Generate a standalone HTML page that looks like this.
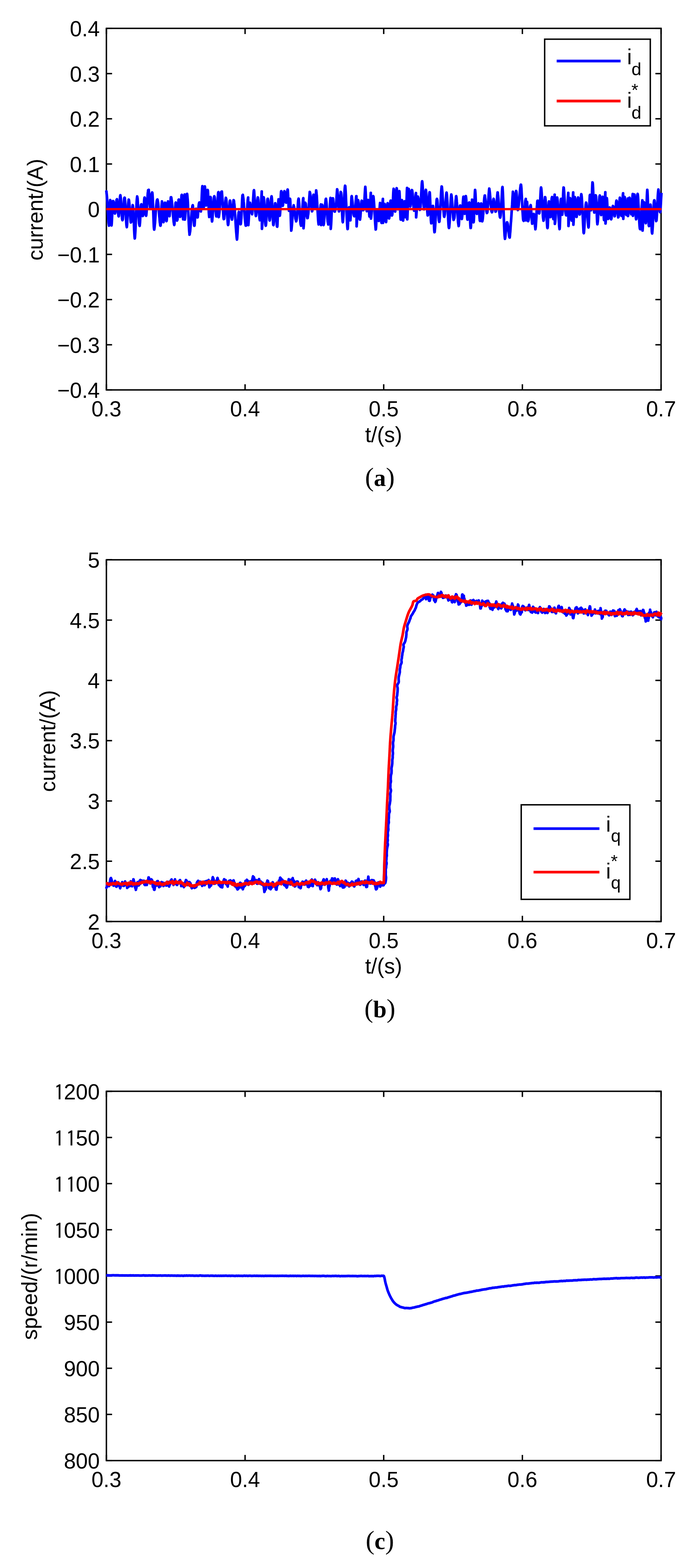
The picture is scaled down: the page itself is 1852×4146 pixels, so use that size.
<!DOCTYPE html>
<html><head><meta charset="utf-8"><title>Figure</title><style>
html,body{margin:0;padding:0;background:#fff;}
svg{display:block;}
.t{font-family:"Liberation Sans",Arial,sans-serif;font-size:57px;fill:#000;}
.s{font-family:"Liberation Sans",Arial,sans-serif;font-size:47px;fill:#000;}
.c{font-family:"Liberation Serif","Times New Roman",serif;font-size:70px;fill:#000;}
</style></head><body>
<svg width="1852" height="4146" viewBox="0 0 1852 4146">
<rect width="1852" height="4146" fill="#fff"/>
<rect x="281.5" y="75.0" width="1467.5" height="956.0" fill="none" stroke="#000" stroke-width="3.75"/>
<path d="M281.5 1031.0V1016.0M281.5 75.0V90.0M648.4 1031.0V1016.0M648.4 75.0V90.0M1015.2 1031.0V1016.0M1015.2 75.0V90.0M1382.1 1031.0V1016.0M1382.1 75.0V90.0M1749.0 1031.0V1016.0M1749.0 75.0V90.0M281.5 1031.0H296.5M1749.0 1031.0H1734.0M281.5 911.5H296.5M1749.0 911.5H1734.0M281.5 792.0H296.5M1749.0 792.0H1734.0M281.5 672.5H296.5M1749.0 672.5H1734.0M281.5 553.0H296.5M1749.0 553.0H1734.0M281.5 433.5H296.5M1749.0 433.5H1734.0M281.5 314.0H296.5M1749.0 314.0H1734.0M281.5 194.5H296.5M1749.0 194.5H1734.0M281.5 75.0H296.5M1749.0 75.0H1734.0" stroke="#000" stroke-width="3.75" fill="none"/>
<text class="t" x="281.5" y="1101.0" text-anchor="middle">0.3</text>
<text class="t" x="648.4" y="1101.0" text-anchor="middle">0.4</text>
<text class="t" x="1015.2" y="1101.0" text-anchor="middle">0.5</text>
<text class="t" x="1382.1" y="1101.0" text-anchor="middle">0.6</text>
<text class="t" x="1749.0" y="1101.0" text-anchor="middle">0.7</text>
<text class="t" x="264" y="1052.0" text-anchor="end">&#8722;0.4</text>
<text class="t" x="264" y="932.5" text-anchor="end">&#8722;0.3</text>
<text class="t" x="264" y="813.0" text-anchor="end">&#8722;0.2</text>
<text class="t" x="264" y="693.5" text-anchor="end">&#8722;0.1</text>
<text class="t" x="264" y="574.0" text-anchor="end">0</text>
<text class="t" x="264" y="454.5" text-anchor="end">0.1</text>
<text class="t" x="264" y="335.0" text-anchor="end">0.2</text>
<text class="t" x="264" y="215.5" text-anchor="end">0.3</text>
<text class="t" x="264" y="96.0" text-anchor="end">0.4</text>
<text class="t" transform="translate(113,554.5) rotate(-90)" text-anchor="middle">current/(A)</text>
<text class="t" x="1015" y="1168.5" text-anchor="middle">t/(s)</text>
<text class="c" x="1005" y="1285" text-anchor="middle">(<tspan font-weight="bold" font-size="64">a</tspan>)</text>
<polyline points="281.0,507.7 281.5,505.8 282.0,511.3 282.5,515.2 283.0,521.1 283.5,528.3 284.0,534.8 284.5,544.7 285.0,552.9 285.5,565.0 286.0,570.8 286.5,578.0 287.0,584.8 287.5,589.9 288.0,593.6 288.5,596.6 289.0,593.3 289.5,581.0 290.0,565.6 290.5,547.7 291.0,534.4 291.5,529.0 292.0,529.7 292.5,538.1 293.0,553.1 293.5,570.4 294.0,586.3 294.5,594.2 295.0,596.2 295.5,592.3 296.0,583.0 296.5,573.9 297.0,564.5 297.5,554.3 298.0,545.1 298.5,538.9 299.0,531.8 299.5,533.1 300.0,532.0 300.5,533.7 301.0,538.7 301.5,543.3 302.0,547.6 302.5,552.3 303.0,557.8 303.5,561.3 304.0,564.5 304.5,564.1 305.0,562.0 305.5,559.3 306.0,553.5 306.5,547.2 307.0,542.4 307.5,536.9 308.0,531.7 308.5,528.2 309.0,527.9 309.5,526.8 310.0,532.2 310.5,536.7 311.0,541.2 311.5,549.6 312.0,556.1 312.5,564.1 313.0,566.9 313.5,570.7 314.0,572.2 314.5,569.9 315.0,562.0 315.5,555.8 316.0,547.5 316.5,537.4 317.0,530.4 317.5,521.2 318.0,518.1 318.5,516.1 319.0,520.3 319.5,523.6 320.0,529.7 320.5,536.5 321.0,548.0 321.5,556.2 322.0,564.8 322.5,572.6 323.0,577.8 323.5,580.8 324.0,582.2 324.5,581.1 325.0,579.5 325.5,571.7 326.0,565.2 326.5,557.1 327.0,548.9 327.5,541.0 328.0,532.2 328.5,525.9 329.0,523.3 329.5,522.6 330.0,523.2 330.5,526.2 331.0,531.6 331.5,539.9 332.0,548.8 332.5,559.7 333.0,568.7 333.5,579.1 334.0,587.2 334.5,594.2 335.0,598.0 335.5,600.6 336.0,596.0 336.5,589.6 337.0,578.3 337.5,570.0 338.0,559.7 338.5,550.9 339.0,540.1 339.5,536.2 340.0,531.6 340.5,527.8 341.0,528.5 341.5,531.4 342.0,536.6 342.5,542.9 343.0,550.5 343.5,555.2 344.0,562.7 344.5,570.4 345.0,579.0 345.5,584.0 346.0,588.2 346.5,587.7 347.0,587.5 347.5,583.7 348.0,580.3 348.5,573.0 349.0,564.8 349.5,557.4 350.0,551.7 350.5,545.7 351.0,542.4 351.5,543.3 352.0,547.7 352.5,551.5 353.0,559.9 353.5,570.3 354.0,582.3 354.5,596.4 355.0,608.6 355.5,618.2 356.0,626.2 356.5,630.6 357.0,628.2 357.5,620.8 358.0,613.4 358.5,603.6 359.0,591.4 359.5,579.4 360.0,566.8 360.5,555.2 361.0,545.2 361.5,534.8 362.0,527.4 362.5,522.7 363.0,519.4 363.5,522.8 364.0,524.6 364.5,533.4 365.0,540.1 365.5,549.3 366.0,559.0 366.5,568.2 367.0,576.5 367.5,583.2 368.0,590.4 368.5,593.2 369.0,596.0 369.5,597.3 370.0,592.2 370.5,587.2 371.0,577.0 371.5,567.9 372.0,556.4 372.5,548.1 373.0,543.0 373.5,540.9 374.0,540.3 374.5,544.2 375.0,549.1 375.5,556.5 376.0,560.9 376.5,567.6 377.0,569.9 377.5,571.1 378.0,570.8 378.5,569.0 379.0,566.2 379.5,560.9 380.0,552.5 380.5,544.4 381.0,536.9 381.5,528.8 382.0,524.2 382.5,522.2 383.0,523.1 383.5,530.1 384.0,535.9 384.5,547.2 385.0,556.1 385.5,565.2 386.0,569.7 386.5,570.5 387.0,568.6 387.5,563.2 388.0,557.4 388.5,550.3 389.0,542.3 389.5,534.0 390.0,525.6 390.5,518.7 391.0,510.8 391.5,507.2 392.0,502.7 392.5,502.4 393.0,502.2 393.5,501.9 394.0,508.1 394.5,514.2 395.0,521.0 395.5,530.3 396.0,537.2 396.5,542.8 397.0,549.0 397.5,552.0 398.0,552.6 398.5,549.5 399.0,546.7 399.5,540.7 400.0,531.9 400.5,524.6 401.0,517.7 401.5,511.8 402.0,510.8 402.5,508.8 403.0,509.6 403.5,514.6 404.0,523.0 404.5,535.3 405.0,546.0 405.5,560.1 406.0,574.3 406.5,586.9 407.0,599.5 407.5,605.0 408.0,607.2 408.5,604.0 409.0,600.4 409.5,594.0 410.0,590.4 410.5,582.4 411.0,575.6 411.5,567.6 412.0,560.7 412.5,554.9 413.0,548.9 413.5,543.0 414.0,538.4 414.5,534.0 415.0,530.4 415.5,529.1 416.0,527.9 416.5,527.5 417.0,529.3 417.5,531.9 418.0,534.1 418.5,537.5 419.0,543.0 419.5,549.3 420.0,553.4 420.5,559.6 421.0,565.7 421.5,572.9 422.0,576.3 422.5,583.4 423.0,588.7 423.5,591.0 424.0,595.8 424.5,596.9 425.0,595.6 425.5,590.5 426.0,579.5 426.5,568.1 427.0,557.4 427.5,544.0 428.0,538.1 428.5,532.6 429.0,534.3 429.5,538.7 430.0,545.5 430.5,557.3 431.0,568.7 431.5,577.0 432.0,583.3 432.5,587.4 433.0,585.2 433.5,579.5 434.0,572.6 434.5,564.3 435.0,553.3 435.5,545.7 436.0,539.9 436.5,536.0 437.0,536.2 437.5,540.8 438.0,549.5 438.5,559.5 439.0,568.6 439.5,577.1 440.0,581.9 440.5,584.7 441.0,582.6 441.5,577.6 442.0,568.6 442.5,558.2 443.0,549.0 443.5,539.8 444.0,533.9 444.5,532.6 445.0,533.0 445.5,539.8 446.0,545.0 446.5,551.7 447.0,560.8 447.5,566.8 448.0,569.7 448.5,571.6 449.0,567.2 449.5,559.3 450.0,554.1 450.5,543.6 451.0,536.3 451.5,527.1 452.0,521.7 452.5,522.4 453.0,521.8 453.5,525.0 454.0,529.0 454.5,531.7 455.0,535.9 455.5,541.0 456.0,547.0 456.5,551.5 457.0,558.6 457.5,564.6 458.0,572.0 458.5,575.6 459.0,580.4 459.5,586.4 460.0,589.4 460.5,593.1 461.0,594.8 461.5,592.2 462.0,583.4 462.5,573.7 463.0,560.4 463.5,550.9 464.0,544.1 464.5,536.9 465.0,535.5 465.5,537.8 466.0,545.4 466.5,553.7 467.0,562.1 467.5,572.5 468.0,579.1 468.5,583.2 469.0,582.0 469.5,580.2 470.0,572.1 470.5,562.2 471.0,551.4 471.5,541.5 472.0,534.1 472.5,528.1 473.0,527.8 473.5,530.0 474.0,536.7 474.5,544.8 475.0,553.6 475.5,561.1 476.0,569.6 476.5,573.4 477.0,572.2 477.5,567.7 478.0,558.6 478.5,548.8 479.0,537.5 479.5,529.2 480.0,520.4 480.5,515.7 481.0,515.3 481.5,521.1 482.0,531.3 482.5,542.0 483.0,553.6 483.5,566.9 484.0,575.7 484.5,579.9 485.0,579.2 485.5,574.0 486.0,563.8 486.5,551.5 487.0,536.9 487.5,526.6 488.0,516.8 488.5,514.2 489.0,580.6 489.5,578.5 490.0,572.8 490.5,564.4 491.0,556.9 491.5,548.6 492.0,540.1 492.5,531.4 493.0,524.9 493.5,520.4 494.0,516.6 494.5,513.3 495.0,512.6 495.5,516.4 496.0,522.3 496.5,527.5 497.0,535.7 497.5,546.5 498.0,556.2 498.5,567.8 499.0,579.7 499.5,590.9 500.0,599.8 500.5,610.0 501.0,615.0 501.5,620.6 502.0,617.1 502.5,614.4 503.0,612.0 503.5,606.2 504.0,600.2 504.5,594.2 505.0,588.2 505.5,581.0 506.0,574.2 506.5,568.5 507.0,560.9 507.5,555.6 508.0,550.8 508.5,548.4 509.0,545.4 509.5,543.9 510.0,542.5 510.5,546.0 511.0,553.9 511.5,562.2 512.0,573.5 512.5,583.1 513.0,589.8 513.5,595.4 514.0,597.0 514.5,596.8 515.0,592.8 515.5,583.8 516.0,575.9 516.5,566.1 517.0,561.1 517.5,555.9 518.0,552.3 518.5,553.4 519.0,552.1 519.5,555.9 520.0,560.3 520.5,564.1 521.0,570.5 521.5,574.5 522.0,574.7 522.5,574.9 523.0,574.7 523.5,570.3 524.0,563.9 524.5,558.3 525.0,551.8 525.5,545.7 526.0,541.4 526.5,537.6 527.0,536.9 527.5,535.3 528.0,535.7 528.5,538.9 529.0,543.5 529.5,548.3 530.0,551.9 530.5,557.5 531.0,558.7 531.5,559.0 532.0,553.6 532.5,546.7 533.0,536.8 533.5,526.7 534.0,514.1 534.5,503.5 535.0,496.4 535.5,492.2 536.0,497.3 536.5,507.9 537.0,522.1 537.5,537.4 538.0,546.1 538.5,551.2 539.0,548.7 539.5,540.7 540.0,526.3 540.5,512.5 541.0,501.0 541.5,494.2 542.0,492.9 542.5,496.8 543.0,504.3 543.5,515.3 544.0,526.4 544.5,534.5 545.0,540.6 545.5,543.3 546.0,540.7 546.5,536.2 547.0,528.6 547.5,520.1 548.0,511.1 548.5,504.0 549.0,502.3 549.5,502.4 550.0,504.3 550.5,512.3 551.0,523.0 551.5,536.3 552.0,547.7 552.5,561.9 553.0,568.6 553.5,573.7 554.0,571.4 554.5,564.9 555.0,553.9 555.5,542.6 556.0,530.5 556.5,523.6 557.0,520.9 557.5,522.2 558.0,531.6 558.5,541.4 559.0,553.1 559.5,566.1 560.0,574.5 560.5,581.8 561.0,585.5 561.5,583.0 562.0,576.5 562.5,570.0 563.0,564.7 563.5,558.4 564.0,548.7 564.5,540.6 565.0,533.7 565.5,526.1 566.0,522.3 566.5,519.9 567.0,518.9 567.5,520.3 568.0,522.8 568.5,528.6 569.0,533.9 569.5,542.1 570.0,551.0 570.5,555.8 571.0,561.1 571.5,567.4 572.0,571.0 572.5,572.3 573.0,570.7 573.5,565.3 574.0,559.4 574.5,553.5 575.0,542.9 575.5,535.6 576.0,525.8 576.5,518.8 577.0,512.5 577.5,508.4 578.0,508.0 578.5,574.1 579.0,573.1 579.5,569.9 580.0,566.1 580.5,562.0 581.0,555.2 581.5,548.9 582.0,542.6 582.5,536.5 583.0,531.2 583.5,524.1 584.0,520.4 584.5,515.1 585.0,510.9 585.5,507.3 586.0,506.9 586.5,506.6 587.0,506.6 587.5,513.3 588.0,520.1 588.5,527.1 589.0,536.5 589.5,547.8 590.0,556.4 590.5,563.4 591.0,571.3 591.5,576.4 592.0,579.4 592.5,578.1 593.0,578.6 593.5,573.2 594.0,567.8 594.5,560.1 595.0,552.8 595.5,543.6 596.0,535.6 596.5,530.4 597.0,526.6 597.5,523.0 598.0,524.5 598.5,526.2 599.0,530.4 599.5,538.9 600.0,545.4 600.5,556.1 601.0,564.4 601.5,574.2 602.0,580.9 602.5,587.7 603.0,593.6 603.5,594.9 604.0,592.8 604.5,587.4 605.0,580.7 605.5,570.2 606.0,560.5 606.5,551.6 607.0,542.4 607.5,535.8 608.0,531.9 608.5,530.3 609.0,531.4 609.5,536.6 610.0,541.8 610.5,549.1 611.0,555.8 611.5,562.9 612.0,568.6 612.5,575.2 613.0,577.7 613.5,580.4 614.0,580.4 614.5,577.5 615.0,571.2 615.5,562.3 616.0,555.1 616.5,545.6 617.0,539.3 617.5,532.4 618.0,529.3 618.5,529.7 619.0,531.5 619.5,536.7 620.0,539.9 620.5,545.4 621.0,553.3 621.5,560.9 622.0,566.8 622.5,575.4 623.0,582.4 623.5,591.6 624.0,600.4 624.5,607.1 625.0,613.7 625.5,619.2 626.0,626.0 626.5,630.7 627.0,633.4 627.5,628.9 628.0,620.7 628.5,614.1 629.0,602.3 629.5,591.6 630.0,582.2 630.5,571.2 631.0,566.1 631.5,561.6 632.0,560.2 632.5,561.4 633.0,563.2 633.5,565.0 634.0,570.6 634.5,576.3 635.0,581.9 635.5,585.8 636.0,589.3 636.5,593.0 637.0,592.3 637.5,588.8 638.0,581.6 638.5,576.3 639.0,562.5 639.5,553.5 640.0,544.2 640.5,532.0 641.0,523.6 641.5,516.2 642.0,515.9 642.5,515.1 643.0,518.8 643.5,522.3 644.0,525.9 644.5,532.8 645.0,537.1 645.5,544.4 646.0,551.9 646.5,558.8 647.0,566.6 647.5,573.8 648.0,579.1 648.5,584.5 649.0,589.2 649.5,593.0 650.0,596.5 650.5,596.7 651.0,595.6 651.5,591.4 652.0,585.2 652.5,579.3 653.0,569.4 653.5,561.3 654.0,553.4 654.5,542.8 655.0,536.0 655.5,528.7 656.0,525.2 656.5,522.2 657.0,595.2 657.5,589.5 658.0,582.0 658.5,573.6 659.0,562.8 659.5,554.1 660.0,546.1 660.5,540.6 661.0,537.3 661.5,536.1 662.0,539.1 662.5,543.4 663.0,546.2 663.5,547.6 664.0,551.9 664.5,553.7 665.0,557.3 665.5,560.3 666.0,563.2 666.5,565.2 667.0,566.5 667.5,562.1 668.0,556.6 668.5,550.2 669.0,542.2 669.5,531.7 670.0,523.8 670.5,515.7 671.0,508.4 671.5,504.0 672.0,503.0 672.5,506.8 673.0,515.5 673.5,523.3 674.0,530.4 674.5,541.3 675.0,550.3 675.5,558.8 676.0,565.0 676.5,568.7 677.0,571.1 677.5,570.5 678.0,567.4 678.5,561.2 679.0,554.0 679.5,548.7 680.0,540.9 680.5,535.4 681.0,529.7 681.5,524.9 682.0,522.0 682.5,522.4 683.0,525.7 683.5,528.9 684.0,536.7 684.5,544.5 685.0,552.8 685.5,562.5 686.0,568.7 686.5,576.7 687.0,579.9 687.5,582.3 688.0,581.9 688.5,580.5 689.0,575.1 689.5,569.3 690.0,559.1 690.5,549.7 691.0,538.1 691.5,524.8 692.0,515.2 692.5,506.3 693.0,605.1 693.5,600.5 694.0,592.1 694.5,584.2 695.0,570.5 695.5,556.7 696.0,544.5 696.5,533.1 697.0,526.5 697.5,521.6 698.0,523.3 698.5,526.0 699.0,530.9 699.5,540.4 700.0,552.2 700.5,562.8 701.0,575.6 701.5,585.4 702.0,591.1 702.5,595.0 703.0,596.8 703.5,595.6 704.0,590.8 704.5,582.4 705.0,574.1 705.5,562.8 706.0,553.6 706.5,543.1 707.0,536.4 707.5,528.9 708.0,525.7 708.5,525.6 709.0,527.7 709.5,529.9 710.0,536.2 710.5,544.6 711.0,553.3 711.5,561.3 712.0,570.1 712.5,576.4 713.0,582.1 713.5,583.1 714.0,580.4 714.5,575.7 715.0,570.9 715.5,563.2 716.0,552.6 716.5,543.2 717.0,532.8 717.5,524.6 718.0,521.3 718.5,519.0 719.0,522.3 719.5,527.0 720.0,537.2 720.5,547.4 721.0,560.3 721.5,570.5 722.0,580.5 722.5,588.3 723.0,594.6 723.5,595.2 724.0,592.9 724.5,588.1 725.0,581.0 725.5,574.4 726.0,562.5 726.5,554.4 727.0,548.0 727.5,542.2 728.0,537.5 728.5,537.5 729.0,539.8 729.5,545.1 730.0,551.9 730.5,562.3 731.0,571.0 731.5,581.8 732.0,588.3 732.5,596.7 733.0,599.1 733.5,599.4 734.0,594.7 734.5,582.4 735.0,569.1 735.5,553.0 736.0,542.1 736.5,531.7 737.0,527.0 737.5,529.8 738.0,536.8 738.5,545.0 739.0,556.3 739.5,566.2 740.0,570.4 740.5,570.0 741.0,564.6 741.5,556.0 742.0,541.8 742.5,527.1 743.0,516.9 743.5,507.6 744.0,505.5 744.5,505.7 745.0,509.3 745.5,515.8 746.0,524.8 746.5,531.3 747.0,537.8 747.5,542.4 748.0,544.2 748.5,543.1 749.0,539.6 749.5,535.2 750.0,529.0 750.5,519.6 751.0,516.9 751.5,510.2 752.0,508.1 752.5,505.5 753.0,506.9 753.5,509.1 754.0,512.9 754.5,518.4 755.0,523.6 755.5,527.4 756.0,532.2 756.5,535.4 757.0,535.8 757.5,533.3 758.0,529.6 758.5,524.4 759.0,517.5 759.5,511.2 760.0,508.0 760.5,502.5 761.0,501.1 761.5,502.9 762.0,511.6 762.5,522.5 763.0,533.0 763.5,544.9 764.0,551.8 764.5,557.3 765.0,555.2 765.5,547.6 766.0,540.3 766.5,530.9 767.0,525.6 767.5,525.9 768.0,532.1 768.5,545.6 769.0,564.0 769.5,581.9 770.0,597.2 770.5,609.8 771.0,607.8 771.5,603.3 772.0,597.5 772.5,591.7 773.0,584.5 773.5,576.1 774.0,569.1 774.5,560.2 775.0,555.2 775.5,550.3 776.0,547.2 776.5,545.5 777.0,542.8 777.5,547.8 778.0,546.6 778.5,550.6 779.0,554.8 779.5,559.2 780.0,563.5 780.5,565.7 781.0,571.7 781.5,577.3 782.0,579.3 782.5,581.6 783.0,582.0 783.5,585.3 784.0,584.3 784.5,581.5 785.0,579.1 785.5,574.8 786.0,568.6 786.5,562.9 787.0,556.4 787.5,549.4 788.0,543.0 788.5,535.7 789.0,530.1 789.5,527.0 790.0,525.2 790.5,527.3 791.0,533.5 791.5,538.1 792.0,545.6 792.5,554.0 793.0,560.9 793.5,570.6 794.0,578.2 794.5,584.7 795.0,590.7 795.5,593.8 796.0,594.9 796.5,596.8 797.0,594.8 797.5,592.8 798.0,587.1 798.5,579.7 799.0,572.1 799.5,564.3 800.0,555.0 800.5,545.5 801.0,537.6 801.5,530.4 802.0,525.7 802.5,523.8 803.0,603.5 803.5,598.9 804.0,590.6 804.5,581.3 805.0,571.6 805.5,562.9 806.0,555.2 806.5,547.5 807.0,540.0 807.5,536.0 808.0,536.7 808.5,537.6 809.0,539.3 809.5,545.4 810.0,550.0 810.5,556.9 811.0,562.1 811.5,568.0 812.0,572.1 812.5,574.3 813.0,576.7 813.5,576.6 814.0,576.6 814.5,572.7 815.0,568.9 815.5,566.4 816.0,560.9 816.5,554.2 817.0,546.2 817.5,535.9 818.0,528.4 818.5,520.8 819.0,514.5 819.5,507.4 820.0,508.9 820.5,511.3 821.0,513.6 821.5,518.9 822.0,525.0 822.5,529.9 823.0,536.7 823.5,542.5 824.0,547.4 824.5,552.0 825.0,555.0 825.5,558.7 826.0,558.3 826.5,555.1 827.0,549.4 827.5,539.3 828.0,530.7 828.5,523.0 829.0,516.7 829.5,514.9 830.0,517.4 830.5,522.2 831.0,527.1 831.5,534.5 832.0,542.8 832.5,546.6 833.0,547.9 833.5,548.5 834.0,545.9 834.5,537.7 835.0,529.2 835.5,518.6 836.0,510.1 836.5,503.6 837.0,507.0 837.5,512.9 838.0,517.0 838.5,526.3 839.0,534.6 839.5,543.4 840.0,552.2 840.5,560.4 841.0,569.3 841.5,578.3 842.0,584.9 842.5,590.1 843.0,593.4 843.5,592.9 844.0,589.7 844.5,585.5 845.0,581.8 845.5,576.4 846.0,569.7 846.5,561.9 847.0,556.4 847.5,549.9 848.0,546.4 848.5,541.9 849.0,540.5 849.5,595.0 850.0,590.5 850.5,581.7 851.0,566.8 851.5,553.0 852.0,545.6 852.5,541.4 853.0,543.4 853.5,550.4 854.0,562.6 854.5,575.6 855.0,585.9 855.5,593.3 856.0,595.1 856.5,592.5 857.0,591.1 857.5,583.4 858.0,578.0 858.5,571.9 859.0,562.5 859.5,553.8 860.0,545.6 860.5,538.8 861.0,534.5 861.5,528.9 862.0,526.2 862.5,525.7 863.0,529.8 863.5,533.9 864.0,539.3 864.5,546.9 865.0,555.4 865.5,564.3 866.0,571.1 866.5,578.7 867.0,585.8 867.5,588.1 868.0,590.6 868.5,593.5 869.0,593.3 869.5,591.2 870.0,588.0 870.5,582.3 871.0,576.1 871.5,567.3 872.0,559.4 872.5,548.8 873.0,540.5 873.5,533.5 874.0,526.8 874.5,523.4 875.0,605.2 875.5,600.3 876.0,593.6 876.5,583.7 877.0,572.3 877.5,561.5 878.0,551.1 878.5,541.6 879.0,534.1 879.5,528.8 880.0,524.8 880.5,524.3 881.0,524.6 881.5,526.3 882.0,532.8 882.5,538.2 883.0,542.7 883.5,548.7 884.0,553.8 884.5,556.5 885.0,559.2 885.5,559.6 886.0,559.4 886.5,557.4 887.0,556.1 887.5,553.5 888.0,552.0 888.5,546.4 889.0,543.0 889.5,537.4 890.0,529.6 890.5,521.4 891.0,514.1 891.5,505.9 892.0,500.4 892.5,502.5 893.0,506.7 893.5,513.7 894.0,519.9 894.5,530.0 895.0,536.6 895.5,545.3 896.0,552.6 896.5,558.2 897.0,558.9 897.5,557.1 898.0,556.0 898.5,550.2 899.0,542.1 899.5,534.0 900.0,526.1 900.5,519.3 901.0,513.3 901.5,507.4 902.0,509.1 902.5,509.2 903.0,514.1 903.5,523.2 904.0,533.5 904.5,547.4 905.0,559.0 905.5,569.5 906.0,579.2 906.5,585.7 907.0,587.6 907.5,584.2 908.0,576.7 908.5,570.1 909.0,558.8 909.5,547.9 910.0,537.6 910.5,524.2 911.0,514.9 911.5,507.1 912.0,499.4 912.5,494.0 913.0,491.1 913.5,491.9 914.0,498.9 914.5,506.3 915.0,515.9 915.5,529.5 916.0,539.6 916.5,551.8 917.0,565.3 917.5,576.2 918.0,585.1 918.5,593.7 919.0,601.1 919.5,605.7 920.0,605.4 920.5,597.1 921.0,585.7 921.5,573.6 922.0,562.1 922.5,554.6 923.0,550.2 923.5,548.1 924.0,554.6 924.5,560.1 925.0,567.7 925.5,576.5 926.0,580.1 926.5,582.6 927.0,582.6 927.5,576.1 928.0,566.8 928.5,555.9 929.0,543.5 929.5,530.9 930.0,520.5 930.5,518.5 931.0,520.5 931.5,525.2 932.0,528.8 932.5,534.2 933.0,540.6 933.5,545.7 934.0,552.6 934.5,558.3 935.0,561.9 935.5,566.3 936.0,569.1 936.5,568.6 937.0,571.3 937.5,571.8 938.0,570.9 938.5,566.5 939.0,562.6 939.5,557.7 940.0,550.2 940.5,541.5 941.0,534.9 941.5,529.0 942.0,522.2 942.5,518.8 943.0,518.8 943.5,598.6 944.0,591.7 944.5,580.9 945.0,569.3 945.5,558.7 946.0,546.2 946.5,536.3 947.0,530.6 947.5,529.0 948.0,531.0 948.5,534.4 949.0,542.6 949.5,550.2 950.0,559.0 950.5,567.1 951.0,574.0 951.5,578.0 952.0,580.5 952.5,580.7 953.0,576.3 953.5,572.2 954.0,565.6 954.5,558.2 955.0,549.5 955.5,542.3 956.0,536.8 956.5,532.2 957.0,530.7 957.5,531.5 958.0,533.5 958.5,536.0 959.0,541.0 959.5,544.3 960.0,550.9 960.5,553.2 961.0,555.8 961.5,555.2 962.0,554.8 962.5,552.6 963.0,548.7 963.5,540.6 964.0,534.4 964.5,524.6 965.0,514.7 965.5,506.8 966.0,498.8 966.5,494.1 967.0,499.1 967.5,509.0 968.0,520.3 968.5,532.1 969.0,542.3 969.5,551.0 970.0,556.5 970.5,558.3 971.0,555.2 971.5,551.9 972.0,545.4 972.5,539.6 973.0,536.6 973.5,530.2 974.0,528.8 974.5,530.3 975.0,533.7 975.5,541.3 976.0,552.6 976.5,560.1 977.0,567.8 977.5,572.4 978.0,571.5 978.5,566.3 979.0,557.2 979.5,542.5 980.0,532.1 980.5,518.2 981.0,510.0 981.5,577.9 982.0,574.8 982.5,569.4 983.0,564.7 983.5,556.8 984.0,549.8 984.5,541.8 985.0,535.4 985.5,530.3 986.0,525.1 986.5,521.6 987.0,520.0 987.5,518.6 988.0,519.7 988.5,524.0 989.0,530.9 989.5,536.2 990.0,544.1 990.5,552.3 991.0,561.6 991.5,570.9 992.0,579.6 992.5,587.9 993.0,594.9 993.5,601.1 994.0,606.9 994.5,605.8 995.0,599.2 995.5,589.1 996.0,577.8 996.5,568.9 997.0,561.0 997.5,554.4 998.0,554.8 998.5,556.5 999.0,561.6 999.5,565.1 1000.0,570.8 1000.5,577.2 1001.0,579.8 1001.5,583.7 1002.0,584.1 1002.5,581.8 1003.0,575.6 1003.5,568.8 1004.0,560.2 1004.5,550.2 1005.0,542.2 1005.5,536.7 1006.0,537.2 1006.5,540.1 1007.0,548.3 1007.5,557.3 1008.0,570.4 1008.5,579.2 1009.0,587.2 1009.5,589.5 1010.0,585.8 1010.5,579.4 1011.0,569.3 1011.5,555.9 1012.0,543.4 1012.5,532.0 1013.0,526.0 1013.5,589.3 1014.0,586.0 1014.5,579.0 1015.0,568.3 1015.5,557.6 1016.0,547.7 1016.5,542.6 1017.0,539.4 1017.5,539.3 1018.0,544.2 1018.5,552.7 1019.0,561.1 1019.5,572.1 1020.0,578.0 1020.5,582.3 1021.0,585.6 1021.5,587.2 1022.0,582.0 1022.5,577.4 1023.0,569.2 1023.5,561.0 1024.0,551.5 1024.5,543.5 1025.0,539.3 1025.5,537.2 1026.0,539.4 1026.5,543.7 1027.0,552.7 1027.5,559.2 1028.0,567.5 1028.5,572.8 1029.0,577.1 1029.5,577.6 1030.0,575.1 1030.5,570.2 1031.0,561.5 1031.5,552.8 1032.0,546.3 1032.5,538.4 1033.0,532.1 1033.5,530.6 1034.0,530.6 1034.5,531.6 1035.0,539.9 1035.5,549.0 1036.0,557.5 1036.5,563.6 1037.0,569.8 1037.5,568.7 1038.0,565.8 1038.5,558.5 1039.0,547.6 1039.5,535.4 1040.0,522.4 1040.5,509.9 1041.0,502.8 1041.5,499.1 1042.0,502.3 1042.5,511.1 1043.0,520.0 1043.5,532.6 1044.0,542.7 1044.5,552.1 1045.0,558.0 1045.5,559.5 1046.0,555.9 1046.5,549.0 1047.0,539.4 1047.5,528.2 1048.0,516.1 1048.5,507.1 1049.0,501.2 1049.5,497.6 1050.0,500.1 1050.5,510.4 1051.0,521.3 1051.5,532.5 1052.0,543.9 1052.5,550.6 1053.0,553.3 1053.5,552.4 1054.0,543.8 1054.5,535.1 1055.0,521.9 1055.5,511.6 1056.0,505.7 1056.5,505.4 1057.0,508.6 1057.5,519.6 1058.0,531.5 1058.5,547.0 1059.0,562.3 1059.5,574.9 1060.0,580.6 1060.5,580.8 1061.0,573.0 1061.5,560.2 1062.0,548.0 1062.5,537.9 1063.0,529.7 1063.5,529.3 1064.0,534.9 1064.5,544.0 1065.0,558.4 1065.5,571.0 1066.0,580.0 1066.5,583.1 1067.0,577.8 1067.5,569.6 1068.0,559.0 1068.5,548.1 1069.0,539.0 1069.5,534.3 1070.0,532.4 1070.5,532.3 1071.0,537.0 1071.5,541.1 1072.0,550.6 1072.5,559.8 1073.0,568.0 1073.5,574.4 1074.0,574.0 1074.5,567.0 1075.0,554.5 1075.5,537.7 1076.0,520.9 1076.5,505.5 1077.0,496.9 1077.5,580.1 1078.0,572.2 1078.5,559.5 1079.0,545.1 1079.5,530.0 1080.0,516.2 1080.5,505.7 1081.0,499.4 1081.5,499.8 1082.0,504.0 1082.5,510.4 1083.0,515.0 1083.5,524.6 1084.0,533.0 1084.5,539.2 1085.0,544.6 1085.5,546.1 1086.0,544.2 1086.5,540.4 1087.0,532.8 1087.5,525.7 1088.0,517.9 1088.5,512.3 1089.0,504.7 1089.5,502.5 1090.0,502.6 1090.5,503.6 1091.0,507.6 1091.5,511.2 1092.0,518.0 1092.5,525.3 1093.0,533.6 1093.5,539.5 1094.0,546.4 1094.5,550.5 1095.0,554.1 1095.5,557.0 1096.0,555.8 1096.5,554.2 1097.0,549.5 1097.5,544.9 1098.0,538.3 1098.5,528.5 1099.0,523.6 1099.5,516.6 1100.0,512.5 1100.5,510.3 1101.0,574.6 1101.5,568.9 1102.0,562.9 1102.5,555.4 1103.0,548.1 1103.5,540.6 1104.0,533.3 1104.5,527.2 1105.0,522.5 1105.5,519.7 1106.0,521.5 1106.5,523.3 1107.0,527.1 1107.5,532.7 1108.0,536.7 1108.5,542.2 1109.0,545.5 1109.5,550.7 1110.0,552.6 1110.5,553.6 1111.0,554.8 1111.5,552.5 1112.0,550.0 1112.5,547.2 1113.0,539.6 1113.5,531.6 1114.0,522.3 1114.5,512.4 1115.0,502.4 1115.5,495.2 1116.0,485.8 1116.5,480.9 1117.0,479.4 1117.5,483.6 1118.0,488.8 1118.5,498.1 1119.0,511.1 1119.5,521.8 1120.0,530.5 1120.5,539.7 1121.0,547.1 1121.5,550.1 1122.0,553.6 1122.5,549.4 1123.0,545.1 1123.5,536.9 1124.0,532.4 1124.5,522.9 1125.0,516.2 1125.5,507.5 1126.0,504.1 1126.5,501.9 1127.0,502.8 1127.5,508.0 1128.0,514.5 1128.5,522.1 1129.0,530.3 1129.5,541.5 1130.0,551.5 1130.5,559.2 1131.0,565.6 1131.5,569.5 1132.0,569.4 1132.5,568.2 1133.0,564.4 1133.5,554.9 1134.0,546.7 1134.5,537.3 1135.0,525.8 1135.5,518.3 1136.0,510.7 1136.5,508.2 1137.0,509.0 1137.5,516.6 1138.0,527.9 1138.5,541.4 1139.0,555.6 1139.5,567.2 1140.0,581.4 1140.5,587.5 1141.0,590.4 1141.5,590.2 1142.0,586.9 1142.5,579.2 1143.0,571.7 1143.5,562.7 1144.0,554.9 1144.5,547.2 1145.0,544.5 1145.5,544.5 1146.0,548.2 1146.5,557.2 1147.0,566.8 1147.5,578.1 1148.0,591.6 1148.5,602.3 1149.0,610.0 1149.5,614.1 1150.0,613.8 1150.5,607.8 1151.0,601.9 1151.5,593.7 1152.0,586.0 1152.5,575.2 1153.0,564.5 1153.5,554.3 1154.0,546.6 1154.5,538.8 1155.0,530.5 1155.5,526.8 1156.0,525.8 1156.5,527.5 1157.0,529.1 1157.5,534.9 1158.0,542.4 1158.5,548.6 1159.0,556.4 1159.5,564.0 1160.0,570.5 1160.5,577.6 1161.0,582.5 1161.5,584.2 1162.0,586.6 1162.5,586.2 1163.0,581.7 1163.5,576.6 1164.0,568.2 1164.5,561.2 1165.0,549.9 1165.5,542.0 1166.0,530.0 1166.5,520.0 1167.0,510.9 1167.5,503.6 1168.0,497.4 1168.5,493.0 1169.0,493.7 1169.5,498.4 1170.0,504.2 1170.5,510.3 1171.0,519.7 1171.5,526.7 1172.0,535.6 1172.5,544.2 1173.0,553.5 1173.5,558.7 1174.0,564.2 1174.5,570.2 1175.0,572.7 1175.5,573.3 1176.0,570.2 1176.5,568.8 1177.0,565.0 1177.5,558.5 1178.0,550.0 1178.5,543.2 1179.0,534.0 1179.5,526.6 1180.0,522.4 1180.5,515.8 1181.0,510.5 1181.5,509.2 1182.0,513.2 1182.5,517.2 1183.0,525.1 1183.5,532.8 1184.0,543.2 1184.5,554.2 1185.0,564.1 1185.5,573.8 1186.0,583.7 1186.5,592.0 1187.0,598.3 1187.5,602.1 1188.0,602.9 1188.5,600.4 1189.0,594.1 1189.5,588.8 1190.0,580.5 1190.5,569.4 1191.0,558.9 1191.5,549.4 1192.0,539.1 1192.5,530.2 1193.0,522.9 1193.5,517.4 1194.0,514.2 1194.5,516.3 1195.0,520.4 1195.5,524.2 1196.0,531.9 1196.5,540.0 1197.0,547.6 1197.5,555.3 1198.0,563.0 1198.5,568.1 1199.0,574.6 1199.5,577.8 1200.0,581.6 1200.5,580.8 1201.0,579.5 1201.5,578.2 1202.0,576.6 1202.5,572.1 1203.0,565.3 1203.5,558.4 1204.0,550.2 1204.5,543.6 1205.0,536.6 1205.5,529.6 1206.0,526.2 1206.5,519.4 1207.0,518.7 1207.5,521.6 1208.0,526.0 1208.5,533.0 1209.0,537.8 1209.5,546.6 1210.0,556.1 1210.5,565.0 1211.0,573.0 1211.5,580.3 1212.0,588.3 1212.5,591.5 1213.0,595.2 1213.5,597.8 1214.0,594.5 1214.5,587.0 1215.0,576.5 1215.5,566.5 1216.0,556.9 1216.5,548.8 1217.0,544.0 1217.5,543.3 1218.0,543.6 1218.5,546.8 1219.0,553.1 1219.5,560.2 1220.0,569.0 1220.5,572.1 1221.0,578.2 1221.5,579.0 1222.0,578.7 1222.5,574.8 1223.0,570.4 1223.5,560.9 1224.0,553.2 1224.5,540.0 1225.0,530.7 1225.5,524.7 1226.0,520.1 1226.5,520.0 1227.0,525.0 1227.5,537.9 1228.0,548.5 1228.5,558.2 1229.0,563.4 1229.5,565.2 1230.0,559.6 1230.5,551.2 1231.0,540.0 1231.5,530.6 1232.0,521.5 1232.5,518.5 1233.0,522.2 1233.5,527.0 1234.0,534.8 1234.5,544.2 1235.0,555.5 1235.5,564.0 1236.0,573.0 1236.5,579.7 1237.0,580.8 1237.5,578.8 1238.0,574.4 1238.5,569.0 1239.0,559.9 1239.5,550.5 1240.0,543.0 1240.5,536.9 1241.0,535.9 1241.5,535.4 1242.0,543.2 1242.5,550.2 1243.0,562.4 1243.5,575.4 1244.0,587.2 1244.5,597.7 1245.0,602.8 1245.5,602.8 1246.0,598.6 1246.5,586.7 1247.0,573.7 1247.5,559.9 1248.0,545.3 1248.5,534.4 1249.0,528.1 1249.5,528.3 1250.0,533.2 1250.5,541.2 1251.0,554.5 1251.5,565.8 1252.0,577.7 1252.5,584.6 1253.0,587.9 1253.5,584.0 1254.0,574.5 1254.5,561.6 1255.0,547.0 1255.5,532.3 1256.0,518.3 1256.5,507.4 1257.0,502.2 1257.5,507.6 1258.0,513.3 1258.5,525.6 1259.0,535.9 1259.5,548.4 1260.0,555.8 1260.5,562.2 1261.0,564.5 1261.5,565.4 1262.0,563.7 1262.5,560.6 1263.0,553.9 1263.5,550.5 1264.0,549.7 1264.5,543.4 1265.0,539.8 1265.5,539.1 1266.0,537.6 1266.5,544.5 1267.0,548.8 1267.5,554.7 1268.0,564.7 1268.5,571.0 1269.0,577.4 1269.5,583.2 1270.0,584.1 1270.5,578.9 1271.0,570.3 1271.5,558.1 1272.0,547.1 1272.5,541.0 1273.0,538.0 1273.5,539.6 1274.0,546.9 1274.5,557.1 1275.0,568.9 1275.5,577.9 1276.0,585.2 1276.5,582.6 1277.0,580.4 1277.5,575.7 1278.0,568.9 1278.5,565.0 1279.0,555.9 1279.5,548.1 1280.0,541.3 1280.5,533.6 1281.0,528.1 1281.5,522.2 1282.0,519.7 1282.5,517.0 1283.0,517.0 1283.5,521.9 1284.0,525.6 1284.5,529.9 1285.0,537.0 1285.5,543.2 1286.0,550.1 1286.5,553.1 1287.0,558.7 1287.5,561.0 1288.0,563.3 1288.5,563.0 1289.0,562.3 1289.5,560.1 1290.0,554.8 1290.5,548.7 1291.0,544.0 1291.5,536.3 1292.0,529.0 1292.5,521.6 1293.0,513.5 1293.5,508.1 1294.0,501.9 1294.5,498.6 1295.0,501.9 1295.5,505.7 1296.0,510.1 1296.5,515.9 1297.0,521.3 1297.5,527.7 1298.0,534.5 1298.5,541.0 1299.0,545.4 1299.5,551.1 1300.0,555.8 1300.5,559.0 1301.0,559.3 1301.5,561.4 1302.0,560.9 1302.5,558.6 1303.0,554.4 1303.5,548.5 1304.0,542.5 1304.5,535.8 1305.0,530.2 1305.5,527.0 1306.0,525.7 1306.5,528.0 1307.0,530.3 1307.5,534.6 1308.0,539.7 1308.5,542.5 1309.0,547.6 1309.5,552.3 1310.0,555.1 1310.5,556.6 1311.0,559.8 1311.5,559.4 1312.0,557.7 1312.5,557.5 1313.0,550.8 1313.5,546.3 1314.0,539.0 1314.5,532.3 1315.0,525.3 1315.5,517.4 1316.0,512.4 1316.5,508.7 1317.0,509.0 1317.5,514.2 1318.0,518.3 1318.5,524.1 1319.0,530.7 1319.5,538.4 1320.0,546.4 1320.5,553.2 1321.0,561.3 1321.5,564.1 1322.0,569.0 1322.5,573.7 1323.0,574.2 1323.5,575.3 1324.0,572.7 1324.5,569.9 1325.0,564.2 1325.5,557.7 1326.0,548.9 1326.5,539.7 1327.0,529.3 1327.5,520.1 1328.0,510.7 1328.5,502.3 1329.0,496.1 1329.5,494.3 1330.0,502.7 1330.5,509.8 1331.0,523.2 1331.5,535.3 1332.0,550.3 1332.5,564.1 1333.0,577.4 1333.5,591.3 1334.0,601.5 1334.5,613.9 1335.0,622.5 1335.5,627.0 1336.0,631.5 1336.5,628.8 1337.0,625.4 1337.5,619.2 1338.0,615.0 1338.5,608.9 1339.0,602.5 1339.5,596.4 1340.0,593.4 1340.5,590.6 1341.0,588.1 1341.5,588.2 1342.0,588.0 1342.5,589.6 1343.0,591.3 1343.5,593.7 1344.0,599.3 1344.5,601.6 1345.0,605.5 1345.5,611.5 1346.0,614.7 1346.5,620.2 1347.0,624.2 1347.5,626.0 1348.0,628.0 1348.5,628.2 1349.0,624.2 1349.5,617.5 1350.0,613.0 1350.5,605.3 1351.0,597.7 1351.5,589.7 1352.0,585.5 1352.5,578.1 1353.0,570.7 1353.5,563.1 1354.0,555.3 1354.5,546.8 1355.0,540.5 1355.5,531.2 1356.0,522.1 1356.5,515.4 1357.0,507.1 1357.5,510.0 1358.0,514.0 1358.5,521.1 1359.0,529.1 1359.5,534.8 1360.0,543.1 1360.5,549.0 1361.0,551.9 1361.5,551.0 1362.0,549.3 1362.5,543.8 1363.0,537.6 1363.5,528.6 1364.0,520.6 1364.5,513.2 1365.0,508.0 1365.5,505.0 1366.0,505.7 1366.5,509.8 1367.0,516.0 1367.5,524.9 1368.0,533.8 1368.5,542.2 1369.0,547.9 1369.5,553.8 1370.0,555.4 1370.5,552.6 1371.0,551.1 1371.5,548.6 1372.0,545.0 1372.5,541.3 1373.0,535.8 1373.5,531.3 1374.0,524.2 1374.5,519.0 1375.0,512.7 1375.5,506.5 1376.0,502.7 1376.5,497.1 1377.0,493.5 1377.5,489.6 1378.0,488.3 1378.5,488.5 1379.0,493.0 1379.5,498.5 1380.0,508.9 1380.5,518.3 1381.0,528.0 1381.5,538.4 1382.0,548.5 1382.5,558.0 1383.0,565.5 1383.5,573.3 1384.0,579.2 1384.5,582.4 1385.0,583.3 1385.5,584.0 1386.0,579.8 1386.5,574.5 1387.0,568.7 1387.5,560.4 1388.0,554.4 1388.5,548.2 1389.0,542.7 1389.5,534.0 1390.0,530.2 1390.5,528.8 1391.0,526.0 1391.5,582.8 1392.0,575.6 1392.5,562.8 1393.0,550.2 1393.5,540.5 1394.0,535.0 1394.5,533.8 1395.0,541.9 1395.5,549.5 1396.0,562.4 1396.5,576.3 1397.0,581.0 1397.5,584.8 1398.0,582.6 1398.5,581.0 1399.0,577.5 1399.5,573.7 1400.0,569.9 1400.5,565.8 1401.0,560.0 1401.5,555.8 1402.0,549.8 1402.5,547.9 1403.0,544.6 1403.5,543.8 1404.0,542.4 1404.5,546.1 1405.0,553.1 1405.5,559.8 1406.0,567.5 1406.5,574.8 1407.0,582.2 1407.5,588.0 1408.0,591.4 1408.5,591.3 1409.0,590.3 1409.5,588.1 1410.0,582.9 1410.5,579.9 1411.0,574.1 1411.5,570.0 1412.0,565.7 1412.5,565.9 1413.0,568.2 1413.5,572.4 1414.0,577.5 1414.5,585.2 1415.0,591.8 1415.5,597.5 1416.0,600.8 1416.5,606.2 1417.0,602.9 1417.5,598.6 1418.0,590.8 1418.5,583.3 1419.0,574.7 1419.5,564.9 1420.0,556.2 1420.5,546.8 1421.0,541.5 1421.5,533.1 1422.0,530.9 1422.5,531.1 1423.0,530.9 1423.5,535.1 1424.0,539.9 1424.5,548.6 1425.0,552.2 1425.5,559.3 1426.0,562.5 1426.5,564.4 1427.0,563.6 1427.5,558.0 1428.0,551.5 1428.5,543.6 1429.0,532.7 1429.5,524.6 1430.0,513.8 1430.5,505.7 1431.0,498.4 1431.5,495.7 1432.0,497.8 1432.5,503.2 1433.0,509.0 1433.5,518.6 1434.0,526.2 1434.5,534.2 1435.0,546.4 1435.5,554.9 1436.0,563.0 1436.5,573.1 1437.0,577.1 1437.5,580.5 1438.0,583.6 1438.5,581.7 1439.0,575.0 1439.5,567.0 1440.0,556.0 1440.5,543.3 1441.0,533.8 1441.5,526.5 1442.0,521.3 1442.5,521.4 1443.0,525.4 1443.5,529.8 1444.0,534.7 1444.5,543.1 1445.0,552.0 1445.5,561.6 1446.0,570.7 1446.5,581.6 1447.0,588.1 1447.5,595.2 1448.0,601.7 1448.5,603.2 1449.0,601.0 1449.5,593.1 1450.0,578.7 1450.5,564.8 1451.0,552.8 1451.5,541.5 1452.0,534.5 1452.5,532.6 1453.0,534.4 1453.5,541.3 1454.0,549.0 1454.5,559.6 1455.0,565.2 1455.5,570.6 1456.0,574.1 1456.5,573.8 1457.0,568.5 1457.5,561.6 1458.0,553.9 1458.5,541.1 1459.0,532.2 1459.5,526.2 1460.0,522.9 1460.5,521.1 1461.0,527.3 1461.5,533.6 1462.0,546.1 1462.5,556.9 1463.0,567.1 1463.5,575.9 1464.0,579.3 1464.5,576.7 1465.0,572.3 1465.5,559.4 1466.0,547.4 1466.5,532.7 1467.0,520.6 1467.5,514.7 1468.0,592.1 1468.5,589.8 1469.0,585.8 1469.5,577.9 1470.0,569.8 1470.5,560.6 1471.0,552.9 1471.5,544.9 1472.0,535.5 1472.5,532.2 1473.0,527.5 1473.5,525.7 1474.0,522.3 1474.5,524.6 1475.0,528.3 1475.5,532.6 1476.0,539.9 1476.5,547.8 1477.0,557.9 1477.5,567.0 1478.0,576.8 1478.5,584.0 1479.0,590.7 1479.5,598.4 1480.0,602.9 1480.5,605.9 1481.0,601.1 1481.5,588.6 1482.0,575.0 1482.5,557.5 1483.0,543.6 1483.5,532.8 1484.0,526.0 1484.5,525.8 1485.0,529.2 1485.5,538.1 1486.0,548.4 1486.5,556.0 1487.0,562.2 1487.5,567.8 1488.0,563.6 1488.5,555.0 1489.0,542.7 1489.5,530.0 1490.0,512.1 1490.5,502.1 1491.0,495.7 1491.5,496.0 1492.0,501.9 1492.5,507.1 1493.0,515.5 1493.5,523.8 1494.0,532.3 1494.5,540.7 1495.0,548.2 1495.5,555.8 1496.0,560.2 1496.5,564.2 1497.0,567.3 1497.5,568.9 1498.0,569.4 1498.5,569.4 1499.0,568.4 1499.5,566.6 1500.0,561.0 1500.5,554.8 1501.0,549.8 1501.5,540.1 1502.0,530.5 1502.5,522.2 1503.0,516.9 1503.5,510.1 1504.0,597.6 1504.5,592.1 1505.0,582.9 1505.5,568.3 1506.0,555.7 1506.5,540.6 1507.0,531.7 1507.5,526.2 1508.0,523.9 1508.5,524.0 1509.0,531.6 1509.5,539.4 1510.0,547.8 1510.5,555.7 1511.0,564.7 1511.5,572.7 1512.0,580.3 1512.5,583.2 1513.0,582.9 1513.5,577.4 1514.0,566.6 1514.5,555.3 1515.0,542.9 1515.5,526.7 1516.0,516.6 1516.5,508.8 1517.0,594.3 1517.5,587.7 1518.0,576.7 1518.5,562.7 1519.0,548.4 1519.5,536.4 1520.0,525.1 1520.5,522.1 1521.0,521.3 1521.5,524.4 1522.0,531.4 1522.5,539.5 1523.0,550.4 1523.5,557.4 1524.0,564.4 1524.5,571.2 1525.0,573.5 1525.5,573.5 1526.0,571.0 1526.5,563.2 1527.0,554.8 1527.5,547.0 1528.0,534.9 1528.5,528.5 1529.0,523.9 1529.5,522.1 1530.0,524.0 1530.5,526.2 1531.0,534.1 1531.5,542.0 1532.0,550.4 1532.5,557.9 1533.0,563.0 1533.5,567.2 1534.0,567.0 1534.5,561.7 1535.0,556.5 1535.5,546.8 1536.0,536.9 1536.5,526.4 1537.0,521.8 1537.5,516.3 1538.0,513.4 1538.5,516.2 1539.0,519.9 1539.5,527.5 1540.0,534.8 1540.5,544.5 1541.0,554.5 1541.5,564.3 1542.0,575.5 1542.5,588.2 1543.0,596.7 1543.5,607.2 1544.0,614.9 1544.5,616.6 1545.0,614.6 1545.5,608.4 1546.0,601.4 1546.5,591.8 1547.0,582.8 1547.5,573.6 1548.0,565.4 1548.5,556.1 1549.0,548.6 1549.5,541.4 1550.0,538.7 1550.5,535.7 1551.0,535.9 1551.5,537.9 1552.0,541.8 1552.5,546.4 1553.0,552.2 1553.5,559.1 1554.0,568.0 1554.5,574.0 1555.0,582.3 1555.5,590.1 1556.0,594.4 1556.5,599.3 1557.0,601.6 1557.5,599.1 1558.0,588.0 1558.5,570.9 1559.0,555.1 1559.5,538.7 1560.0,525.5 1560.5,516.6 1561.0,515.3 1561.5,518.0 1562.0,524.0 1562.5,534.6 1563.0,543.4 1563.5,553.7 1564.0,555.9 1564.5,553.9 1565.0,545.1 1565.5,533.6 1566.0,519.3 1566.5,503.4 1567.0,490.7 1567.5,482.2 1568.0,483.3 1568.5,487.2 1569.0,496.1 1569.5,509.0 1570.0,522.5 1570.5,536.0 1571.0,547.4 1571.5,555.3 1572.0,560.9 1572.5,562.1 1573.0,557.6 1573.5,554.0 1574.0,545.5 1574.5,533.2 1575.0,525.3 1575.5,519.6 1576.0,516.4 1576.5,517.3 1577.0,519.2 1577.5,528.5 1578.0,540.5 1578.5,554.6 1579.0,566.5 1579.5,579.4 1580.0,588.0 1580.5,592.9 1581.0,589.4 1581.5,586.3 1582.0,580.3 1582.5,572.6 1583.0,565.8 1583.5,555.8 1584.0,548.6 1584.5,538.7 1585.0,533.2 1585.5,527.0 1586.0,520.3 1586.5,518.2 1587.0,516.9 1587.5,519.1 1588.0,527.9 1588.5,537.8 1589.0,547.5 1589.5,558.2 1590.0,566.1 1590.5,568.6 1591.0,567.2 1591.5,564.3 1592.0,554.3 1592.5,546.0 1593.0,537.5 1593.5,529.6 1594.0,521.6 1594.5,520.5 1595.0,522.8 1595.5,529.4 1596.0,540.5 1596.5,552.9 1597.0,565.1 1597.5,575.3 1598.0,581.7 1598.5,582.0 1599.0,573.3 1599.5,565.1 1600.0,547.8 1600.5,532.8 1601.0,516.7 1601.5,508.2 1602.0,591.1 1602.5,586.6 1603.0,574.5 1603.5,559.1 1604.0,544.3 1604.5,533.0 1605.0,524.9 1605.5,523.9 1606.0,527.9 1606.5,537.5 1607.0,547.7 1607.5,557.7 1608.0,568.6 1608.5,575.3 1609.0,578.9 1609.5,576.8 1610.0,574.4 1610.5,571.2 1611.0,564.2 1611.5,558.5 1612.0,554.1 1612.5,549.7 1613.0,548.6 1613.5,549.3 1614.0,552.6 1614.5,559.3 1615.0,564.6 1615.5,570.4 1616.0,576.1 1616.5,579.3 1617.0,579.8 1617.5,578.4 1618.0,575.7 1618.5,568.7 1619.0,564.2 1619.5,557.5 1620.0,554.1 1620.5,550.1 1621.0,546.3 1621.5,544.7 1622.0,545.0 1622.5,546.5 1623.0,551.5 1623.5,556.4 1624.0,558.3 1624.5,564.9 1625.0,567.3 1625.5,569.0 1626.0,571.9 1626.5,571.7 1627.0,569.3 1627.5,565.1 1628.0,561.7 1628.5,554.3 1629.0,548.9 1629.5,543.0 1630.0,536.9 1630.5,532.4 1631.0,530.4 1631.5,531.3 1632.0,533.8 1632.5,536.0 1633.0,542.6 1633.5,551.2 1634.0,555.8 1634.5,564.7 1635.0,570.4 1635.5,574.8 1636.0,574.3 1636.5,572.9 1637.0,565.6 1637.5,559.8 1638.0,548.8 1638.5,540.7 1639.0,531.9 1639.5,526.9 1640.0,522.7 1640.5,524.5 1641.0,528.0 1641.5,533.2 1642.0,541.7 1642.5,548.6 1643.0,557.2 1643.5,564.4 1644.0,570.8 1644.5,570.9 1645.0,569.9 1645.5,564.9 1646.0,557.4 1646.5,546.6 1647.0,535.7 1647.5,524.5 1648.0,515.4 1648.5,510.9 1649.0,578.7 1649.5,570.7 1650.0,564.7 1650.5,552.4 1651.0,541.7 1651.5,532.7 1652.0,525.3 1652.5,520.7 1653.0,521.6 1653.5,526.2 1654.0,531.7 1654.5,539.3 1655.0,545.6 1655.5,553.3 1656.0,561.0 1656.5,566.6 1657.0,568.2 1657.5,567.5 1658.0,563.8 1658.5,561.2 1659.0,551.4 1659.5,544.7 1660.0,536.9 1660.5,532.0 1661.0,524.9 1661.5,571.3 1662.0,569.2 1662.5,563.9 1663.0,557.1 1663.5,548.0 1664.0,538.3 1664.5,529.8 1665.0,526.3 1665.5,522.8 1666.0,524.7 1666.5,525.4 1667.0,531.8 1667.5,537.5 1668.0,544.5 1668.5,554.0 1669.0,559.3 1669.5,563.6 1670.0,566.4 1670.5,564.0 1671.0,560.1 1671.5,552.8 1672.0,545.9 1672.5,534.7 1673.0,525.6 1673.5,518.6 1674.0,513.1 1674.5,570.6 1675.0,565.1 1675.5,559.4 1676.0,549.7 1676.5,538.8 1677.0,530.4 1677.5,520.2 1678.0,517.1 1678.5,514.2 1679.0,516.5 1679.5,522.7 1680.0,531.7 1680.5,538.8 1681.0,549.4 1681.5,559.9 1682.0,571.9 1682.5,577.2 1683.0,579.7 1683.5,579.2 1684.0,571.3 1684.5,559.3 1685.0,548.1 1685.5,534.5 1686.0,525.6 1686.5,514.5 1687.0,512.7 1687.5,515.0 1688.0,520.5 1688.5,528.5 1689.0,537.7 1689.5,547.6 1690.0,558.0 1690.5,569.3 1691.0,579.1 1691.5,588.1 1692.0,596.3 1692.5,601.3 1693.0,605.0 1693.5,605.4 1694.0,606.0 1694.5,600.6 1695.0,595.1 1695.5,589.8 1696.0,580.1 1696.5,571.7 1697.0,563.0 1697.5,553.0 1698.0,544.5 1698.5,538.7 1699.0,533.1 1699.5,529.6 1700.0,609.7 1700.5,603.9 1701.0,592.2 1701.5,579.6 1702.0,565.4 1702.5,553.7 1703.0,543.9 1703.5,536.4 1704.0,534.8 1704.5,536.7 1705.0,542.6 1705.5,552.0 1706.0,562.7 1706.5,571.5 1707.0,579.8 1707.5,585.7 1708.0,587.3 1708.5,590.0 1709.0,585.5 1709.5,576.0 1710.0,563.2 1710.5,548.4 1711.0,534.3 1711.5,518.3 1712.0,508.6 1712.5,501.9 1713.0,506.7 1713.5,516.4 1714.0,530.4 1714.5,546.0 1715.0,563.9 1715.5,577.8 1716.0,588.5 1716.5,595.9 1717.0,597.7 1717.5,597.6 1718.0,589.8 1718.5,581.3 1719.0,570.3 1719.5,559.1 1720.0,551.1 1720.5,543.3 1721.0,541.0 1721.5,544.3 1722.0,551.0 1722.5,560.1 1723.0,572.9 1723.5,586.5 1724.0,599.2 1724.5,611.7 1725.0,615.6 1725.5,617.4 1726.0,611.9 1726.5,605.6 1727.0,597.9 1727.5,587.2 1728.0,575.4 1728.5,563.0 1729.0,551.7 1729.5,542.2 1730.0,534.9 1730.5,531.3 1731.0,529.6 1731.5,529.7 1732.0,532.4 1732.5,537.9 1733.0,546.5 1733.5,554.5 1734.0,561.9 1734.5,572.6 1735.0,578.2 1735.5,582.6 1736.0,584.5 1736.5,584.0 1737.0,582.3 1737.5,575.0 1738.0,567.8 1738.5,558.5 1739.0,548.8 1739.5,536.8 1740.0,525.8 1740.5,516.2 1741.0,509.8 1741.5,504.8 1742.0,501.0 1742.5,504.0 1743.0,509.2 1743.5,516.5 1744.0,527.3 1744.5,539.4 1745.0,549.7 1745.5,556.6 1746.0,560.4 1746.5,561.1 1747.0,559.6 1747.5,553.8 1748.0,544.0 1748.5,536.3 1749.0,525.3 1749.5,517.4 1750.0,510.1" fill="none" stroke="#0000ff" stroke-width="7" stroke-linejoin="round" stroke-linecap="butt"/>
<line x1="281" y1="553.0" x2="1750" y2="553.0" stroke="#ff0000" stroke-width="6"/>
<rect x="1441" y="103.6" width="279.5" height="229.1" fill="#fff" stroke="#000" stroke-width="3.75"/>
<line x1="1472.8" y1="161.3" x2="1641.9" y2="161.3" stroke="#0000ff" stroke-width="7.2"/>
<line x1="1472.8" y1="267.2" x2="1641.9" y2="267.2" stroke="#ff0000" stroke-width="7.2"/>
<text class="t" x="1659" y="169.7">i</text><text class="s" x="1670.8" y="199.3" font-size="48">d</text>
<text class="s" x="1670.5" y="253.5">*</text>
<text class="t" x="1659" y="284.6">i</text><text class="s" x="1670.8" y="313.5" font-size="48">d</text>
<rect x="281.5" y="1480.2" width="1467.5" height="956.3999999999999" fill="none" stroke="#000" stroke-width="3.75"/>
<path d="M281.5 2436.6V2421.6M281.5 1480.2V1495.2M648.4 2436.6V2421.6M648.4 1480.2V1495.2M1015.2 2436.6V2421.6M1015.2 1480.2V1495.2M1382.1 2436.6V2421.6M1382.1 1480.2V1495.2M1749.0 2436.6V2421.6M1749.0 1480.2V1495.2M281.5 2436.6H296.5M1749.0 2436.6H1734.0M281.5 2277.2H296.5M1749.0 2277.2H1734.0M281.5 2117.8H296.5M1749.0 2117.8H1734.0M281.5 1958.4H296.5M1749.0 1958.4H1734.0M281.5 1799.0H296.5M1749.0 1799.0H1734.0M281.5 1639.6H296.5M1749.0 1639.6H1734.0M281.5 1480.2H296.5M1749.0 1480.2H1734.0" stroke="#000" stroke-width="3.75" fill="none"/>
<text class="t" x="281.5" y="2506.6" text-anchor="middle">0.3</text>
<text class="t" x="648.4" y="2506.6" text-anchor="middle">0.4</text>
<text class="t" x="1015.2" y="2506.6" text-anchor="middle">0.5</text>
<text class="t" x="1382.1" y="2506.6" text-anchor="middle">0.6</text>
<text class="t" x="1749.0" y="2506.6" text-anchor="middle">0.7</text>
<text class="t" x="264" y="2457.6" text-anchor="end">2</text>
<text class="t" x="264" y="2298.2" text-anchor="end">2.5</text>
<text class="t" x="264" y="2138.8" text-anchor="end">3</text>
<text class="t" x="264" y="1979.4" text-anchor="end">3.5</text>
<text class="t" x="264" y="1820.0" text-anchor="end">4</text>
<text class="t" x="264" y="1660.6" text-anchor="end">4.5</text>
<text class="t" x="264" y="1501.2" text-anchor="end">5</text>
<text class="t" transform="translate(146,1959.4) rotate(-90)" text-anchor="middle">current/(A)</text>
<text class="t" x="1015" y="2574.1" text-anchor="middle">t/(s)</text>
<text class="c" x="1005" y="2690.3" text-anchor="middle">(<tspan font-weight="bold" font-size="64">b</tspan>)</text>
<polyline points="281.0,2345.7 281.5,2347.3 282.0,2346.2 282.5,2345.3 283.0,2344.5 283.5,2338.1 284.0,2336.7 284.5,2335.8 285.0,2338.7 285.5,2341.4 286.0,2340.3 286.5,2339.9 287.0,2336.1 287.5,2338.7 288.0,2338.7 288.5,2342.9 289.0,2341.4 289.5,2339.0 290.0,2335.3 290.5,2334.1 291.0,2331.8 291.5,2327.3 292.0,2324.6 292.5,2323.6 293.0,2321.9 293.5,2321.7 294.0,2322.7 294.5,2324.0 295.0,2327.7 295.5,2326.8 296.0,2332.4 296.5,2332.7 297.0,2333.7 297.5,2334.2 298.0,2337.5 298.5,2338.8 299.0,2339.6 299.5,2338.3 300.0,2339.6 300.5,2341.9 301.0,2337.9 301.5,2334.3 302.0,2335.0 302.5,2332.7 303.0,2333.0 303.5,2332.9 304.0,2330.7 304.5,2329.3 305.0,2334.6 305.5,2339.1 306.0,2339.9 306.5,2342.7 307.0,2344.0 307.5,2341.7 308.0,2344.1 308.5,2344.5 309.0,2342.3 309.5,2341.1 310.0,2340.9 310.5,2341.9 311.0,2337.8 311.5,2336.7 312.0,2337.4 312.5,2334.4 313.0,2333.1 313.5,2335.6 314.0,2339.6 314.5,2340.4 315.0,2337.0 315.5,2337.2 316.0,2341.7 316.5,2344.0 317.0,2345.4 317.5,2347.7 318.0,2348.6 318.5,2346.2 319.0,2344.5 319.5,2339.6 320.0,2337.9 320.5,2339.9 321.0,2340.5 321.5,2339.9 322.0,2339.0 322.5,2338.9 323.0,2337.4 323.5,2332.4 324.0,2334.4 324.5,2338.4 325.0,2339.3 325.5,2337.3 326.0,2342.1 326.5,2340.8 327.0,2341.0 327.5,2342.4 328.0,2342.2 328.5,2338.3 329.0,2341.1 329.5,2339.0 330.0,2335.9 330.5,2334.6 331.0,2330.8 331.5,2333.0 332.0,2334.7 332.5,2333.2 333.0,2333.8 333.5,2334.9 334.0,2336.9 334.5,2339.8 335.0,2339.4 335.5,2340.3 336.0,2344.2 336.5,2347.8 337.0,2344.4 337.5,2344.0 338.0,2341.3 338.5,2345.8 339.0,2345.5 339.5,2344.9 340.0,2340.7 340.5,2337.8 341.0,2340.6 341.5,2340.0 342.0,2335.8 342.5,2334.7 343.0,2338.3 343.5,2339.3 344.0,2342.8 344.5,2336.3 345.0,2334.0 345.5,2333.3 346.0,2330.3 346.5,2333.1 347.0,2339.4 347.5,2338.4 348.0,2337.8 348.5,2338.5 349.0,2342.9 349.5,2343.4 350.0,2340.9 350.5,2337.5 351.0,2336.4 351.5,2334.1 352.0,2330.7 352.5,2330.3 353.0,2324.9 353.5,2325.9 354.0,2329.3 354.5,2330.8 355.0,2331.0 355.5,2336.0 356.0,2340.3 356.5,2341.7 357.0,2343.7 357.5,2347.1 358.0,2347.9 358.5,2346.6 359.0,2349.9 359.5,2352.9 360.0,2348.7 360.5,2348.7 361.0,2346.5 361.5,2343.0 362.0,2340.9 362.5,2341.1 363.0,2339.9 363.5,2337.2 364.0,2332.6 364.5,2333.9 365.0,2336.3 365.5,2338.3 366.0,2339.0 366.5,2340.1 367.0,2341.2 367.5,2340.0 368.0,2336.4 368.5,2336.4 369.0,2333.5 369.5,2329.0 370.0,2331.0 370.5,2337.2 371.0,2330.8 371.5,2326.7 372.0,2330.0 372.5,2333.8 373.0,2330.9 373.5,2329.9 374.0,2328.2 374.5,2328.6 375.0,2331.2 375.5,2330.4 376.0,2328.9 376.5,2330.9 377.0,2331.3 377.5,2329.1 378.0,2329.7 378.5,2329.7 379.0,2329.1 379.5,2332.6 380.0,2331.3 380.5,2330.0 381.0,2328.9 381.5,2332.1 382.0,2338.4 382.5,2336.1 383.0,2338.6 383.5,2338.6 384.0,2340.2 384.5,2339.7 385.0,2336.3 385.5,2335.9 386.0,2336.3 386.5,2335.9 387.0,2335.3 387.5,2335.3 388.0,2338.0 388.5,2340.0 389.0,2338.0 389.5,2334.9 390.0,2335.4 390.5,2333.7 391.0,2332.9 391.5,2332.4 392.0,2326.2 392.5,2322.9 393.0,2319.9 393.5,2319.9 394.0,2321.0 394.5,2326.2 395.0,2326.0 395.5,2327.1 396.0,2332.7 396.5,2330.0 397.0,2334.4 397.5,2336.1 398.0,2334.6 398.5,2332.1 399.0,2331.1 399.5,2330.6 400.0,2330.7 400.5,2325.0 401.0,2327.5 401.5,2329.7 402.0,2328.5 402.5,2327.7 403.0,2332.2 403.5,2335.1 404.0,2341.1 404.5,2344.8 405.0,2343.1 405.5,2340.5 406.0,2344.0 406.5,2345.1 407.0,2349.3 407.5,2351.9 408.0,2350.3 408.5,2352.8 409.0,2351.6 409.5,2347.9 410.0,2343.5 410.5,2343.0 411.0,2340.2 411.5,2343.0 412.0,2341.6 412.5,2342.1 413.0,2338.0 413.5,2332.9 414.0,2336.7 414.5,2338.2 415.0,2337.7 415.5,2331.5 416.0,2330.2 416.5,2331.6 417.0,2329.9 417.5,2329.8 418.0,2333.6 418.5,2341.8 419.0,2338.2 419.5,2337.4 420.0,2339.8 420.5,2342.5 421.0,2345.7 421.5,2345.5 422.0,2344.3 422.5,2342.2 423.0,2341.2 423.5,2338.7 424.0,2338.0 424.5,2343.6 425.0,2340.2 425.5,2340.7 426.0,2337.8 426.5,2336.6 427.0,2335.0 427.5,2332.2 428.0,2334.0 428.5,2335.6 429.0,2336.4 429.5,2336.4 430.0,2337.7 430.5,2337.3 431.0,2336.5 431.5,2334.0 432.0,2338.0 432.5,2342.8 433.0,2340.6 433.5,2339.7 434.0,2336.4 434.5,2335.3 435.0,2339.7 435.5,2338.3 436.0,2340.3 436.5,2339.6 437.0,2337.5 437.5,2334.9 438.0,2338.6 438.5,2335.8 439.0,2335.0 439.5,2341.4 440.0,2341.6 440.5,2340.6 441.0,2339.0 441.5,2338.7 442.0,2339.4 442.5,2338.7 443.0,2338.1 443.5,2337.2 444.0,2331.8 444.5,2336.6 445.0,2336.4 445.5,2340.2 446.0,2341.9 446.5,2339.9 447.0,2343.4 447.5,2344.0 448.0,2340.8 448.5,2340.4 449.0,2340.0 449.5,2335.2 450.0,2336.8 450.5,2337.1 451.0,2333.3 451.5,2328.8 452.0,2329.6 452.5,2332.5 453.0,2331.0 453.5,2326.9 454.0,2325.4 454.5,2327.8 455.0,2329.2 455.5,2329.2 456.0,2331.3 456.5,2334.8 457.0,2335.1 457.5,2330.7 458.0,2336.9 458.5,2338.3 459.0,2339.9 459.5,2338.1 460.0,2338.5 460.5,2337.9 461.0,2329.7 461.5,2335.5 462.0,2333.0 462.5,2326.8 463.0,2325.2 463.5,2330.6 464.0,2330.5 464.5,2334.3 465.0,2334.1 465.5,2334.2 466.0,2336.9 466.5,2336.9 467.0,2338.4 467.5,2339.2 468.0,2338.8 468.5,2339.9 469.0,2339.2 469.5,2335.2 470.0,2336.3 470.5,2336.7 471.0,2334.9 471.5,2331.7 472.0,2332.7 472.5,2334.1 473.0,2334.0 473.5,2334.8 474.0,2330.2 474.5,2328.9 475.0,2328.5 475.5,2328.9 476.0,2328.1 476.5,2327.1 477.0,2332.7 477.5,2336.8 478.0,2337.8 478.5,2335.0 479.0,2338.1 479.5,2342.9 480.0,2340.2 480.5,2339.6 481.0,2338.6 481.5,2340.0 482.0,2340.5 482.5,2342.1 483.0,2338.8 483.5,2337.4 484.0,2335.2 484.5,2337.5 485.0,2339.1 485.5,2340.8 486.0,2341.3 486.5,2345.7 487.0,2342.5 487.5,2342.5 488.0,2339.2 488.5,2340.6 489.0,2340.9 489.5,2334.5 490.0,2333.4 490.5,2331.4 491.0,2330.5 491.5,2329.4 492.0,2327.0 492.5,2327.6 493.0,2327.8 493.5,2328.4 494.0,2330.6 494.5,2336.3 495.0,2336.2 495.5,2339.7 496.0,2340.0 496.5,2337.8 497.0,2340.0 497.5,2337.1 498.0,2339.1 498.5,2339.8 499.0,2334.7 499.5,2332.4 500.0,2333.5 500.5,2338.8 501.0,2334.2 501.5,2332.3 502.0,2336.7 502.5,2337.0 503.0,2337.8 503.5,2336.6 504.0,2335.6 504.5,2339.1 505.0,2339.8 505.5,2339.4 506.0,2341.0 506.5,2343.2 507.0,2347.6 507.5,2348.5 508.0,2347.4 508.5,2344.1 509.0,2342.1 509.5,2344.6 510.0,2345.7 510.5,2346.3 511.0,2344.3 511.5,2343.9 512.0,2344.3 512.5,2342.0 513.0,2342.5 513.5,2344.9 514.0,2342.6 514.5,2345.1 515.0,2347.6 515.5,2347.3 516.0,2346.8 516.5,2344.1 517.0,2345.1 517.5,2345.3 518.0,2346.1 518.5,2344.8 519.0,2343.4 519.5,2344.9 520.0,2340.8 520.5,2336.3 521.0,2333.7 521.5,2332.9 522.0,2331.9 522.5,2334.9 523.0,2332.7 523.5,2330.0 524.0,2328.9 524.5,2328.9 525.0,2332.1 525.5,2336.7 526.0,2336.7 526.5,2335.2 527.0,2334.4 527.5,2331.6 528.0,2336.0 528.5,2336.1 529.0,2337.9 529.5,2334.6 530.0,2332.7 530.5,2332.7 531.0,2331.4 531.5,2334.2 532.0,2332.9 532.5,2333.0 533.0,2333.6 533.5,2334.0 534.0,2336.8 534.5,2338.9 535.0,2342.4 535.5,2340.3 536.0,2339.8 536.5,2338.0 537.0,2337.2 537.5,2337.6 538.0,2339.8 538.5,2337.7 539.0,2337.8 539.5,2335.1 540.0,2333.2 540.5,2331.3 541.0,2337.5 541.5,2340.6 542.0,2337.1 542.5,2338.7 543.0,2336.7 543.5,2332.8 544.0,2333.4 544.5,2330.2 545.0,2331.1 545.5,2334.1 546.0,2331.8 546.5,2329.6 547.0,2333.1 547.5,2329.5 548.0,2330.2 548.5,2330.6 549.0,2330.9 549.5,2329.3 550.0,2329.2 550.5,2334.8 551.0,2330.5 551.5,2328.4 552.0,2326.9 552.5,2333.4 553.0,2338.9 553.5,2342.2 554.0,2346.1 554.5,2344.6 555.0,2342.0 555.5,2341.5 556.0,2343.4 556.5,2340.6 557.0,2339.0 557.5,2336.4 558.0,2338.4 558.5,2341.2 559.0,2337.0 559.5,2334.2 560.0,2328.9 560.5,2333.3 561.0,2331.7 561.5,2330.7 562.0,2326.0 562.5,2321.1 563.0,2319.4 563.5,2322.8 564.0,2322.9 564.5,2322.6 565.0,2326.0 565.5,2328.5 566.0,2332.9 566.5,2332.5 567.0,2331.7 567.5,2333.8 568.0,2334.1 568.5,2336.6 569.0,2332.3 569.5,2329.7 570.0,2331.8 570.5,2332.6 571.0,2334.0 571.5,2333.7 572.0,2331.5 572.5,2332.6 573.0,2331.5 573.5,2328.0 574.0,2327.5 574.5,2326.8 575.0,2322.0 575.5,2321.5 576.0,2323.2 576.5,2325.5 577.0,2327.8 577.5,2327.1 578.0,2332.4 578.5,2336.9 579.0,2339.9 579.5,2337.1 580.0,2335.4 580.5,2335.3 581.0,2340.3 581.5,2342.2 582.0,2339.3 582.5,2341.6 583.0,2344.0 583.5,2344.6 584.0,2343.2 584.5,2345.2 585.0,2344.4 585.5,2343.1 586.0,2345.6 586.5,2345.7 587.0,2343.2 587.5,2345.4 588.0,2346.2 588.5,2338.5 589.0,2339.2 589.5,2337.8 590.0,2333.8 590.5,2331.6 591.0,2329.9 591.5,2331.1 592.0,2327.1 592.5,2326.8 593.0,2324.9 593.5,2329.6 594.0,2330.4 594.5,2327.0 595.0,2328.9 595.5,2332.2 596.0,2330.8 596.5,2328.3 597.0,2327.0 597.5,2333.7 598.0,2337.7 598.5,2334.0 599.0,2334.9 599.5,2335.3 600.0,2334.7 600.5,2335.5 601.0,2335.8 601.5,2336.1 602.0,2343.4 602.5,2344.2 603.0,2339.0 603.5,2338.3 604.0,2332.4 604.5,2332.2 605.0,2333.8 605.5,2329.6 606.0,2329.3 606.5,2331.8 607.0,2329.5 607.5,2335.2 608.0,2333.8 608.5,2331.5 609.0,2330.8 609.5,2327.7 610.0,2328.5 610.5,2333.6 611.0,2335.7 611.5,2335.2 612.0,2334.9 612.5,2335.3 613.0,2337.8 613.5,2332.7 614.0,2332.3 614.5,2332.4 615.0,2330.1 615.5,2329.7 616.0,2331.0 616.5,2335.4 617.0,2336.8 617.5,2332.5 618.0,2327.7 618.5,2329.5 619.0,2331.8 619.5,2333.1 620.0,2334.9 620.5,2337.2 621.0,2334.7 621.5,2338.2 622.0,2342.0 622.5,2343.8 623.0,2343.2 623.5,2342.2 624.0,2341.3 624.5,2340.6 625.0,2342.2 625.5,2342.5 626.0,2343.3 626.5,2348.3 627.0,2349.4 627.5,2347.4 628.0,2349.8 628.5,2351.9 629.0,2350.8 629.5,2350.7 630.0,2350.5 630.5,2345.9 631.0,2345.5 631.5,2348.5 632.0,2347.8 632.5,2347.0 633.0,2342.0 633.5,2342.4 634.0,2341.8 634.5,2341.0 635.0,2334.7 635.5,2334.3 636.0,2336.1 636.5,2336.5 637.0,2335.1 637.5,2336.5 638.0,2338.8 638.5,2346.7 639.0,2344.8 639.5,2344.3 640.0,2343.8 640.5,2345.5 641.0,2346.9 641.5,2345.1 642.0,2346.6 642.5,2351.3 643.0,2349.8 643.5,2347.6 644.0,2346.0 644.5,2345.8 645.0,2344.3 645.5,2344.8 646.0,2342.1 646.5,2340.5 647.0,2339.4 647.5,2337.4 648.0,2339.4 648.5,2341.8 649.0,2333.8 649.5,2329.6 650.0,2332.9 650.5,2332.1 651.0,2334.6 651.5,2332.2 652.0,2331.6 652.5,2327.9 653.0,2326.4 653.5,2330.1 654.0,2332.5 654.5,2329.8 655.0,2328.4 655.5,2330.8 656.0,2332.2 656.5,2333.0 657.0,2335.2 657.5,2339.4 658.0,2335.0 658.5,2332.1 659.0,2331.4 659.5,2334.0 660.0,2331.6 660.5,2336.4 661.0,2334.1 661.5,2330.9 662.0,2333.5 662.5,2334.1 663.0,2335.1 663.5,2330.5 664.0,2332.6 664.5,2333.5 665.0,2334.2 665.5,2330.1 666.0,2330.7 666.5,2335.2 667.0,2331.1 667.5,2325.0 668.0,2325.1 668.5,2321.4 669.0,2318.7 669.5,2317.2 670.0,2320.2 670.5,2318.5 671.0,2320.2 671.5,2321.1 672.0,2319.9 672.5,2323.5 673.0,2327.8 673.5,2325.7 674.0,2329.0 674.5,2329.8 675.0,2331.1 675.5,2331.3 676.0,2330.8 676.5,2329.1 677.0,2328.6 677.5,2327.1 678.0,2328.3 678.5,2331.7 679.0,2331.2 679.5,2335.3 680.0,2336.6 680.5,2334.7 681.0,2336.8 681.5,2335.3 682.0,2335.7 682.5,2332.8 683.0,2332.3 683.5,2329.6 684.0,2326.6 684.5,2331.1 685.0,2329.0 685.5,2324.6 686.0,2328.5 686.5,2330.8 687.0,2336.2 687.5,2334.1 688.0,2334.2 688.5,2333.6 689.0,2334.3 689.5,2331.9 690.0,2330.9 690.5,2332.4 691.0,2334.6 691.5,2338.1 692.0,2338.5 692.5,2338.2 693.0,2338.2 693.5,2337.6 694.0,2337.9 694.5,2334.0 695.0,2337.1 695.5,2340.2 696.0,2338.1 696.5,2338.3 697.0,2341.2 697.5,2342.1 698.0,2345.5 698.5,2350.8 699.0,2352.4 699.5,2358.4 700.0,2357.4 700.5,2355.3 701.0,2353.8 701.5,2352.4 702.0,2348.2 702.5,2351.2 703.0,2351.7 703.5,2348.3 704.0,2343.6 704.5,2342.3 705.0,2339.4 705.5,2335.1 706.0,2333.5 706.5,2333.0 707.0,2330.5 707.5,2328.3 708.0,2329.4 708.5,2330.4 709.0,2329.7 709.5,2335.0 710.0,2336.9 710.5,2335.1 711.0,2339.1 711.5,2347.8 712.0,2347.6 712.5,2348.8 713.0,2346.6 713.5,2348.9 714.0,2346.7 714.5,2343.5 715.0,2345.5 715.5,2349.4 716.0,2351.2 716.5,2347.2 717.0,2344.1 717.5,2343.7 718.0,2347.0 718.5,2347.7 719.0,2344.9 719.5,2343.0 720.0,2343.1 720.5,2341.0 721.0,2337.7 721.5,2332.7 722.0,2334.6 722.5,2339.1 723.0,2338.1 723.5,2342.5 724.0,2340.3 724.5,2339.2 725.0,2340.8 725.5,2341.3 726.0,2339.0 726.5,2340.0 727.0,2340.7 727.5,2344.7 728.0,2343.8 728.5,2345.7 729.0,2345.2 729.5,2347.6 730.0,2351.6 730.5,2351.4 731.0,2352.1 731.5,2352.2 732.0,2349.8 732.5,2343.6 733.0,2342.9 733.5,2342.2 734.0,2337.4 734.5,2334.2 735.0,2335.5 735.5,2339.4 736.0,2337.4 736.5,2338.2 737.0,2334.8 737.5,2334.4 738.0,2328.6 738.5,2328.3 739.0,2328.9 739.5,2330.3 740.0,2327.1 740.5,2325.5 741.0,2321.3 741.5,2320.6 742.0,2323.9 742.5,2324.9 743.0,2324.8 743.5,2324.5 744.0,2323.5 744.5,2329.2 745.0,2328.9 745.5,2332.0 746.0,2331.8 746.5,2327.2 747.0,2326.3 747.5,2328.1 748.0,2332.5 748.5,2335.6 749.0,2334.7 749.5,2336.5 750.0,2334.4 750.5,2336.1 751.0,2337.7 751.5,2339.8 752.0,2338.4 752.5,2340.1 753.0,2340.9 753.5,2338.0 754.0,2336.3 754.5,2336.7 755.0,2336.1 755.5,2338.3 756.0,2343.6 756.5,2343.9 757.0,2341.3 757.5,2343.8 758.0,2346.3 758.5,2347.0 759.0,2346.2 759.5,2345.3 760.0,2342.0 760.5,2339.8 761.0,2338.3 761.5,2339.0 762.0,2337.6 762.5,2337.2 763.0,2333.5 763.5,2327.5 764.0,2324.8 764.5,2325.5 765.0,2328.7 765.5,2332.7 766.0,2330.4 766.5,2330.2 767.0,2335.1 767.5,2338.2 768.0,2338.6 768.5,2338.6 769.0,2333.8 769.5,2330.5 770.0,2329.0 770.5,2326.1 771.0,2327.2 771.5,2331.6 772.0,2333.5 772.5,2331.0 773.0,2327.6 773.5,2325.6 774.0,2324.9 774.5,2321.8 775.0,2326.7 775.5,2329.1 776.0,2328.4 776.5,2328.8 777.0,2328.1 777.5,2334.5 778.0,2335.8 778.5,2330.9 779.0,2335.9 779.5,2341.1 780.0,2343.9 780.5,2339.7 781.0,2340.7 781.5,2343.3 782.0,2340.8 782.5,2337.5 783.0,2335.7 783.5,2335.0 784.0,2333.1 784.5,2334.4 785.0,2331.1 785.5,2332.8 786.0,2334.1 786.5,2334.1 787.0,2331.6 787.5,2331.0 788.0,2331.9 788.5,2332.9 789.0,2335.6 789.5,2336.4 790.0,2342.6 790.5,2345.6 791.0,2340.6 791.5,2341.2 792.0,2339.9 792.5,2343.3 793.0,2343.3 793.5,2341.4 794.0,2340.0 794.5,2343.3 795.0,2348.5 795.5,2348.2 796.0,2344.8 796.5,2341.8 797.0,2341.2 797.5,2338.2 798.0,2335.2 798.5,2335.0 799.0,2337.1 799.5,2336.2 800.0,2334.5 800.5,2331.4 801.0,2331.5 801.5,2336.5 802.0,2336.1 802.5,2338.2 803.0,2336.0 803.5,2338.5 804.0,2337.3 804.5,2334.9 805.0,2335.2 805.5,2339.1 806.0,2336.9 806.5,2333.5 807.0,2332.8 807.5,2331.2 808.0,2337.7 808.5,2338.1 809.0,2334.5 809.5,2333.5 810.0,2328.4 810.5,2334.2 811.0,2334.8 811.5,2334.5 812.0,2336.0 812.5,2335.6 813.0,2334.4 813.5,2336.6 814.0,2340.5 814.5,2344.5 815.0,2344.0 815.5,2343.0 816.0,2343.7 816.5,2341.5 817.0,2345.5 817.5,2341.0 818.0,2336.4 818.5,2337.7 819.0,2339.6 819.5,2339.8 820.0,2341.5 820.5,2337.0 821.0,2341.6 821.5,2340.5 822.0,2341.8 822.5,2341.6 823.0,2333.9 823.5,2330.7 824.0,2330.4 824.5,2326.7 825.0,2325.7 825.5,2330.7 826.0,2334.0 826.5,2332.5 827.0,2336.6 827.5,2343.0 828.0,2337.3 828.5,2333.9 829.0,2333.6 829.5,2333.9 830.0,2332.6 830.5,2333.6 831.0,2333.2 831.5,2333.8 832.0,2332.0 832.5,2330.1 833.0,2327.3 833.5,2326.0 834.0,2327.9 834.5,2328.6 835.0,2330.1 835.5,2330.1 836.0,2331.4 836.5,2336.9 837.0,2335.5 837.5,2336.3 838.0,2334.0 838.5,2338.4 839.0,2340.4 839.5,2338.9 840.0,2337.2 840.5,2340.3 841.0,2336.5 841.5,2333.1 842.0,2332.9 842.5,2335.6 843.0,2335.4 843.5,2337.5 844.0,2338.3 844.5,2340.0 845.0,2339.6 845.5,2340.9 846.0,2343.1 846.5,2344.3 847.0,2346.5 847.5,2348.9 848.0,2351.1 848.5,2349.1 849.0,2349.3 849.5,2348.4 850.0,2339.9 850.5,2339.2 851.0,2338.4 851.5,2338.1 852.0,2334.3 852.5,2335.5 853.0,2339.0 853.5,2331.8 854.0,2331.3 854.5,2331.0 855.0,2328.4 855.5,2326.6 856.0,2329.3 856.5,2325.1 857.0,2327.1 857.5,2330.5 858.0,2332.4 858.5,2336.5 859.0,2336.0 859.5,2339.2 860.0,2336.5 860.5,2337.6 861.0,2334.7 861.5,2331.8 862.0,2331.4 862.5,2332.8 863.0,2329.7 863.5,2329.1 864.0,2326.5 864.5,2324.6 865.0,2330.0 865.5,2331.5 866.0,2330.0 866.5,2334.6 867.0,2335.7 867.5,2335.0 868.0,2339.9 868.5,2346.6 869.0,2349.8 869.5,2351.1 870.0,2355.0 870.5,2349.6 871.0,2343.9 871.5,2340.9 872.0,2343.1 872.5,2337.4 873.0,2333.6 873.5,2330.6 874.0,2329.4 874.5,2330.2 875.0,2332.2 875.5,2332.6 876.0,2332.3 876.5,2332.3 877.0,2328.4 877.5,2326.0 878.0,2325.9 878.5,2322.7 879.0,2327.2 879.5,2327.6 880.0,2326.4 880.5,2323.3 881.0,2324.5 881.5,2326.1 882.0,2324.7 882.5,2324.8 883.0,2326.8 883.5,2327.0 884.0,2325.2 884.5,2327.9 885.0,2329.5 885.5,2325.4 886.0,2322.7 886.5,2323.7 887.0,2328.5 887.5,2328.5 888.0,2330.3 888.5,2331.1 889.0,2332.1 889.5,2336.8 890.0,2335.3 890.5,2334.5 891.0,2331.9 891.5,2338.9 892.0,2336.7 892.5,2332.3 893.0,2328.9 893.5,2326.9 894.0,2324.7 894.5,2327.6 895.0,2326.6 895.5,2329.6 896.0,2332.7 896.5,2337.1 897.0,2336.6 897.5,2338.2 898.0,2340.0 898.5,2339.0 899.0,2340.0 899.5,2341.7 900.0,2342.8 900.5,2340.6 901.0,2337.6 901.5,2338.2 902.0,2333.9 902.5,2331.5 903.0,2336.7 903.5,2335.0 904.0,2333.3 904.5,2332.7 905.0,2336.3 905.5,2341.7 906.0,2341.5 906.5,2345.9 907.0,2344.4 907.5,2346.6 908.0,2346.0 908.5,2345.6 909.0,2346.3 909.5,2346.4 910.0,2343.9 910.5,2343.0 911.0,2345.2 911.5,2345.2 912.0,2340.7 912.5,2336.7 913.0,2333.2 913.5,2335.1 914.0,2333.4 914.5,2328.5 915.0,2329.9 915.5,2329.9 916.0,2330.2 916.5,2337.9 917.0,2339.8 917.5,2339.4 918.0,2340.8 918.5,2337.4 919.0,2338.1 919.5,2339.3 920.0,2336.0 920.5,2335.6 921.0,2334.5 921.5,2338.6 922.0,2340.5 922.5,2337.4 923.0,2337.9 923.5,2341.0 924.0,2343.6 924.5,2339.7 925.0,2337.7 925.5,2339.2 926.0,2340.5 926.5,2335.7 927.0,2337.8 927.5,2340.8 928.0,2338.1 928.5,2336.7 929.0,2336.9 929.5,2333.4 930.0,2337.4 930.5,2334.2 931.0,2331.1 931.5,2331.7 932.0,2332.1 932.5,2332.3 933.0,2332.1 933.5,2334.6 934.0,2335.1 934.5,2341.1 935.0,2338.3 935.5,2338.5 936.0,2339.7 936.5,2342.7 937.0,2342.3 937.5,2343.9 938.0,2339.9 938.5,2338.7 939.0,2336.6 939.5,2334.7 940.0,2336.2 940.5,2336.2 941.0,2334.5 941.5,2329.6 942.0,2331.6 942.5,2329.8 943.0,2329.1 943.5,2328.5 944.0,2331.2 944.5,2335.5 945.0,2338.1 945.5,2337.4 946.0,2331.2 946.5,2329.9 947.0,2330.8 947.5,2330.0 948.0,2328.1 948.5,2324.1 949.0,2326.8 949.5,2329.7 950.0,2330.3 950.5,2330.4 951.0,2330.8 951.5,2334.3 952.0,2338.9 952.5,2338.4 953.0,2339.5 953.5,2339.3 954.0,2334.1 954.5,2335.8 955.0,2336.4 955.5,2336.9 956.0,2333.5 956.5,2331.9 957.0,2330.8 957.5,2331.7 958.0,2331.1 958.5,2331.7 959.0,2333.2 959.5,2332.7 960.0,2332.5 960.5,2334.3 961.0,2335.5 961.5,2338.5 962.0,2340.0 962.5,2335.5 963.0,2331.0 963.5,2335.2 964.0,2333.7 964.5,2330.5 965.0,2331.6 965.5,2334.2 966.0,2328.4 966.5,2329.0 967.0,2331.8 967.5,2329.5 968.0,2337.2 968.5,2343.9 969.0,2345.3 969.5,2344.8 970.0,2342.7 970.5,2342.6 971.0,2345.1 971.5,2338.5 972.0,2334.7 972.5,2327.1 973.0,2326.2 973.5,2325.2 974.0,2322.4 974.5,2318.1 975.0,2322.5 975.5,2328.7 976.0,2329.0 976.5,2328.5 977.0,2331.8 977.5,2329.5 978.0,2334.3 978.5,2335.0 979.0,2332.4 979.5,2330.2 980.0,2328.8 980.5,2332.1 981.0,2336.2 981.5,2334.9 982.0,2333.8 982.5,2334.2 983.0,2332.3 983.5,2332.5 984.0,2327.1 984.5,2330.5 985.0,2331.7 985.5,2331.9 986.0,2331.4 986.5,2331.3 987.0,2328.7 987.5,2329.7 988.0,2327.6 988.5,2328.7 989.0,2328.3 989.5,2330.5 990.0,2331.4 990.5,2331.7 991.0,2334.7 991.5,2335.1 992.0,2339.5 992.5,2342.3 993.0,2342.4 993.5,2344.2 994.0,2348.2 994.5,2350.8 995.0,2351.6 995.5,2348.3 996.0,2348.4 996.5,2350.6 997.0,2348.6 997.5,2342.9 998.0,2347.1 998.5,2343.9 999.0,2337.5 999.5,2339.1 1000.0,2336.0 1000.5,2334.8 1001.0,2333.1 1001.5,2333.6 1002.0,2335.6 1002.5,2337.1 1003.0,2336.1 1003.5,2338.3 1004.0,2338.4 1004.5,2339.0 1005.0,2339.1 1005.5,2341.1 1006.0,2344.5 1006.5,2338.5 1007.0,2337.5 1007.5,2339.2 1008.0,2337.6 1008.5,2336.0 1009.0,2337.3 1009.5,2335.1 1010.0,2337.5 1010.5,2340.6 1011.0,2340.5 1011.5,2339.3 1012.0,2340.0 1012.5,2340.9 1013.0,2340.8 1013.5,2338.1 1014.0,2340.9 1014.5,2340.3 1015.0,2340.5 1015.5,2337.5 1016.0,2319.4 1016.5,2301.1 1017.0,2285.0 1017.5,2271.0 1018.5,2336.0 1019.3,2334.7 1019.7,2333.3 1020.0,2331.8 1020.3,2330.4 1020.6,2328.9 1020.8,2327.4 1021.0,2325.9 1021.1,2324.3 1021.2,2322.8 1021.3,2321.3 1021.3,2319.8 1021.1,2318.3 1020.9,2316.8 1020.7,2315.3 1020.5,2313.8 1020.5,2312.3 1020.5,2310.8 1020.5,2309.3 1020.6,2307.8 1020.6,2306.3 1020.6,2304.8 1020.6,2303.3 1020.5,2301.8 1020.4,2300.3 1020.5,2298.8 1020.8,2297.3 1021.2,2295.8 1021.5,2294.3 1021.7,2292.8 1021.7,2291.3 1021.7,2289.8 1021.9,2288.3 1022.2,2286.8 1022.5,2285.3 1022.8,2283.8 1022.8,2282.3 1022.7,2280.8 1022.3,2279.3 1022.0,2277.8 1021.9,2276.3 1022.0,2274.8 1022.2,2273.3 1022.4,2271.8 1022.4,2270.3 1022.4,2268.8 1022.5,2267.3 1022.7,2265.8 1023.1,2264.3 1023.3,2262.8 1023.3,2261.3 1023.2,2259.8 1023.1,2258.3 1023.1,2256.9 1023.1,2255.4 1023.1,2253.9 1023.2,2252.4 1023.3,2250.9 1023.4,2249.4 1023.5,2247.9 1023.7,2246.4 1023.9,2244.9 1024.1,2243.4 1024.3,2241.9 1024.6,2240.4 1024.9,2238.9 1025.3,2237.4 1025.7,2235.9 1026.0,2234.4 1026.0,2232.9 1025.9,2231.4 1025.5,2229.9 1025.1,2228.4 1025.0,2226.9 1025.3,2225.4 1025.7,2223.9 1025.9,2222.4 1025.9,2220.9 1025.7,2219.4 1025.5,2217.9 1025.4,2216.4 1025.5,2214.9 1025.7,2213.4 1025.9,2211.9 1026.2,2210.4 1026.3,2208.9 1026.3,2207.4 1026.1,2205.9 1025.9,2204.4 1025.8,2202.9 1025.9,2201.4 1026.1,2199.9 1026.5,2198.4 1026.9,2196.9 1027.2,2195.4 1027.4,2193.9 1027.4,2192.4 1027.3,2190.9 1027.1,2189.4 1027.0,2187.9 1027.0,2186.4 1027.1,2185.0 1027.1,2183.5 1027.1,2182.0 1027.2,2180.5 1027.6,2179.0 1028.0,2177.5 1028.5,2176.0 1028.7,2174.5 1028.6,2173.0 1028.5,2171.5 1028.4,2170.0 1028.3,2168.5 1028.3,2167.0 1028.5,2165.5 1028.7,2164.0 1028.8,2162.5 1028.9,2161.0 1028.9,2159.5 1028.9,2158.0 1028.9,2156.5 1029.0,2155.0 1029.0,2153.5 1029.1,2152.0 1029.5,2150.5 1030.0,2149.0 1030.6,2147.5 1031.0,2146.0 1031.1,2144.5 1030.9,2143.0 1030.6,2141.5 1030.3,2140.0 1030.1,2138.5 1030.0,2137.0 1029.9,2135.5 1029.8,2134.0 1029.7,2132.5 1029.9,2131.1 1030.2,2129.6 1030.6,2128.1 1031.0,2126.6 1031.3,2125.1 1031.5,2123.6 1031.7,2122.1 1031.9,2120.6 1032.2,2119.1 1032.4,2117.6 1032.6,2116.1 1032.6,2114.6 1032.6,2113.1 1032.6,2111.6 1032.6,2110.1 1032.7,2108.6 1032.8,2107.1 1032.8,2105.6 1032.8,2104.1 1032.7,2102.6 1032.6,2101.1 1032.6,2099.6 1032.7,2098.1 1033.0,2096.6 1033.4,2095.1 1033.8,2093.6 1034.1,2092.1 1034.3,2090.6 1034.2,2089.1 1033.9,2087.6 1033.4,2086.1 1033.1,2084.6 1032.8,2083.1 1032.7,2081.6 1032.7,2080.1 1032.8,2078.6 1032.8,2077.1 1032.8,2075.6 1032.7,2074.1 1032.8,2072.6 1033.1,2071.1 1033.5,2069.6 1033.9,2068.1 1034.1,2066.6 1034.1,2065.1 1034.1,2063.6 1033.9,2062.1 1033.8,2060.6 1033.7,2059.1 1033.7,2057.6 1033.8,2056.1 1033.8,2054.7 1033.9,2053.2 1034.0,2051.7 1034.2,2050.2 1034.6,2048.7 1035.0,2047.2 1035.4,2045.7 1035.7,2044.2 1035.8,2042.7 1035.9,2041.2 1035.9,2039.7 1036.0,2038.2 1036.0,2036.7 1035.9,2035.2 1035.8,2033.7 1035.7,2032.2 1035.9,2030.7 1036.1,2029.2 1036.4,2027.7 1036.7,2026.2 1037.0,2024.7 1037.2,2023.2 1037.4,2021.7 1037.6,2020.2 1037.8,2018.7 1037.8,2017.2 1037.9,2015.7 1037.9,2014.3 1037.9,2012.8 1037.9,2011.3 1037.9,2009.8 1038.1,2008.3 1038.4,2006.8 1038.7,2005.3 1038.9,2003.8 1039.0,2002.3 1038.9,2000.8 1038.9,1999.3 1038.9,1997.8 1039.1,1996.3 1039.3,1994.8 1039.5,1993.3 1039.6,1991.8 1039.5,1990.3 1039.3,1988.8 1039.1,1987.3 1039.0,1985.8 1039.0,1984.3 1039.1,1982.8 1039.3,1981.3 1039.5,1979.8 1039.7,1978.3 1040.0,1976.8 1040.1,1975.3 1040.2,1973.8 1040.2,1972.3 1040.1,1970.8 1040.0,1969.3 1039.9,1967.8 1039.8,1966.3 1039.8,1964.8 1039.9,1963.3 1040.1,1961.8 1040.4,1960.3 1040.8,1958.8 1041.0,1957.3 1041.1,1955.9 1041.1,1954.4 1041.1,1952.9 1041.1,1951.4 1041.1,1949.9 1041.1,1948.4 1041.3,1946.9 1041.6,1945.4 1042.0,1943.9 1042.3,1942.4 1042.7,1940.9 1043.0,1939.4 1043.4,1938.0 1043.7,1936.5 1043.9,1935.0 1044.1,1933.5 1044.2,1932.0 1044.3,1930.5 1044.5,1929.0 1044.7,1927.5 1044.9,1926.0 1045.1,1924.5 1045.1,1923.0 1045.2,1921.5 1045.3,1920.0 1045.4,1918.6 1045.7,1917.1 1046.0,1915.6 1046.3,1914.1 1046.4,1912.6 1046.4,1911.1 1046.1,1909.6 1045.8,1908.1 1045.7,1906.6 1045.7,1905.1 1045.8,1903.6 1045.8,1902.1 1045.9,1900.6 1046.0,1899.1 1046.2,1897.6 1046.3,1896.1 1046.4,1894.6 1046.4,1893.1 1046.5,1891.6 1046.6,1890.1 1046.8,1888.6 1046.9,1887.1 1046.8,1885.6 1046.8,1884.1 1046.8,1882.7 1047.0,1881.2 1047.4,1879.7 1047.7,1878.2 1048.0,1876.7 1048.2,1875.2 1048.2,1873.7 1048.1,1872.2 1048.1,1870.7 1048.1,1869.2 1048.4,1867.7 1048.8,1866.2 1049.3,1864.7 1049.7,1863.2 1049.9,1861.7 1049.8,1860.2 1049.7,1858.7 1049.7,1857.2 1049.9,1855.7 1050.2,1854.2 1050.5,1852.7 1050.6,1851.2 1050.4,1849.7 1050.1,1848.2 1049.6,1846.7 1049.3,1845.3 1049.3,1843.8 1049.7,1842.3 1050.2,1840.8 1050.6,1839.3 1050.9,1837.8 1051.0,1836.3 1051.1,1834.8 1051.2,1833.3 1051.4,1831.8 1051.6,1830.3 1051.8,1828.8 1051.9,1827.3 1051.9,1825.8 1052.0,1824.3 1052.0,1822.8 1052.1,1821.3 1052.0,1819.8 1051.8,1818.3 1051.5,1816.8 1051.1,1815.3 1050.9,1813.8 1051.0,1812.3 1051.3,1810.8 1052.0,1809.3 1052.9,1807.8 1053.8,1806.3 1054.5,1804.8 1054.9,1803.4 1055.0,1801.9 1054.9,1800.4 1054.8,1798.9 1054.8,1797.4 1054.7,1795.9 1054.7,1794.4 1054.7,1792.9 1054.8,1791.5 1054.9,1790.0 1055.3,1788.5 1055.6,1787.0 1055.9,1785.5 1056.3,1784.1 1056.6,1782.6 1057.0,1781.1 1057.3,1779.6 1057.7,1778.1 1057.8,1776.7 1057.8,1775.2 1057.7,1773.7 1057.7,1772.2 1057.8,1770.7 1058.0,1769.3 1058.3,1767.8 1058.7,1766.3 1059.0,1764.8 1059.1,1763.4 1059.2,1761.9 1059.3,1760.4 1059.6,1758.9 1060.2,1757.4 1060.9,1756.0 1061.6,1754.5 1062.2,1753.0 1062.5,1751.5 1062.5,1750.0 1062.4,1748.6 1062.2,1747.1 1062.1,1745.6 1062.2,1744.1 1062.5,1742.6 1062.9,1741.2 1063.2,1739.7 1063.3,1738.2 1063.4,1736.7 1063.6,1735.2 1063.9,1733.8 1064.2,1732.3 1064.4,1730.8 1064.5,1729.3 1064.7,1727.8 1064.9,1726.4 1065.3,1724.9 1065.8,1723.4 1066.2,1721.9 1066.4,1720.4 1066.6,1718.9 1066.8,1717.5 1067.0,1716.0 1067.3,1714.5 1067.7,1713.0 1068.0,1711.5 1068.2,1710.1 1068.0,1708.6 1067.6,1707.1 1067.3,1705.6 1067.6,1704.1 1068.3,1702.7 1069.3,1701.2 1070.2,1699.7 1071.0,1698.3 1071.6,1696.8 1072.1,1695.4 1072.5,1693.9 1072.8,1692.5 1073.1,1691.0 1073.4,1689.6 1073.7,1688.1 1074.0,1686.6 1074.4,1685.2 1074.6,1683.7 1074.7,1682.3 1074.9,1680.8 1075.0,1679.3 1075.2,1677.8 1075.3,1676.4 1075.2,1674.9 1075.2,1673.4 1075.3,1671.9 1075.7,1670.4 1076.2,1668.9 1076.9,1667.4 1077.5,1665.9 1077.9,1664.4 1078.1,1662.9 1078.1,1661.4 1077.9,1659.9 1077.6,1658.5 1077.5,1657.0 1077.5,1655.6 1077.7,1654.1 1078.2,1652.7 1078.8,1651.3 1079.4,1649.8 1080.1,1648.4 1080.8,1647.0 1081.6,1645.5 1082.2,1644.1 1082.8,1642.7 1083.2,1641.3 1083.7,1639.9 1084.2,1638.5 1084.8,1637.1 1085.4,1635.8 1086.0,1634.4 1086.3,1633.0 1086.5,1631.6 1086.9,1630.3 1087.6,1628.9 1088.5,1627.6 1089.4,1626.2 1090.4,1624.8 1091.3,1623.5 1092.1,1622.1 1092.8,1620.8 1093.5,1619.4 1094.3,1618.0 1095.2,1616.7 1096.1,1615.3 1096.9,1614.0 1097.5,1612.6 1098.1,1611.3 1098.6,1609.9 1099.3,1608.6 1100.0,1607.2 1100.5,1605.8 1100.9,1604.5 1101.1,1603.1 1101.5,1601.8 1101.9,1600.4 1102.5,1599.0 1103.0,1597.5 1103.6,1596.0 1104.3,1594.7 1105.1,1593.5 1106.2,1592.6 1107.5,1591.8 1108.8,1591.1 1110.0,1590.4 1111.0,1589.7 1111.8,1588.9 1112.7,1588.1 1113.7,1587.1 1115.2,1586.1 1116.8,1585.1 1118.4,1584.0 1119.6,1582.8 1120.6,1581.6 1121.3,1580.4 1121.9,1579.1 1122.5,1577.7 1123.1,1576.4 1123.8,1574.9 1125.0,1579.3 1125.5,1575.5 1126.0,1573.3 1126.5,1572.4 1127.0,1579.3 1127.5,1584.3 1128.0,1582.7 1128.5,1582.9 1129.0,1582.3 1129.5,1579.0 1130.0,1582.8 1130.5,1576.2 1131.0,1577.5 1131.5,1581.3 1132.0,1575.9 1132.5,1574.6 1133.0,1574.6 1133.5,1576.4 1134.0,1574.1 1134.5,1580.0 1135.0,1588.0 1135.5,1587.7 1136.0,1587.4 1136.5,1588.7 1137.0,1588.2 1137.5,1586.4 1138.0,1584.1 1138.5,1578.6 1139.0,1580.1 1139.5,1577.9 1140.0,1579.2 1140.5,1576.9 1141.0,1574.3 1141.5,1575.0 1142.0,1574.2 1142.5,1577.3 1143.0,1575.9 1143.5,1575.4 1144.0,1572.2 1144.5,1575.8 1145.0,1574.0 1145.5,1577.1 1146.0,1576.9 1146.5,1574.5 1147.0,1578.0 1147.5,1579.2 1148.0,1583.3 1148.5,1587.4 1149.0,1587.9 1149.5,1588.4 1150.0,1585.3 1150.5,1588.3 1151.0,1590.5 1151.5,1591.7 1152.0,1588.7 1152.5,1589.8 1153.0,1588.0 1153.5,1582.2 1154.0,1581.3 1154.5,1582.4 1155.0,1577.9 1155.5,1576.5 1156.0,1579.6 1156.5,1577.6 1157.0,1574.6 1157.5,1573.0 1158.0,1570.2 1158.5,1568.1 1159.0,1567.9 1159.5,1570.4 1160.0,1572.8 1160.5,1570.8 1161.0,1572.1 1161.5,1572.8 1162.0,1572.0 1162.5,1575.5 1163.0,1576.4 1163.5,1573.0 1164.0,1574.0 1164.5,1571.6 1165.0,1573.9 1165.5,1573.4 1166.0,1568.6 1166.5,1564.9 1167.0,1567.5 1167.5,1566.6 1168.0,1567.7 1168.5,1572.4 1169.0,1577.4 1169.5,1576.8 1170.0,1576.5 1170.5,1574.8 1171.0,1577.3 1171.5,1577.6 1172.0,1580.8 1172.5,1579.3 1173.0,1579.2 1173.5,1578.8 1174.0,1578.5 1174.5,1580.1 1175.0,1578.5 1175.5,1575.8 1176.0,1575.9 1176.5,1577.0 1177.0,1578.2 1177.5,1576.8 1178.0,1578.5 1178.5,1575.6 1179.0,1575.4 1179.5,1574.8 1180.0,1578.9 1180.5,1576.1 1181.0,1575.9 1181.5,1579.0 1182.0,1576.2 1182.5,1575.4 1183.0,1578.4 1183.5,1577.6 1184.0,1579.6 1184.5,1579.1 1185.0,1582.7 1185.5,1585.1 1186.0,1585.0 1186.5,1587.7 1187.0,1583.5 1187.5,1582.2 1188.0,1582.6 1188.5,1583.4 1189.0,1580.5 1189.5,1580.0 1190.0,1582.6 1190.5,1585.2 1191.0,1582.2 1191.5,1580.6 1192.0,1583.5 1192.5,1585.5 1193.0,1583.9 1193.5,1584.2 1194.0,1581.9 1194.5,1586.3 1195.0,1589.2 1195.5,1591.4 1196.0,1592.1 1196.5,1592.5 1197.0,1589.5 1197.5,1590.4 1198.0,1585.6 1198.5,1586.5 1199.0,1589.6 1199.5,1587.5 1200.0,1582.0 1200.5,1585.7 1201.0,1585.3 1201.5,1585.6 1202.0,1588.9 1202.5,1590.8 1203.0,1592.0 1203.5,1585.6 1204.0,1584.0 1204.5,1581.0 1205.0,1575.2 1205.5,1578.1 1206.0,1577.2 1206.5,1571.3 1207.0,1571.7 1207.5,1571.9 1208.0,1573.7 1208.5,1574.5 1209.0,1578.2 1209.5,1577.9 1210.0,1584.1 1210.5,1586.3 1211.0,1590.3 1211.5,1585.3 1212.0,1588.6 1212.5,1590.1 1213.0,1595.1 1213.5,1598.3 1214.0,1596.3 1214.5,1594.1 1215.0,1593.0 1215.5,1596.0 1216.0,1597.3 1216.5,1595.1 1217.0,1590.8 1217.5,1587.8 1218.0,1588.3 1218.5,1586.5 1219.0,1587.5 1219.5,1592.5 1220.0,1590.1 1220.5,1588.3 1221.0,1585.4 1221.5,1585.5 1222.0,1582.1 1222.5,1574.5 1223.0,1572.0 1223.5,1571.8 1224.0,1576.3 1224.5,1577.3 1225.0,1576.6 1225.5,1581.9 1226.0,1578.9 1226.5,1575.6 1227.0,1575.2 1227.5,1580.4 1228.0,1582.8 1228.5,1582.4 1229.0,1585.3 1229.5,1588.0 1230.0,1587.3 1230.5,1590.6 1231.0,1593.9 1231.5,1592.8 1232.0,1591.8 1232.5,1595.0 1233.0,1598.0 1233.5,1601.5 1234.0,1596.9 1234.5,1594.8 1235.0,1599.2 1235.5,1600.2 1236.0,1598.9 1236.5,1599.8 1237.0,1599.2 1237.5,1598.7 1238.0,1593.5 1238.5,1592.5 1239.0,1593.9 1239.5,1594.5 1240.0,1598.5 1240.5,1597.9 1241.0,1597.0 1241.5,1599.1 1242.0,1597.0 1242.5,1596.3 1243.0,1594.3 1243.5,1590.9 1244.0,1589.8 1244.5,1589.3 1245.0,1587.6 1245.5,1590.2 1246.0,1594.0 1246.5,1593.8 1247.0,1593.3 1247.5,1598.9 1248.0,1594.0 1248.5,1595.6 1249.0,1596.2 1249.5,1595.0 1250.0,1589.3 1250.5,1588.2 1251.0,1587.3 1251.5,1588.5 1252.0,1586.8 1252.5,1586.5 1253.0,1588.1 1253.5,1591.7 1254.0,1590.9 1254.5,1590.8 1255.0,1588.9 1255.5,1591.7 1256.0,1590.5 1256.5,1595.0 1257.0,1594.5 1257.5,1591.8 1258.0,1591.0 1258.5,1592.8 1259.0,1592.8 1259.5,1590.6 1260.0,1590.0 1260.5,1589.4 1261.0,1588.7 1261.5,1589.3 1262.0,1590.9 1262.5,1593.0 1263.0,1591.4 1263.5,1589.5 1264.0,1593.7 1264.5,1593.3 1265.0,1590.6 1265.5,1591.8 1266.0,1588.8 1266.5,1587.5 1267.0,1589.0 1267.5,1594.0 1268.0,1593.0 1268.5,1593.9 1269.0,1595.1 1269.5,1596.9 1270.0,1601.3 1270.5,1605.4 1271.0,1608.8 1271.5,1605.4 1272.0,1608.8 1272.5,1605.8 1273.0,1599.6 1273.5,1602.6 1274.0,1603.0 1274.5,1599.7 1275.0,1595.7 1275.5,1592.7 1276.0,1588.3 1276.5,1591.9 1277.0,1592.1 1277.5,1590.3 1278.0,1592.4 1278.5,1593.6 1279.0,1599.0 1279.5,1594.1 1280.0,1593.3 1280.5,1592.2 1281.0,1596.0 1281.5,1597.7 1282.0,1596.5 1282.5,1594.7 1283.0,1596.5 1283.5,1595.8 1284.0,1596.7 1284.5,1593.5 1285.0,1590.4 1285.5,1593.1 1286.0,1593.4 1286.5,1596.4 1287.0,1594.0 1287.5,1593.6 1288.0,1592.7 1288.5,1589.0 1289.0,1590.4 1289.5,1592.1 1290.0,1588.9 1290.5,1588.9 1291.0,1589.6 1291.5,1588.9 1292.0,1591.0 1292.5,1593.9 1293.0,1594.1 1293.5,1595.6 1294.0,1595.9 1294.5,1594.6 1295.0,1596.5 1295.5,1605.1 1296.0,1606.4 1296.5,1605.0 1297.0,1608.1 1297.5,1609.9 1298.0,1609.2 1298.5,1605.1 1299.0,1601.3 1299.5,1601.0 1300.0,1603.9 1300.5,1608.3 1301.0,1609.1 1301.5,1605.7 1302.0,1606.1 1302.5,1610.7 1303.0,1612.3 1303.5,1607.0 1304.0,1608.5 1304.5,1608.4 1305.0,1607.1 1305.5,1606.7 1306.0,1606.6 1306.5,1605.9 1307.0,1602.6 1307.5,1604.6 1308.0,1606.0 1308.5,1604.9 1309.0,1603.2 1309.5,1600.6 1310.0,1599.6 1310.5,1601.0 1311.0,1596.1 1311.5,1595.2 1312.0,1596.5 1312.5,1593.4 1313.0,1590.5 1313.5,1592.7 1314.0,1595.2 1314.5,1597.7 1315.0,1600.0 1315.5,1604.8 1316.0,1606.2 1316.5,1606.1 1317.0,1605.3 1317.5,1608.3 1318.0,1609.6 1318.5,1610.3 1319.0,1604.0 1319.5,1603.3 1320.0,1604.3 1320.5,1599.1 1321.0,1600.0 1321.5,1600.2 1322.0,1599.6 1322.5,1598.6 1323.0,1600.7 1323.5,1600.7 1324.0,1606.5 1324.5,1605.8 1325.0,1607.3 1325.5,1608.0 1326.0,1608.5 1326.5,1608.1 1327.0,1607.0 1327.5,1603.9 1328.0,1601.7 1328.5,1597.5 1329.0,1595.6 1329.5,1595.2 1330.0,1594.4 1330.5,1594.0 1331.0,1596.6 1331.5,1600.0 1332.0,1599.8 1332.5,1598.0 1333.0,1598.9 1333.5,1600.4 1334.0,1603.2 1334.5,1596.1 1335.0,1598.0 1335.5,1598.3 1336.0,1604.5 1336.5,1605.4 1337.0,1608.5 1337.5,1611.1 1338.0,1612.4 1338.5,1607.3 1339.0,1611.2 1339.5,1614.8 1340.0,1613.1 1340.5,1616.1 1341.0,1616.1 1341.5,1609.9 1342.0,1610.2 1342.5,1613.3 1343.0,1616.2 1343.5,1615.3 1344.0,1613.7 1344.5,1610.7 1345.0,1611.8 1345.5,1611.4 1346.0,1609.3 1346.5,1609.4 1347.0,1606.8 1347.5,1606.3 1348.0,1610.1 1348.5,1607.2 1349.0,1609.7 1349.5,1606.7 1350.0,1606.5 1350.5,1605.4 1351.0,1608.2 1351.5,1612.6 1352.0,1608.4 1352.5,1603.5 1353.0,1607.1 1353.5,1602.1 1354.0,1600.3 1354.5,1598.9 1355.0,1595.9 1355.5,1602.2 1356.0,1602.9 1356.5,1600.4 1357.0,1602.4 1357.5,1603.7 1358.0,1606.1 1358.5,1609.7 1359.0,1611.4 1359.5,1616.2 1360.0,1620.0 1360.5,1624.7 1361.0,1619.6 1361.5,1622.4 1362.0,1620.5 1362.5,1616.3 1363.0,1613.4 1363.5,1616.3 1364.0,1614.6 1364.5,1610.0 1365.0,1608.9 1365.5,1611.2 1366.0,1614.7 1366.5,1610.9 1367.0,1612.8 1367.5,1614.1 1368.0,1608.5 1368.5,1608.9 1369.0,1609.1 1369.5,1604.1 1370.0,1601.4 1370.5,1598.4 1371.0,1601.2 1371.5,1600.1 1372.0,1603.3 1372.5,1607.2 1373.0,1609.1 1373.5,1614.6 1374.0,1617.7 1374.5,1619.9 1375.0,1622.4 1375.5,1620.6 1376.0,1618.2 1376.5,1624.4 1377.0,1624.9 1377.5,1621.0 1378.0,1619.4 1378.5,1621.4 1379.0,1617.4 1379.5,1615.3 1380.0,1615.5 1380.5,1618.8 1381.0,1611.0 1381.5,1604.9 1382.0,1607.4 1382.5,1604.7 1383.0,1602.2 1383.5,1604.4 1384.0,1603.6 1384.5,1605.0 1385.0,1603.4 1385.5,1606.1 1386.0,1606.3 1386.5,1605.3 1387.0,1608.2 1387.5,1611.7 1388.0,1609.8 1388.5,1606.4 1389.0,1609.5 1389.5,1611.8 1390.0,1613.6 1390.5,1611.6 1391.0,1612.6 1391.5,1610.1 1392.0,1609.2 1392.5,1608.5 1393.0,1608.6 1393.5,1608.5 1394.0,1608.9 1394.5,1606.7 1395.0,1606.2 1395.5,1608.9 1396.0,1610.2 1396.5,1609.9 1397.0,1611.6 1397.5,1612.4 1398.0,1612.9 1398.5,1607.1 1399.0,1609.2 1399.5,1600.2 1400.0,1599.5 1400.5,1603.9 1401.0,1603.9 1401.5,1606.6 1402.0,1608.6 1402.5,1608.8 1403.0,1610.6 1403.5,1614.4 1404.0,1617.3 1404.5,1618.1 1405.0,1616.7 1405.5,1615.9 1406.0,1616.9 1406.5,1611.0 1407.0,1614.7 1407.5,1618.8 1408.0,1619.8 1408.5,1618.6 1409.0,1617.8 1409.5,1615.7 1410.0,1610.9 1410.5,1604.6 1411.0,1606.1 1411.5,1607.7 1412.0,1610.5 1412.5,1607.1 1413.0,1607.5 1413.5,1610.3 1414.0,1609.7 1414.5,1613.7 1415.0,1617.4 1415.5,1618.0 1416.0,1618.7 1416.5,1615.8 1417.0,1616.2 1417.5,1618.4 1418.0,1619.6 1418.5,1614.7 1419.0,1612.0 1419.5,1612.7 1420.0,1615.5 1420.5,1613.5 1421.0,1616.9 1421.5,1617.9 1422.0,1618.8 1422.5,1617.7 1423.0,1619.4 1423.5,1621.0 1424.0,1616.9 1424.5,1613.5 1425.0,1609.6 1425.5,1614.2 1426.0,1613.3 1426.5,1614.0 1427.0,1612.3 1427.5,1608.7 1428.0,1606.5 1428.5,1605.3 1429.0,1610.4 1429.5,1608.7 1430.0,1607.4 1430.5,1608.4 1431.0,1609.6 1431.5,1610.4 1432.0,1613.9 1432.5,1618.0 1433.0,1613.5 1433.5,1617.8 1434.0,1619.3 1434.5,1619.8 1435.0,1614.8 1435.5,1616.6 1436.0,1618.9 1436.5,1614.5 1437.0,1615.3 1437.5,1612.6 1438.0,1612.2 1438.5,1610.1 1439.0,1611.3 1439.5,1611.6 1440.0,1615.3 1440.5,1613.1 1441.0,1616.8 1441.5,1616.6 1442.0,1618.1 1442.5,1620.9 1443.0,1617.2 1443.5,1615.0 1444.0,1615.9 1444.5,1616.6 1445.0,1615.1 1445.5,1618.8 1446.0,1616.6 1446.5,1615.0 1447.0,1615.0 1447.5,1617.0 1448.0,1619.6 1448.5,1620.7 1449.0,1618.0 1449.5,1615.4 1450.0,1613.7 1450.5,1609.3 1451.0,1613.3 1451.5,1611.7 1452.0,1607.7 1452.5,1606.4 1453.0,1603.2 1453.5,1606.9 1454.0,1603.8 1454.5,1604.1 1455.0,1609.2 1455.5,1606.1 1456.0,1608.5 1456.5,1607.9 1457.0,1608.9 1457.5,1609.9 1458.0,1610.6 1458.5,1614.9 1459.0,1614.4 1459.5,1612.6 1460.0,1617.9 1460.5,1615.0 1461.0,1614.6 1461.5,1615.8 1462.0,1614.6 1462.5,1618.0 1463.0,1614.0 1463.5,1613.3 1464.0,1617.5 1464.5,1614.7 1465.0,1614.5 1465.5,1612.6 1466.0,1613.1 1466.5,1612.1 1467.0,1606.8 1467.5,1609.5 1468.0,1610.3 1468.5,1615.9 1469.0,1619.0 1469.5,1617.7 1470.0,1619.0 1470.5,1621.6 1471.0,1621.6 1471.5,1616.6 1472.0,1615.9 1472.5,1616.8 1473.0,1614.8 1473.5,1615.5 1474.0,1614.8 1474.5,1611.8 1475.0,1612.6 1475.5,1612.7 1476.0,1608.3 1476.5,1606.5 1477.0,1604.5 1477.5,1603.2 1478.0,1601.9 1478.5,1601.9 1479.0,1606.9 1479.5,1610.0 1480.0,1609.7 1480.5,1610.3 1481.0,1609.0 1481.5,1611.9 1482.0,1613.8 1482.5,1612.9 1483.0,1611.6 1483.5,1608.1 1484.0,1606.4 1484.5,1608.7 1485.0,1611.7 1485.5,1607.7 1486.0,1605.1 1486.5,1607.6 1487.0,1611.4 1487.5,1616.6 1488.0,1618.0 1488.5,1615.3 1489.0,1615.7 1489.5,1618.3 1490.0,1618.9 1490.5,1617.5 1491.0,1619.8 1491.5,1617.3 1492.0,1617.2 1492.5,1616.7 1493.0,1618.0 1493.5,1617.9 1494.0,1619.8 1494.5,1622.6 1495.0,1622.2 1495.5,1623.3 1496.0,1618.5 1496.5,1619.1 1497.0,1617.7 1497.5,1617.6 1498.0,1622.4 1498.5,1627.6 1499.0,1626.3 1499.5,1626.1 1500.0,1621.3 1500.5,1623.3 1501.0,1621.2 1501.5,1622.7 1502.0,1623.0 1502.5,1619.6 1503.0,1620.1 1503.5,1616.2 1504.0,1615.7 1504.5,1613.9 1505.0,1614.0 1505.5,1611.8 1506.0,1607.5 1506.5,1610.6 1507.0,1613.1 1507.5,1616.8 1508.0,1611.4 1508.5,1616.7 1509.0,1621.5 1509.5,1624.7 1510.0,1623.3 1510.5,1620.4 1511.0,1621.4 1511.5,1617.7 1512.0,1615.7 1512.5,1614.8 1513.0,1616.0 1513.5,1619.7 1514.0,1615.9 1514.5,1618.7 1515.0,1627.6 1515.5,1631.4 1516.0,1633.9 1516.5,1633.4 1517.0,1634.4 1517.5,1631.3 1518.0,1627.9 1518.5,1625.2 1519.0,1623.5 1519.5,1620.8 1520.0,1618.7 1520.5,1620.8 1521.0,1617.7 1521.5,1613.8 1522.0,1610.8 1522.5,1611.0 1523.0,1607.4 1523.5,1607.1 1524.0,1606.6 1524.5,1607.7 1525.0,1609.1 1525.5,1605.8 1526.0,1615.6 1526.5,1617.0 1527.0,1615.9 1527.5,1616.9 1528.0,1620.0 1528.5,1619.8 1529.0,1621.8 1529.5,1616.8 1530.0,1612.3 1530.5,1610.2 1531.0,1613.0 1531.5,1615.3 1532.0,1613.0 1532.5,1618.3 1533.0,1619.1 1533.5,1617.6 1534.0,1618.7 1534.5,1611.5 1535.0,1608.8 1535.5,1612.6 1536.0,1612.9 1536.5,1611.7 1537.0,1609.4 1537.5,1607.0 1538.0,1610.7 1538.5,1611.0 1539.0,1613.4 1539.5,1612.1 1540.0,1609.7 1540.5,1613.3 1541.0,1615.1 1541.5,1615.0 1542.0,1612.6 1542.5,1613.4 1543.0,1618.4 1543.5,1618.7 1544.0,1619.4 1544.5,1622.1 1545.0,1622.1 1545.5,1619.7 1546.0,1617.6 1546.5,1618.7 1547.0,1613.6 1547.5,1614.2 1548.0,1614.4 1548.5,1611.3 1549.0,1613.4 1549.5,1617.6 1550.0,1616.7 1550.5,1616.2 1551.0,1621.6 1551.5,1620.0 1552.0,1620.2 1552.5,1622.3 1553.0,1616.4 1553.5,1616.7 1554.0,1618.0 1554.5,1622.2 1555.0,1620.8 1555.5,1626.2 1556.0,1623.7 1556.5,1622.3 1557.0,1622.2 1557.5,1618.1 1558.0,1614.0 1558.5,1612.2 1559.0,1610.6 1559.5,1606.6 1560.0,1605.9 1560.5,1603.4 1561.0,1603.5 1561.5,1605.7 1562.0,1611.8 1562.5,1616.8 1563.0,1618.3 1563.5,1616.6 1564.0,1618.4 1564.5,1624.9 1565.0,1627.9 1565.5,1627.1 1566.0,1623.7 1566.5,1624.0 1567.0,1623.0 1567.5,1624.5 1568.0,1623.4 1568.5,1620.3 1569.0,1618.6 1569.5,1621.5 1570.0,1619.0 1570.5,1619.3 1571.0,1619.3 1571.5,1620.2 1572.0,1620.6 1572.5,1617.6 1573.0,1617.4 1573.5,1617.9 1574.0,1611.8 1574.5,1617.1 1575.0,1619.0 1575.5,1621.7 1576.0,1621.4 1576.5,1619.3 1577.0,1617.0 1577.5,1618.2 1578.0,1618.2 1578.5,1618.7 1579.0,1618.4 1579.5,1616.7 1580.0,1617.9 1580.5,1616.2 1581.0,1617.1 1581.5,1617.3 1582.0,1618.3 1582.5,1616.7 1583.0,1618.8 1583.5,1615.6 1584.0,1615.2 1584.5,1618.8 1585.0,1617.7 1585.5,1621.6 1586.0,1623.1 1586.5,1622.5 1587.0,1621.4 1587.5,1619.6 1588.0,1618.8 1588.5,1613.2 1589.0,1608.1 1589.5,1611.9 1590.0,1617.7 1590.5,1621.9 1591.0,1625.0 1591.5,1627.0 1592.0,1629.3 1592.5,1635.6 1593.0,1632.5 1593.5,1628.6 1594.0,1625.9 1594.5,1631.7 1595.0,1626.2 1595.5,1620.4 1596.0,1623.9 1596.5,1622.6 1597.0,1617.9 1597.5,1621.4 1598.0,1620.9 1598.5,1621.8 1599.0,1621.9 1599.5,1618.8 1600.0,1621.6 1600.5,1616.9 1601.0,1615.0 1601.5,1617.6 1602.0,1614.7 1602.5,1615.5 1603.0,1618.0 1603.5,1615.3 1604.0,1615.2 1604.5,1619.4 1605.0,1620.0 1605.5,1620.0 1606.0,1622.2 1606.5,1619.3 1607.0,1621.6 1607.5,1619.5 1608.0,1621.6 1608.5,1620.4 1609.0,1624.3 1609.5,1624.6 1610.0,1624.6 1610.5,1626.0 1611.0,1626.3 1611.5,1627.0 1612.0,1623.8 1612.5,1623.8 1613.0,1621.3 1613.5,1619.3 1614.0,1618.3 1614.5,1617.5 1615.0,1620.4 1615.5,1621.1 1616.0,1620.9 1616.5,1617.7 1617.0,1620.8 1617.5,1626.0 1618.0,1625.7 1618.5,1622.1 1619.0,1620.8 1619.5,1620.5 1620.0,1621.4 1620.5,1620.6 1621.0,1616.8 1621.5,1615.0 1622.0,1614.2 1622.5,1615.7 1623.0,1618.4 1623.5,1615.3 1624.0,1617.1 1624.5,1615.1 1625.0,1615.3 1625.5,1616.1 1626.0,1620.8 1626.5,1627.3 1627.0,1629.1 1627.5,1627.2 1628.0,1625.5 1628.5,1626.2 1629.0,1621.5 1629.5,1619.7 1630.0,1621.2 1630.5,1622.3 1631.0,1619.9 1631.5,1622.9 1632.0,1628.1 1632.5,1624.8 1633.0,1622.7 1633.5,1622.2 1634.0,1624.4 1634.5,1624.0 1635.0,1621.7 1635.5,1618.9 1636.0,1613.7 1636.5,1613.7 1637.0,1615.3 1637.5,1614.5 1638.0,1613.7 1638.5,1613.6 1639.0,1617.4 1639.5,1615.4 1640.0,1610.9 1640.5,1613.9 1641.0,1614.4 1641.5,1614.1 1642.0,1615.1 1642.5,1618.9 1643.0,1623.4 1643.5,1621.3 1644.0,1623.3 1644.5,1625.0 1645.0,1624.3 1645.5,1628.0 1646.0,1627.9 1646.5,1629.3 1647.0,1629.4 1647.5,1629.3 1648.0,1622.9 1648.5,1619.8 1649.0,1620.5 1649.5,1621.1 1650.0,1616.5 1650.5,1615.2 1651.0,1615.0 1651.5,1614.1 1652.0,1612.0 1652.5,1611.5 1653.0,1612.7 1653.5,1614.9 1654.0,1617.0 1654.5,1615.5 1655.0,1616.0 1655.5,1617.9 1656.0,1618.0 1656.5,1617.4 1657.0,1615.9 1657.5,1620.8 1658.0,1617.9 1658.5,1616.7 1659.0,1616.9 1659.5,1620.9 1660.0,1623.4 1660.5,1622.2 1661.0,1621.7 1661.5,1622.4 1662.0,1626.1 1662.5,1621.9 1663.0,1617.8 1663.5,1618.3 1664.0,1620.0 1664.5,1619.2 1665.0,1620.1 1665.5,1620.8 1666.0,1621.3 1666.5,1623.7 1667.0,1625.7 1667.5,1622.8 1668.0,1619.5 1668.5,1617.7 1669.0,1618.5 1669.5,1617.6 1670.0,1617.6 1670.5,1621.0 1671.0,1622.1 1671.5,1624.0 1672.0,1623.4 1672.5,1622.7 1673.0,1625.6 1673.5,1626.1 1674.0,1626.7 1674.5,1621.9 1675.0,1621.6 1675.5,1623.1 1676.0,1625.5 1676.5,1622.7 1677.0,1618.6 1677.5,1619.1 1678.0,1621.4 1678.5,1618.0 1679.0,1618.8 1679.5,1620.0 1680.0,1619.6 1680.5,1620.6 1681.0,1621.0 1681.5,1618.5 1682.0,1615.2 1682.5,1619.0 1683.0,1617.7 1683.5,1612.6 1684.0,1611.2 1684.5,1610.2 1685.0,1614.4 1685.5,1612.4 1686.0,1613.7 1686.5,1615.4 1687.0,1617.4 1687.5,1616.0 1688.0,1616.0 1688.5,1619.4 1689.0,1621.2 1689.5,1619.4 1690.0,1619.6 1690.5,1618.5 1691.0,1622.7 1691.5,1619.6 1692.0,1620.8 1692.5,1620.1 1693.0,1619.2 1693.5,1618.5 1694.0,1615.9 1694.5,1617.9 1695.0,1618.1 1695.5,1619.8 1696.0,1621.3 1696.5,1627.1 1697.0,1624.6 1697.5,1624.3 1698.0,1622.4 1698.5,1625.9 1699.0,1622.9 1699.5,1621.3 1700.0,1619.4 1700.5,1615.0 1701.0,1612.9 1701.5,1615.3 1702.0,1612.9 1702.5,1614.7 1703.0,1619.1 1703.5,1617.6 1704.0,1622.5 1704.5,1621.8 1705.0,1621.7 1705.5,1628.1 1706.0,1633.1 1706.5,1634.7 1707.0,1633.3 1707.5,1634.3 1708.0,1639.8 1708.5,1643.2 1709.0,1641.7 1709.5,1636.0 1710.0,1634.2 1710.5,1634.5 1711.0,1635.2 1711.5,1633.3 1712.0,1632.5 1712.5,1630.7 1713.0,1626.7 1713.5,1631.0 1714.0,1635.6 1714.5,1635.6 1715.0,1641.1 1715.5,1636.1 1716.0,1635.3 1716.5,1633.3 1717.0,1628.7 1717.5,1620.6 1718.0,1619.5 1718.5,1621.0 1719.0,1618.1 1719.5,1617.1 1720.0,1612.3 1720.5,1617.9 1721.0,1620.2 1721.5,1620.1 1722.0,1618.2 1722.5,1621.1 1723.0,1623.6 1723.5,1623.9 1724.0,1624.0 1724.5,1628.7 1725.0,1629.2 1725.5,1627.4 1726.0,1629.6 1726.5,1625.8 1727.0,1628.7 1727.5,1632.1 1728.0,1630.0 1728.5,1627.6 1729.0,1627.3 1729.5,1624.6 1730.0,1621.5 1730.5,1619.5 1731.0,1619.8 1731.5,1619.4 1732.0,1619.8 1732.5,1618.8 1733.0,1622.2 1733.5,1624.7 1734.0,1623.6 1734.5,1626.9 1735.0,1622.7 1735.5,1621.1 1736.0,1620.5 1736.5,1618.6 1737.0,1617.7 1737.5,1619.3 1738.0,1622.0 1738.5,1623.5 1739.0,1628.5 1739.5,1626.8 1740.0,1626.1 1740.5,1626.9 1741.0,1629.5 1741.5,1629.7 1742.0,1630.5 1742.5,1632.0 1743.0,1632.0 1743.5,1627.0 1744.0,1628.1 1744.5,1627.0 1745.0,1626.5 1745.5,1625.8 1746.0,1629.2 1746.5,1631.2 1747.0,1631.9 1747.5,1631.7 1748.0,1634.9 1748.5,1632.8 1749.0,1632.5 1749.5,1637.3 1750.0,1636.6" fill="none" stroke="#0000ff" stroke-width="7" stroke-linejoin="round" stroke-linecap="butt"/>
<polyline points="281.0,2336.9 281.5,2336.7 282.0,2336.4 282.5,2336.7 283.0,2337.2 283.5,2335.1 284.0,2336.2 284.5,2336.8 285.0,2336.1 285.5,2336.2 286.0,2337.3 286.5,2338.0 287.0,2338.6 287.5,2338.5 288.0,2339.5 288.5,2339.1 289.0,2338.7 289.5,2337.9 290.0,2337.8 290.5,2338.0 291.0,2337.7 291.5,2336.5 292.0,2337.3 292.5,2336.9 293.0,2336.6 293.5,2337.3 294.0,2339.3 294.5,2338.2 295.0,2336.7 295.5,2336.4 296.0,2337.6 296.5,2336.3 297.0,2337.3 297.5,2337.4 298.0,2335.5 298.5,2337.3 299.0,2336.4 299.5,2335.3 300.0,2335.7 300.5,2336.8 301.0,2337.1 301.5,2337.0 302.0,2336.3 302.5,2337.1 303.0,2337.1 303.5,2336.8 304.0,2336.3 304.5,2337.2 305.0,2337.9 305.5,2337.6 306.0,2338.1 306.5,2338.2 307.0,2338.0 307.5,2337.2 308.0,2334.7 308.5,2334.7 309.0,2334.7 309.5,2332.9 310.0,2333.5 310.5,2335.5 311.0,2334.3 311.5,2334.6 312.0,2335.7 312.5,2335.7 313.0,2335.9 313.5,2336.4 314.0,2336.4 314.5,2336.1 315.0,2336.4 315.5,2337.0 316.0,2336.4 316.5,2337.2 317.0,2337.1 317.5,2337.5 318.0,2337.6 318.5,2337.5 319.0,2338.1 319.5,2337.8 320.0,2336.8 320.5,2337.6 321.0,2337.8 321.5,2337.8 322.0,2337.2 322.5,2336.7 323.0,2339.3 323.5,2338.5 324.0,2337.0 324.5,2338.0 325.0,2337.2 325.5,2337.1 326.0,2336.5 326.5,2337.0 327.0,2336.7 327.5,2336.7 328.0,2336.8 328.5,2337.0 329.0,2335.5 329.5,2336.7 330.0,2336.5 330.5,2335.5 331.0,2335.5 331.5,2335.4 332.0,2335.7 332.5,2335.7 333.0,2334.3 333.5,2334.9 334.0,2335.8 334.5,2337.1 335.0,2338.8 335.5,2338.7 336.0,2339.4 336.5,2340.1 337.0,2338.2 337.5,2337.5 338.0,2337.5 338.5,2337.5 339.0,2336.4 339.5,2335.7 340.0,2334.3 340.5,2334.4 341.0,2334.5 341.5,2334.9 342.0,2336.3 342.5,2338.0 343.0,2338.0 343.5,2337.5 344.0,2337.9 344.5,2336.6 345.0,2334.3 345.5,2333.9 346.0,2332.8 346.5,2332.9 347.0,2333.3 347.5,2334.3 348.0,2333.4 348.5,2333.7 349.0,2334.7 349.5,2336.3 350.0,2337.1 350.5,2336.6 351.0,2338.2 351.5,2338.3 352.0,2338.9 352.5,2338.5 353.0,2337.0 353.5,2336.4 354.0,2335.6 354.5,2335.7 355.0,2336.4 355.5,2335.7 356.0,2336.0 356.5,2338.1 357.0,2336.6 357.5,2337.0 358.0,2337.2 358.5,2336.7 359.0,2337.9 359.5,2338.0 360.0,2337.1 360.5,2336.9 361.0,2336.4 361.5,2335.4 362.0,2336.3 362.5,2335.8 363.0,2336.0 363.5,2337.2 364.0,2337.3 364.5,2336.1 365.0,2337.2 365.5,2337.6 366.0,2336.5 366.5,2336.2 367.0,2336.5 367.5,2336.2 368.0,2335.9 368.5,2336.4 369.0,2335.7 369.5,2334.2 370.0,2333.9 370.5,2334.0 371.0,2334.3 371.5,2334.3 372.0,2334.2 372.5,2335.3 373.0,2334.3 373.5,2334.2 374.0,2334.7 374.5,2333.1 375.0,2332.8 375.5,2331.8 376.0,2332.6 376.5,2333.8 377.0,2333.1 377.5,2331.8 378.0,2331.8 378.5,2333.0 379.0,2332.7 379.5,2333.4 380.0,2332.7 380.5,2331.5 381.0,2331.0 381.5,2331.2 382.0,2331.0 382.5,2331.1 383.0,2332.6 383.5,2332.6 384.0,2332.5 384.5,2332.4 385.0,2331.7 385.5,2331.3 386.0,2330.2 386.5,2329.7 387.0,2329.9 387.5,2330.1 388.0,2329.3 388.5,2329.4 389.0,2329.4 389.5,2329.9 390.0,2331.3 390.5,2333.3 391.0,2332.2 391.5,2332.4 392.0,2332.4 392.5,2331.9 393.0,2332.0 393.5,2332.5 394.0,2331.2 394.5,2331.9 395.0,2331.5 395.5,2330.9 396.0,2331.9 396.5,2333.1 397.0,2334.0 397.5,2336.0 398.0,2336.0 398.5,2335.3 399.0,2333.7 399.5,2333.3 400.0,2332.1 400.5,2332.7 401.0,2331.1 401.5,2331.1 402.0,2331.7 402.5,2331.8 403.0,2332.2 403.5,2332.6 404.0,2333.1 404.5,2332.1 405.0,2332.2 405.5,2332.7 406.0,2332.5 406.5,2332.4 407.0,2333.2 407.5,2334.3 408.0,2334.5 408.5,2335.4 409.0,2334.5 409.5,2333.9 410.0,2333.5 410.5,2334.6 411.0,2334.5 411.5,2334.3 412.0,2335.4 412.5,2337.7 413.0,2336.4 413.5,2336.0 414.0,2337.0 414.5,2336.5 415.0,2336.0 415.5,2336.7 416.0,2335.3 416.5,2335.4 417.0,2335.4 417.5,2337.3 418.0,2337.4 418.5,2338.6 419.0,2337.5 419.5,2336.8 420.0,2335.4 420.5,2334.8 421.0,2335.1 421.5,2335.6 422.0,2334.2 422.5,2333.8 423.0,2336.3 423.5,2336.9 424.0,2336.1 424.5,2337.2 425.0,2338.1 425.5,2338.0 426.0,2336.6 426.5,2337.4 427.0,2337.7 427.5,2338.8 428.0,2338.5 428.5,2338.0 429.0,2339.0 429.5,2339.6 430.0,2338.4 430.5,2338.4 431.0,2338.9 431.5,2339.0 432.0,2338.1 432.5,2336.6 433.0,2336.5 433.5,2337.6 434.0,2337.9 434.5,2337.2 435.0,2338.0 435.5,2338.8 436.0,2337.2 436.5,2336.1 437.0,2335.6 437.5,2336.1 438.0,2335.9 438.5,2335.7 439.0,2335.0 439.5,2335.0 440.0,2334.3 440.5,2333.5 441.0,2333.4 441.5,2331.9 442.0,2333.3 442.5,2333.9 443.0,2335.4 443.5,2336.7 444.0,2335.8 444.5,2335.4 445.0,2335.4 445.5,2335.9 446.0,2335.3 446.5,2333.8 447.0,2333.8 447.5,2334.5 448.0,2333.4 448.5,2331.7 449.0,2331.8 449.5,2332.2 450.0,2332.6 450.5,2332.2 451.0,2332.9 451.5,2332.3 452.0,2333.5 452.5,2333.2 453.0,2334.5 453.5,2334.0 454.0,2334.0 454.5,2333.5 455.0,2332.6 455.5,2331.5 456.0,2330.3 456.5,2330.2 457.0,2330.2 457.5,2334.3 458.0,2336.2 458.5,2336.6 459.0,2336.2 459.5,2338.0 460.0,2335.8 460.5,2335.0 461.0,2333.0 461.5,2333.4 462.0,2335.0 462.5,2335.2 463.0,2334.1 463.5,2334.8 464.0,2335.0 464.5,2332.6 465.0,2332.3 465.5,2330.3 466.0,2330.8 466.5,2330.9 467.0,2331.9 467.5,2331.6 468.0,2332.2 468.5,2332.8 469.0,2333.2 469.5,2333.9 470.0,2333.8 470.5,2334.3 471.0,2335.1 471.5,2334.7 472.0,2335.1 472.5,2334.5 473.0,2333.5 473.5,2332.0 474.0,2333.0 474.5,2334.2 475.0,2334.5 475.5,2335.2 476.0,2335.3 476.5,2333.4 477.0,2334.1 477.5,2333.7 478.0,2332.3 478.5,2331.0 479.0,2331.5 479.5,2331.9 480.0,2333.9 480.5,2334.5 481.0,2333.9 481.5,2333.9 482.0,2334.6 482.5,2335.6 483.0,2336.2 483.5,2337.8 484.0,2336.2 484.5,2336.4 485.0,2336.7 485.5,2337.0 486.0,2336.8 486.5,2337.9 487.0,2339.2 487.5,2340.2 488.0,2340.4 488.5,2341.1 489.0,2341.8 489.5,2342.2 490.0,2339.9 490.5,2340.4 491.0,2340.6 491.5,2338.8 492.0,2340.2 492.5,2339.9 493.0,2338.3 493.5,2338.0 494.0,2337.4 494.5,2335.6 495.0,2334.8 495.5,2333.8 496.0,2334.2 496.5,2335.4 497.0,2336.6 497.5,2338.2 498.0,2337.2 498.5,2336.4 499.0,2337.5 499.5,2337.5 500.0,2336.9 500.5,2336.6 501.0,2336.9 501.5,2338.7 502.0,2341.7 502.5,2342.5 503.0,2342.3 503.5,2342.2 504.0,2341.3 504.5,2340.7 505.0,2340.9 505.5,2341.0 506.0,2340.2 506.5,2340.4 507.0,2340.9 507.5,2342.3 508.0,2343.0 508.5,2341.7 509.0,2341.4 509.5,2341.4 510.0,2342.2 510.5,2341.7 511.0,2341.4 511.5,2341.5 512.0,2343.2 512.5,2341.8 513.0,2341.1 513.5,2341.7 514.0,2343.0 514.5,2343.4 515.0,2342.4 515.5,2340.7 516.0,2341.8 516.5,2341.7 517.0,2341.2 517.5,2341.1 518.0,2341.2 518.5,2341.8 519.0,2340.8 519.5,2340.8 520.0,2339.4 520.5,2338.9 521.0,2338.6 521.5,2338.4 522.0,2338.4 522.5,2339.2 523.0,2339.4 523.5,2337.6 524.0,2337.2 524.5,2338.5 525.0,2337.9 525.5,2338.1 526.0,2337.9 526.5,2337.5 527.0,2335.7 527.5,2335.9 528.0,2334.9 528.5,2332.8 529.0,2333.7 529.5,2334.3 530.0,2335.0 530.5,2335.0 531.0,2334.6 531.5,2335.0 532.0,2335.6 532.5,2335.7 533.0,2336.0 533.5,2337.0 534.0,2334.9 534.5,2332.6 535.0,2332.6 535.5,2332.6 536.0,2332.0 536.5,2332.6 537.0,2332.0 537.5,2331.6 538.0,2333.9 538.5,2335.1 539.0,2335.4 539.5,2334.7 540.0,2333.8 540.5,2333.8 541.0,2333.9 541.5,2334.4 542.0,2334.8 542.5,2334.5 543.0,2333.6 543.5,2333.6 544.0,2333.0 544.5,2334.2 545.0,2334.7 545.5,2335.5 546.0,2336.0 546.5,2336.7 547.0,2335.3 547.5,2335.0 548.0,2334.1 548.5,2333.4 549.0,2332.6 549.5,2333.2 550.0,2332.8 550.5,2333.3 551.0,2332.6 551.5,2332.0 552.0,2330.6 552.5,2331.1 553.0,2331.3 553.5,2330.5 554.0,2332.9 554.5,2332.9 555.0,2332.9 555.5,2335.2 556.0,2335.0 556.5,2332.5 557.0,2333.1 557.5,2333.3 558.0,2333.7 558.5,2333.5 559.0,2334.0 559.5,2333.5 560.0,2331.7 560.5,2333.3 561.0,2334.5 561.5,2333.9 562.0,2334.2 562.5,2333.9 563.0,2332.9 563.5,2333.2 564.0,2333.9 564.5,2334.6 565.0,2336.6 565.5,2335.6 566.0,2334.8 566.5,2334.3 567.0,2333.7 567.5,2331.7 568.0,2332.1 568.5,2333.7 569.0,2333.9 569.5,2332.2 570.0,2331.5 570.5,2332.9 571.0,2333.4 571.5,2333.5 572.0,2334.2 572.5,2334.5 573.0,2334.3 573.5,2334.4 574.0,2334.7 574.5,2334.4 575.0,2334.4 575.5,2332.7 576.0,2332.5 576.5,2334.1 577.0,2333.6 577.5,2333.8 578.0,2333.5 578.5,2332.0 579.0,2331.3 579.5,2331.7 580.0,2330.2 580.5,2331.6 581.0,2330.7 581.5,2332.3 582.0,2333.0 582.5,2333.7 583.0,2334.4 583.5,2333.9 584.0,2332.8 584.5,2334.0 585.0,2334.4 585.5,2334.8 586.0,2334.5 586.5,2334.1 587.0,2334.5 587.5,2334.2 588.0,2333.3 588.5,2332.1 589.0,2332.0 589.5,2332.3 590.0,2333.7 590.5,2333.5 591.0,2333.1 591.5,2332.8 592.0,2332.6 592.5,2333.4 593.0,2332.4 593.5,2332.5 594.0,2333.7 594.5,2333.6 595.0,2333.0 595.5,2332.3 596.0,2332.9 596.5,2334.6 597.0,2334.8 597.5,2334.9 598.0,2333.5 598.5,2333.3 599.0,2333.3 599.5,2334.7 600.0,2333.2 600.5,2334.6 601.0,2335.3 601.5,2333.3 602.0,2332.4 602.5,2332.3 603.0,2332.1 603.5,2333.0 604.0,2332.6 604.5,2332.1 605.0,2333.1 605.5,2334.6 606.0,2333.7 606.5,2333.5 607.0,2334.4 607.5,2332.8 608.0,2333.2 608.5,2334.8 609.0,2333.9 609.5,2332.4 610.0,2332.6 610.5,2332.2 611.0,2333.7 611.5,2334.8 612.0,2334.6 612.5,2336.9 613.0,2337.7 613.5,2337.7 614.0,2337.6 614.5,2338.7 615.0,2339.3 615.5,2339.0 616.0,2337.7 616.5,2334.8 617.0,2335.3 617.5,2336.0 618.0,2337.5 618.5,2339.2 619.0,2340.9 619.5,2339.9 620.0,2340.1 620.5,2339.4 621.0,2338.7 621.5,2338.6 622.0,2336.4 622.5,2337.2 623.0,2339.1 623.5,2340.4 624.0,2338.7 624.5,2338.9 625.0,2339.8 625.5,2341.1 626.0,2341.8 626.5,2341.9 627.0,2341.8 627.5,2340.4 628.0,2339.7 628.5,2338.1 629.0,2338.3 629.5,2338.3 630.0,2337.4 630.5,2339.2 631.0,2340.3 631.5,2340.2 632.0,2340.5 632.5,2340.3 633.0,2339.4 633.5,2339.5 634.0,2338.9 634.5,2339.1 635.0,2339.2 635.5,2339.1 636.0,2338.5 636.5,2339.7 637.0,2341.1 637.5,2340.2 638.0,2338.6 638.5,2338.2 639.0,2339.5 639.5,2339.2 640.0,2338.3 640.5,2339.4 641.0,2340.2 641.5,2337.7 642.0,2337.7 642.5,2337.3 643.0,2337.9 643.5,2338.1 644.0,2337.6 644.5,2336.6 645.0,2337.8 645.5,2338.1 646.0,2337.4 646.5,2336.4 647.0,2336.7 647.5,2338.0 648.0,2335.8 648.5,2335.4 649.0,2334.9 649.5,2335.5 650.0,2336.1 650.5,2336.5 651.0,2335.5 651.5,2334.8 652.0,2335.0 652.5,2335.6 653.0,2335.9 653.5,2336.9 654.0,2338.2 654.5,2337.5 655.0,2337.4 655.5,2336.6 656.0,2336.6 656.5,2337.5 657.0,2336.4 657.5,2337.2 658.0,2338.3 658.5,2337.1 659.0,2335.9 659.5,2334.7 660.0,2333.4 660.5,2334.3 661.0,2335.1 661.5,2336.6 662.0,2336.4 662.5,2334.9 663.0,2335.1 663.5,2334.2 664.0,2335.1 664.5,2334.6 665.0,2333.8 665.5,2333.7 666.0,2336.0 666.5,2336.9 667.0,2337.6 667.5,2337.2 668.0,2336.2 668.5,2335.7 669.0,2334.3 669.5,2335.0 670.0,2334.9 670.5,2334.4 671.0,2336.1 671.5,2336.2 672.0,2335.4 672.5,2334.9 673.0,2334.2 673.5,2332.3 674.0,2332.3 674.5,2334.0 675.0,2333.9 675.5,2332.7 676.0,2333.0 676.5,2331.9 677.0,2333.0 677.5,2333.1 678.0,2332.8 678.5,2331.3 679.0,2331.5 679.5,2332.2 680.0,2331.2 680.5,2332.2 681.0,2332.1 681.5,2332.0 682.0,2331.6 682.5,2332.8 683.0,2333.6 683.5,2334.8 684.0,2336.0 684.5,2334.3 685.0,2333.7 685.5,2333.3 686.0,2334.8 686.5,2333.9 687.0,2333.7 687.5,2331.9 688.0,2331.8 688.5,2332.5 689.0,2332.8 689.5,2333.3 690.0,2334.6 690.5,2334.9 691.0,2335.5 691.5,2335.0 692.0,2335.6 692.5,2335.7 693.0,2337.2 693.5,2337.2 694.0,2337.2 694.5,2337.2 695.0,2338.3 695.5,2338.2 696.0,2338.2 696.5,2338.8 697.0,2337.5 697.5,2338.3 698.0,2338.6 698.5,2337.3 699.0,2339.5 699.5,2340.6 700.0,2340.8 700.5,2340.6 701.0,2339.5 701.5,2339.8 702.0,2339.1 702.5,2337.4 703.0,2337.3 703.5,2336.7 704.0,2337.4 704.5,2337.5 705.0,2338.4 705.5,2337.9 706.0,2338.1 706.5,2338.0 707.0,2338.1 707.5,2339.2 708.0,2339.7 708.5,2338.1 709.0,2339.6 709.5,2339.7 710.0,2339.7 710.5,2339.4 711.0,2338.8 711.5,2338.4 712.0,2338.8 712.5,2339.1 713.0,2338.6 713.5,2338.3 714.0,2338.5 714.5,2338.7 715.0,2339.2 715.5,2337.4 716.0,2336.8 716.5,2337.6 717.0,2338.0 717.5,2337.7 718.0,2337.4 718.5,2336.0 719.0,2337.2 719.5,2337.7 720.0,2337.4 720.5,2338.1 721.0,2339.4 721.5,2340.7 722.0,2340.7 722.5,2340.9 723.0,2342.9 723.5,2344.0 724.0,2342.8 724.5,2341.8 725.0,2340.4 725.5,2340.3 726.0,2339.8 726.5,2337.2 727.0,2338.0 727.5,2337.5 728.0,2340.3 728.5,2340.9 729.0,2340.3 729.5,2340.2 730.0,2339.9 730.5,2337.2 731.0,2337.0 731.5,2335.9 732.0,2335.1 732.5,2335.5 733.0,2334.1 733.5,2335.0 734.0,2335.3 734.5,2336.3 735.0,2336.4 735.5,2334.7 736.0,2335.1 736.5,2335.0 737.0,2334.3 737.5,2334.8 738.0,2335.8 738.5,2336.0 739.0,2336.5 739.5,2334.8 740.0,2334.5 740.5,2335.6 741.0,2334.4 741.5,2335.4 742.0,2335.1 742.5,2335.6 743.0,2336.0 743.5,2337.6 744.0,2338.0 744.5,2336.9 745.0,2334.4 745.5,2332.0 746.0,2332.5 746.5,2332.3 747.0,2332.6 747.5,2331.2 748.0,2332.0 748.5,2331.6 749.0,2331.6 749.5,2331.9 750.0,2331.7 750.5,2332.0 751.0,2331.6 751.5,2331.5 752.0,2331.0 752.5,2330.3 753.0,2331.6 753.5,2331.3 754.0,2332.2 754.5,2333.4 755.0,2333.0 755.5,2332.4 756.0,2330.8 756.5,2331.5 757.0,2331.8 757.5,2332.7 758.0,2333.9 758.5,2333.9 759.0,2334.1 759.5,2334.6 760.0,2335.3 760.5,2335.2 761.0,2334.3 761.5,2333.5 762.0,2333.8 762.5,2333.4 763.0,2333.8 763.5,2334.6 764.0,2334.4 764.5,2334.2 765.0,2334.4 765.5,2335.4 766.0,2336.1 766.5,2336.1 767.0,2335.2 767.5,2335.4 768.0,2335.2 768.5,2334.9 769.0,2335.5 769.5,2332.6 770.0,2331.4 770.5,2332.3 771.0,2333.9 771.5,2334.1 772.0,2335.7 772.5,2335.4 773.0,2336.4 773.5,2337.7 774.0,2338.9 774.5,2340.1 775.0,2340.8 775.5,2341.0 776.0,2340.3 776.5,2340.4 777.0,2339.6 777.5,2339.5 778.0,2340.2 778.5,2340.2 779.0,2340.3 779.5,2340.8 780.0,2339.4 780.5,2338.4 781.0,2338.8 781.5,2338.5 782.0,2338.6 782.5,2338.4 783.0,2338.3 783.5,2338.4 784.0,2338.1 784.5,2337.0 785.0,2335.7 785.5,2334.8 786.0,2334.7 786.5,2335.5 787.0,2335.9 787.5,2335.7 788.0,2336.3 788.5,2337.1 789.0,2336.8 789.5,2336.5 790.0,2337.5 790.5,2337.9 791.0,2337.2 791.5,2338.6 792.0,2338.4 792.5,2337.8 793.0,2338.8 793.5,2339.0 794.0,2339.2 794.5,2338.2 795.0,2337.7 795.5,2337.3 796.0,2336.8 796.5,2336.0 797.0,2335.0 797.5,2335.3 798.0,2336.0 798.5,2335.8 799.0,2336.8 799.5,2336.5 800.0,2335.6 800.5,2335.8 801.0,2335.6 801.5,2337.7 802.0,2338.4 802.5,2337.2 803.0,2336.9 803.5,2337.3 804.0,2338.4 804.5,2338.5 805.0,2337.0 805.5,2336.8 806.0,2337.0 806.5,2336.6 807.0,2336.1 807.5,2336.1 808.0,2334.7 808.5,2333.7 809.0,2334.4 809.5,2334.3 810.0,2334.1 810.5,2333.1 811.0,2333.3 811.5,2334.5 812.0,2335.3 812.5,2335.6 813.0,2335.6 813.5,2335.9 814.0,2334.8 814.5,2334.3 815.0,2332.4 815.5,2331.9 816.0,2332.8 816.5,2331.8 817.0,2331.8 817.5,2332.1 818.0,2332.3 818.5,2334.1 819.0,2334.9 819.5,2333.9 820.0,2333.0 820.5,2331.4 821.0,2330.3 821.5,2330.3 822.0,2328.7 822.5,2327.9 823.0,2328.3 823.5,2329.8 824.0,2329.8 824.5,2329.6 825.0,2329.5 825.5,2330.0 826.0,2330.7 826.5,2329.9 827.0,2329.1 827.5,2329.7 828.0,2328.7 828.5,2328.5 829.0,2330.0 829.5,2331.6 830.0,2331.8 830.5,2331.6 831.0,2330.7 831.5,2331.5 832.0,2331.8 832.5,2331.8 833.0,2332.0 833.5,2333.9 834.0,2333.9 834.5,2334.1 835.0,2335.9 835.5,2337.2 836.0,2335.3 836.5,2336.3 837.0,2337.7 837.5,2337.3 838.0,2335.0 838.5,2334.1 839.0,2333.0 839.5,2333.8 840.0,2333.5 840.5,2334.8 841.0,2337.2 841.5,2336.4 842.0,2336.2 842.5,2337.4 843.0,2337.4 843.5,2337.0 844.0,2336.5 844.5,2334.9 845.0,2335.0 845.5,2335.7 846.0,2335.9 846.5,2337.5 847.0,2338.0 847.5,2337.8 848.0,2337.9 848.5,2337.9 849.0,2337.0 849.5,2334.6 850.0,2333.9 850.5,2333.6 851.0,2333.5 851.5,2334.0 852.0,2335.0 852.5,2336.2 853.0,2336.4 853.5,2336.5 854.0,2336.1 854.5,2335.4 855.0,2334.9 855.5,2335.0 856.0,2336.1 856.5,2336.0 857.0,2337.1 857.5,2338.3 858.0,2338.1 858.5,2336.9 859.0,2337.3 859.5,2338.1 860.0,2335.7 860.5,2335.8 861.0,2333.9 861.5,2333.8 862.0,2334.1 862.5,2333.3 863.0,2334.6 863.5,2334.0 864.0,2335.7 864.5,2336.2 865.0,2336.6 865.5,2336.5 866.0,2336.2 866.5,2335.6 867.0,2334.4 867.5,2334.0 868.0,2334.8 868.5,2333.9 869.0,2332.4 869.5,2332.3 870.0,2333.7 870.5,2334.5 871.0,2335.3 871.5,2335.3 872.0,2333.9 872.5,2333.9 873.0,2332.5 873.5,2332.7 874.0,2333.0 874.5,2334.4 875.0,2334.4 875.5,2334.2 876.0,2335.0 876.5,2335.8 877.0,2336.5 877.5,2336.5 878.0,2335.4 878.5,2335.5 879.0,2336.8 879.5,2336.7 880.0,2336.9 880.5,2336.3 881.0,2336.6 881.5,2335.6 882.0,2334.3 882.5,2334.7 883.0,2335.0 883.5,2333.8 884.0,2334.0 884.5,2334.6 885.0,2335.1 885.5,2335.1 886.0,2334.6 886.5,2336.6 887.0,2336.3 887.5,2336.6 888.0,2336.1 888.5,2336.6 889.0,2335.9 889.5,2335.9 890.0,2336.1 890.5,2335.7 891.0,2335.4 891.5,2336.2 892.0,2335.4 892.5,2334.4 893.0,2332.3 893.5,2332.1 894.0,2334.2 894.5,2333.3 895.0,2331.8 895.5,2333.4 896.0,2334.5 896.5,2334.8 897.0,2335.8 897.5,2336.7 898.0,2334.4 898.5,2333.4 899.0,2331.7 899.5,2331.3 900.0,2333.6 900.5,2333.0 901.0,2331.9 901.5,2331.8 902.0,2331.7 902.5,2331.3 903.0,2331.6 903.5,2330.9 904.0,2329.4 904.5,2329.2 905.0,2329.5 905.5,2331.2 906.0,2331.2 906.5,2332.7 907.0,2333.7 907.5,2333.0 908.0,2334.1 908.5,2332.1 909.0,2332.2 909.5,2332.9 910.0,2334.1 910.5,2334.7 911.0,2334.0 911.5,2333.4 912.0,2335.5 912.5,2336.3 913.0,2336.8 913.5,2336.4 914.0,2337.9 914.5,2338.1 915.0,2338.9 915.5,2339.0 916.0,2337.5 916.5,2337.7 917.0,2338.1 917.5,2338.0 918.0,2338.9 918.5,2338.9 919.0,2337.9 919.5,2337.7 920.0,2337.9 920.5,2336.7 921.0,2337.9 921.5,2339.0 922.0,2339.2 922.5,2338.8 923.0,2340.8 923.5,2341.0 924.0,2339.4 924.5,2341.1 925.0,2341.6 925.5,2341.3 926.0,2340.4 926.5,2340.8 927.0,2339.6 927.5,2340.1 928.0,2340.8 928.5,2340.3 929.0,2339.3 929.5,2338.8 930.0,2338.0 930.5,2337.6 931.0,2336.6 931.5,2336.3 932.0,2336.7 932.5,2337.0 933.0,2339.0 933.5,2340.4 934.0,2339.7 934.5,2339.8 935.0,2338.8 935.5,2339.2 936.0,2338.9 936.5,2339.6 937.0,2338.7 937.5,2337.4 938.0,2337.7 938.5,2336.5 939.0,2336.5 939.5,2337.0 940.0,2337.9 940.5,2338.4 941.0,2338.0 941.5,2337.9 942.0,2337.6 942.5,2337.5 943.0,2338.5 943.5,2336.9 944.0,2336.8 944.5,2335.0 945.0,2334.9 945.5,2336.1 946.0,2335.7 946.5,2335.7 947.0,2336.8 947.5,2335.0 948.0,2334.6 948.5,2335.3 949.0,2335.5 949.5,2334.6 950.0,2335.1 950.5,2337.8 951.0,2337.7 951.5,2337.5 952.0,2337.8 952.5,2337.0 953.0,2333.6 953.5,2333.7 954.0,2335.0 954.5,2335.2 955.0,2335.0 955.5,2335.0 956.0,2335.6 956.5,2335.8 957.0,2334.7 957.5,2334.5 958.0,2334.7 958.5,2333.4 959.0,2332.1 959.5,2331.8 960.0,2331.1 960.5,2332.1 961.0,2332.7 961.5,2332.3 962.0,2332.9 962.5,2333.6 963.0,2334.3 963.5,2334.4 964.0,2334.3 964.5,2334.8 965.0,2335.4 965.5,2334.7 966.0,2333.6 966.5,2331.8 967.0,2331.7 967.5,2331.6 968.0,2331.2 968.5,2330.6 969.0,2330.9 969.5,2333.1 970.0,2334.0 970.5,2333.7 971.0,2332.8 971.5,2332.8 972.0,2333.1 972.5,2333.5 973.0,2333.1 973.5,2332.6 974.0,2332.8 974.5,2333.1 975.0,2335.0 975.5,2334.4 976.0,2335.5 976.5,2335.4 977.0,2335.9 977.5,2334.5 978.0,2335.0 978.5,2334.2 979.0,2333.8 979.5,2333.4 980.0,2332.4 980.5,2332.1 981.0,2332.7 981.5,2333.8 982.0,2332.8 982.5,2332.3 983.0,2333.6 983.5,2333.4 984.0,2331.1 984.5,2332.5 985.0,2332.4 985.5,2333.0 986.0,2335.4 986.5,2336.6 987.0,2336.4 987.5,2334.6 988.0,2333.7 988.5,2334.0 989.0,2334.9 989.5,2336.0 990.0,2337.0 990.5,2337.1 991.0,2337.4 991.5,2337.2 992.0,2336.6 992.5,2337.2 993.0,2337.7 993.5,2336.4 994.0,2334.5 994.5,2335.9 995.0,2335.2 995.5,2336.9 996.0,2337.3 996.5,2336.7 997.0,2337.1 997.5,2335.6 998.0,2335.5 998.5,2335.5 999.0,2336.4 999.5,2336.7 1000.0,2336.9 1000.5,2336.8 1001.0,2336.9 1001.5,2335.3 1002.0,2334.3 1002.5,2334.6 1003.0,2335.3 1003.5,2335.5 1004.0,2334.5 1004.5,2334.0 1005.0,2333.3 1005.5,2332.2 1006.0,2331.6 1006.5,2332.2 1007.0,2332.2 1007.5,2334.2 1008.0,2334.5 1008.5,2334.7 1009.0,2334.5 1009.5,2334.9 1010.0,2334.7 1010.5,2334.5 1011.0,2333.4 1011.5,2333.4 1012.0,2334.5 1012.5,2334.0 1013.0,2334.4 1013.5,2333.9 1014.0,2333.9 1014.5,2334.0 1015.5,2334.5 1015.5,2333.0 1015.6,2331.5 1015.6,2330.0 1015.7,2328.5 1015.7,2327.0 1015.8,2325.5 1015.8,2324.0 1015.9,2322.5 1016.0,2321.0 1016.0,2319.5 1016.1,2318.0 1016.2,2316.5 1016.3,2315.0 1016.3,2313.5 1016.4,2312.0 1016.5,2310.5 1016.5,2309.0 1016.6,2307.5 1016.6,2306.0 1016.7,2304.5 1016.7,2303.0 1016.8,2301.5 1016.8,2300.0 1016.8,2298.5 1016.9,2297.0 1016.9,2295.5 1016.9,2294.0 1017.0,2292.5 1017.0,2291.0 1017.0,2289.5 1017.1,2288.0 1017.1,2286.5 1017.1,2285.0 1017.2,2283.5 1017.2,2282.0 1017.2,2280.5 1017.3,2279.0 1017.3,2277.5 1017.3,2276.0 1017.4,2274.5 1017.4,2273.0 1017.5,2271.5 1017.5,2270.0 1017.5,2268.5 1017.6,2267.0 1017.6,2265.5 1017.7,2264.0 1017.7,2262.5 1017.8,2261.0 1017.8,2259.5 1017.9,2258.0 1017.9,2256.5 1018.0,2255.0 1018.1,2253.5 1018.1,2252.0 1018.2,2250.5 1018.2,2249.0 1018.3,2247.5 1018.4,2246.0 1018.4,2244.5 1018.5,2243.1 1018.5,2241.6 1018.6,2240.1 1018.7,2238.6 1018.7,2237.1 1018.8,2235.6 1018.9,2234.1 1018.9,2232.6 1019.0,2231.1 1019.1,2229.6 1019.1,2228.1 1019.2,2226.6 1019.3,2225.1 1019.4,2223.6 1019.5,2222.1 1019.5,2220.6 1019.6,2219.1 1019.7,2217.6 1019.8,2216.1 1019.8,2214.6 1019.9,2213.1 1020.0,2211.6 1020.1,2210.1 1020.2,2208.6 1020.2,2207.1 1020.3,2205.6 1020.4,2204.1 1020.5,2202.6 1020.5,2201.1 1020.6,2199.6 1020.7,2198.1 1020.8,2196.6 1020.8,2195.1 1020.9,2193.6 1021.0,2192.1 1021.1,2190.6 1021.1,2189.1 1021.2,2187.6 1021.3,2186.1 1021.4,2184.6 1021.5,2183.1 1021.5,2181.6 1021.6,2180.1 1021.7,2178.6 1021.8,2177.1 1021.8,2175.6 1021.9,2174.1 1022.0,2172.6 1022.1,2171.1 1022.1,2169.6 1022.2,2168.1 1022.3,2166.6 1022.4,2165.1 1022.4,2163.6 1022.5,2162.2 1022.6,2160.7 1022.6,2159.2 1022.7,2157.7 1022.8,2156.2 1022.8,2154.7 1022.9,2153.2 1023.0,2151.7 1023.0,2150.2 1023.1,2148.7 1023.2,2147.2 1023.2,2145.7 1023.3,2144.2 1023.4,2142.7 1023.4,2141.2 1023.5,2139.7 1023.6,2138.2 1023.6,2136.7 1023.7,2135.2 1023.8,2133.7 1023.8,2132.2 1023.9,2130.7 1024.0,2129.2 1024.0,2127.7 1024.1,2126.2 1024.2,2124.7 1024.2,2123.2 1024.3,2121.7 1024.4,2120.2 1024.5,2118.7 1024.5,2117.2 1024.6,2115.7 1024.7,2114.2 1024.8,2112.7 1024.9,2111.2 1024.9,2109.7 1025.0,2108.2 1025.1,2106.7 1025.2,2105.2 1025.3,2103.7 1025.3,2102.2 1025.4,2100.7 1025.5,2099.2 1025.6,2097.7 1025.7,2096.2 1025.8,2094.7 1025.8,2093.2 1025.9,2091.7 1026.0,2090.2 1026.1,2088.7 1026.1,2087.2 1026.2,2085.7 1026.3,2084.2 1026.4,2082.7 1026.4,2081.2 1026.5,2079.7 1026.6,2078.3 1026.6,2076.8 1026.7,2075.3 1026.8,2073.8 1026.8,2072.3 1026.9,2070.8 1026.9,2069.3 1027.0,2067.8 1027.1,2066.3 1027.1,2064.8 1027.2,2063.3 1027.2,2061.8 1027.3,2060.3 1027.3,2058.8 1027.4,2057.3 1027.5,2055.8 1027.5,2054.3 1027.6,2052.8 1027.6,2051.3 1027.7,2049.8 1027.7,2048.3 1027.8,2046.8 1027.9,2045.3 1027.9,2043.8 1028.0,2042.3 1028.1,2040.8 1028.1,2039.3 1028.2,2037.8 1028.3,2036.3 1028.4,2034.8 1028.4,2033.3 1028.5,2031.8 1028.6,2030.3 1028.7,2028.8 1028.8,2027.3 1028.8,2025.8 1028.9,2024.3 1029.0,2022.8 1029.1,2021.3 1029.2,2019.8 1029.3,2018.3 1029.3,2016.8 1029.4,2015.3 1029.5,2013.8 1029.6,2012.3 1029.7,2010.8 1029.8,2009.3 1029.9,2007.8 1030.0,2006.3 1030.0,2004.8 1030.1,2003.3 1030.2,2001.8 1030.3,2000.3 1030.4,1998.8 1030.4,1997.3 1030.5,1995.8 1030.6,1994.3 1030.7,1992.9 1030.7,1991.4 1030.8,1989.9 1030.9,1988.4 1031.0,1986.9 1031.0,1985.4 1031.1,1983.9 1031.2,1982.4 1031.3,1980.9 1031.3,1979.4 1031.4,1977.9 1031.5,1976.4 1031.6,1974.9 1031.6,1973.4 1031.7,1971.9 1031.8,1970.4 1031.9,1968.9 1032.0,1967.4 1032.0,1965.9 1032.1,1964.4 1032.2,1962.9 1032.3,1961.4 1032.4,1959.9 1032.5,1958.4 1032.6,1956.9 1032.7,1955.4 1032.8,1953.9 1032.9,1952.4 1033.0,1950.9 1033.1,1949.4 1033.2,1947.9 1033.3,1946.4 1033.5,1944.9 1033.6,1943.4 1033.7,1941.9 1033.8,1940.4 1033.9,1939.0 1034.1,1937.5 1034.2,1936.0 1034.3,1934.5 1034.4,1933.0 1034.5,1931.5 1034.7,1930.0 1034.8,1928.5 1034.9,1927.0 1035.0,1925.5 1035.2,1924.0 1035.3,1922.5 1035.4,1921.0 1035.5,1919.5 1035.7,1918.0 1035.8,1916.5 1035.9,1915.0 1036.1,1913.5 1036.2,1912.0 1036.3,1910.6 1036.5,1909.1 1036.6,1907.6 1036.7,1906.1 1036.9,1904.6 1037.0,1903.1 1037.1,1901.6 1037.3,1900.1 1037.4,1898.6 1037.6,1897.1 1037.7,1895.6 1037.8,1894.1 1038.0,1892.6 1038.1,1891.1 1038.2,1889.6 1038.3,1888.1 1038.5,1886.6 1038.6,1885.2 1038.7,1883.7 1038.8,1882.2 1038.9,1880.7 1039.1,1879.2 1039.2,1877.7 1039.3,1876.2 1039.4,1874.7 1039.5,1873.2 1039.6,1871.7 1039.7,1870.2 1039.8,1868.7 1039.9,1867.2 1039.9,1865.7 1040.0,1864.2 1040.1,1862.7 1040.2,1861.2 1040.3,1859.7 1040.4,1858.2 1040.5,1856.7 1040.6,1855.2 1040.7,1853.7 1040.8,1852.2 1040.8,1850.7 1040.9,1849.2 1041.0,1847.7 1041.1,1846.2 1041.2,1844.7 1041.4,1843.2 1041.5,1841.7 1041.6,1840.3 1041.7,1838.8 1041.8,1837.3 1041.9,1835.8 1042.1,1834.3 1042.2,1832.8 1042.3,1831.3 1042.4,1829.8 1042.6,1828.3 1042.7,1826.8 1042.8,1825.3 1043.0,1823.8 1043.1,1822.3 1043.3,1820.8 1043.4,1819.3 1043.6,1817.8 1043.7,1816.3 1043.9,1814.8 1044.0,1813.4 1044.2,1811.9 1044.3,1810.4 1044.5,1808.9 1044.7,1807.4 1044.8,1805.9 1045.0,1804.4 1045.2,1802.9 1045.3,1801.4 1045.5,1799.9 1045.7,1798.5 1045.9,1797.0 1046.1,1795.5 1046.3,1794.0 1046.5,1792.5 1046.7,1791.0 1046.9,1789.5 1047.1,1788.1 1047.3,1786.6 1047.5,1785.1 1047.8,1783.6 1048.0,1782.1 1048.2,1780.6 1048.5,1779.2 1048.7,1777.7 1048.9,1776.2 1049.2,1774.7 1049.4,1773.2 1049.7,1771.8 1049.9,1770.3 1050.1,1768.8 1050.4,1767.3 1050.6,1765.8 1050.8,1764.3 1051.1,1762.9 1051.3,1761.4 1051.5,1759.9 1051.7,1758.4 1052.0,1756.9 1052.2,1755.4 1052.4,1754.0 1052.6,1752.5 1052.9,1751.0 1053.1,1749.5 1053.3,1748.0 1053.5,1746.5 1053.7,1745.1 1054.0,1743.6 1054.2,1742.1 1054.4,1740.6 1054.6,1739.1 1054.9,1737.6 1055.1,1736.2 1055.3,1734.7 1055.5,1733.2 1055.7,1731.7 1056.0,1730.2 1056.2,1728.7 1056.4,1727.3 1056.6,1725.8 1056.8,1724.3 1057.0,1722.8 1057.2,1721.3 1057.5,1719.8 1057.7,1718.3 1057.9,1716.9 1058.1,1715.4 1058.3,1713.9 1058.5,1712.4 1058.7,1710.9 1058.9,1709.4 1059.2,1707.9 1059.4,1706.5 1059.6,1705.0 1059.9,1703.5 1060.1,1702.0 1060.4,1700.6 1060.7,1699.1 1061.0,1697.6 1061.3,1696.1 1061.6,1694.7 1061.9,1693.2 1062.3,1691.8 1062.6,1690.3 1063.0,1688.8 1063.3,1687.4 1063.7,1685.9 1064.0,1684.5 1064.4,1683.0 1064.7,1681.5 1065.0,1680.1 1065.3,1678.6 1065.5,1677.1 1065.8,1675.6 1066.1,1674.2 1066.3,1672.7 1066.6,1671.2 1066.8,1669.7 1067.0,1668.2 1067.3,1666.7 1067.6,1665.3 1067.8,1663.8 1068.1,1662.3 1068.4,1660.9 1068.7,1659.4 1069.1,1657.9 1069.4,1656.5 1069.8,1655.0 1070.2,1653.6 1070.6,1652.1 1071.0,1650.7 1071.5,1649.3 1071.9,1647.8 1072.3,1646.4 1072.8,1645.0 1073.2,1643.5 1073.7,1642.1 1074.1,1640.7 1074.5,1639.2 1075.0,1637.8 1075.4,1636.3 1075.8,1634.9 1076.3,1633.5 1076.7,1632.0 1077.2,1630.6 1077.6,1629.2 1078.1,1627.7 1078.6,1626.3 1079.1,1624.9 1079.6,1623.5 1080.1,1622.1 1080.6,1620.7 1081.2,1619.3 1081.8,1617.9 1082.4,1616.6 1083.1,1615.2 1083.8,1613.9 1084.5,1612.6 1085.3,1611.3 1086.0,1610.0 1086.7,1608.6 1087.5,1607.3 1088.2,1606.0 1088.9,1604.7 1089.5,1603.3 1090.2,1602.0 1090.8,1600.6 1091.3,1599.2 1091.7,1597.6 1092.1,1595.9 1092.5,1594.2 1092.9,1592.6 1093.4,1591.3 1094.0,1590.3 1094.8,1589.7 1096.2,1589.3 1097.9,1589.1 1099.6,1588.8 1101.0,1588.3 1102.0,1587.5 1102.8,1586.2 1103.5,1584.8 1104.3,1583.4 1105.4,1582.4 1106.5,1581.6 1107.8,1580.8 1109.2,1580.0 1110.6,1579.3 1111.9,1578.6 1113.2,1577.8 1114.5,1577.1 1115.8,1576.3 1117.2,1575.6 1118.5,1575.0 1119.9,1574.5 1121.3,1574.0 1122.7,1573.6 1124.2,1573.3 1125.7,1572.9 1127.2,1572.5 1128.7,1572.3 1130.2,1572.0 1131.7,1571.8 1133.2,1571.7 1134.6,1571.7 1136.0,1572.0 1137.3,1572.6 1138.6,1573.5 1139.9,1574.4 1141.3,1575.2 1142.6,1575.9 1144.0,1576.3 1145.5,1576.8 1146.9,1577.2 1148.3,1577.5 1149.8,1577.9 1151.3,1578.2 1152.8,1578.4 1154.3,1578.6 1160.0,1578.9 1160.5,1577.3 1161.0,1575.3 1161.5,1575.1 1162.0,1575.0 1162.5,1575.7 1163.0,1576.8 1163.5,1576.7 1164.0,1578.0 1164.5,1576.9 1165.0,1577.0 1165.5,1577.5 1166.0,1576.9 1166.5,1575.9 1167.0,1576.7 1167.5,1575.4 1168.0,1573.9 1168.5,1574.0 1169.0,1573.7 1169.5,1574.3 1170.0,1573.6 1170.5,1574.2 1171.0,1573.4 1171.5,1575.1 1172.0,1575.6 1172.5,1576.4 1173.0,1575.4 1173.5,1574.6 1174.0,1575.3 1174.5,1576.6 1175.0,1577.9 1175.5,1577.4 1176.0,1577.8 1176.5,1576.9 1177.0,1577.0 1177.5,1577.2 1178.0,1577.4 1178.5,1575.8 1179.0,1575.6 1179.5,1576.6 1180.0,1575.7 1180.5,1576.3 1181.0,1576.5 1181.5,1578.0 1182.0,1579.5 1182.5,1579.4 1183.0,1577.0 1183.5,1575.8 1184.0,1577.7 1184.5,1578.4 1185.0,1576.6 1185.5,1576.5 1186.0,1575.8 1186.5,1574.2 1187.0,1574.4 1187.5,1577.4 1188.0,1579.0 1188.5,1578.8 1189.0,1579.9 1189.5,1580.0 1190.0,1579.9 1190.5,1580.2 1191.0,1582.0 1191.5,1582.1 1192.0,1582.4 1192.5,1582.7 1193.0,1582.8 1193.5,1581.2 1194.0,1579.7 1194.5,1577.9 1195.0,1577.9 1195.5,1577.7 1196.0,1578.3 1196.5,1577.5 1197.0,1578.1 1197.5,1578.8 1198.0,1580.8 1198.5,1580.1 1199.0,1579.9 1199.5,1578.9 1200.0,1578.9 1200.5,1578.7 1201.0,1579.8 1201.5,1580.4 1202.0,1582.3 1202.5,1582.0 1203.0,1583.2 1203.5,1583.0 1204.0,1582.8 1204.5,1581.5 1205.0,1581.0 1205.5,1580.1 1206.0,1579.1 1206.5,1578.9 1207.0,1577.4 1207.5,1577.7 1208.0,1577.8 1208.5,1577.9 1209.0,1577.5 1209.5,1578.9 1210.0,1578.7 1210.5,1579.2 1211.0,1579.7 1211.5,1580.8 1212.0,1582.3 1212.5,1583.6 1213.0,1580.8 1213.5,1582.5 1214.0,1583.2 1214.5,1583.3 1215.0,1582.7 1215.5,1583.6 1216.0,1585.6 1216.5,1586.1 1217.0,1587.0 1217.5,1587.6 1218.0,1588.2 1218.5,1588.7 1219.0,1587.4 1219.5,1588.2 1220.0,1586.8 1220.5,1588.3 1221.0,1588.4 1221.5,1589.4 1222.0,1589.3 1222.5,1589.3 1223.0,1589.3 1223.5,1589.1 1224.0,1588.2 1224.5,1589.6 1225.0,1589.4 1225.5,1590.4 1226.0,1589.6 1226.5,1589.7 1227.0,1589.8 1227.5,1590.4 1228.0,1590.5 1228.5,1590.1 1229.0,1588.8 1229.5,1589.9 1230.0,1588.7 1230.5,1588.8 1231.0,1588.3 1231.5,1590.9 1232.0,1592.5 1232.5,1592.9 1233.0,1592.4 1233.5,1591.9 1234.0,1591.0 1234.5,1590.9 1235.0,1591.1 1235.5,1591.2 1236.0,1590.4 1236.5,1590.8 1237.0,1591.5 1237.5,1591.6 1238.0,1591.5 1238.5,1591.5 1239.0,1592.5 1239.5,1592.9 1240.0,1593.4 1240.5,1592.1 1241.0,1591.3 1241.5,1589.6 1242.0,1590.5 1242.5,1588.7 1243.0,1589.0 1243.5,1589.2 1244.0,1589.6 1244.5,1590.4 1245.0,1591.0 1245.5,1592.0 1246.0,1592.9 1246.5,1594.3 1247.0,1595.3 1247.5,1595.9 1248.0,1594.7 1248.5,1593.8 1249.0,1595.5 1249.5,1594.4 1250.0,1592.7 1250.5,1594.5 1251.0,1594.2 1251.5,1593.5 1252.0,1593.5 1252.5,1593.9 1253.0,1593.5 1253.5,1593.9 1254.0,1593.6 1254.5,1593.8 1255.0,1594.9 1255.5,1596.0 1256.0,1597.3 1256.5,1596.4 1257.0,1594.8 1257.5,1594.9 1258.0,1595.7 1258.5,1594.9 1259.0,1592.8 1259.5,1592.8 1260.0,1592.4 1260.5,1592.7 1261.0,1592.6 1261.5,1593.5 1262.0,1595.3 1262.5,1596.3 1263.0,1596.1 1263.5,1594.7 1264.0,1594.7 1264.5,1595.1 1265.0,1595.0 1265.5,1593.7 1266.0,1594.6 1266.5,1595.5 1267.0,1595.3 1267.5,1594.2 1268.0,1594.8 1268.5,1593.6 1269.0,1596.8 1269.5,1597.5 1270.0,1598.4 1270.5,1598.1 1271.0,1597.9 1271.5,1598.3 1272.0,1598.3 1272.5,1597.6 1273.0,1598.4 1273.5,1597.8 1274.0,1597.9 1274.5,1597.6 1275.0,1597.9 1275.5,1598.4 1276.0,1597.8 1276.5,1598.2 1277.0,1596.7 1277.5,1596.6 1278.0,1595.4 1278.5,1595.4 1279.0,1595.4 1279.5,1596.9 1280.0,1597.4 1280.5,1596.6 1281.0,1597.5 1281.5,1598.5 1282.0,1599.9 1282.5,1601.2 1283.0,1602.1 1283.5,1601.0 1284.0,1600.0 1284.5,1601.6 1285.0,1601.5 1285.5,1601.6 1286.0,1602.1 1286.5,1601.4 1287.0,1599.9 1287.5,1599.8 1288.0,1599.1 1288.5,1598.5 1289.0,1597.3 1289.5,1597.1 1290.0,1595.4 1290.5,1595.6 1291.0,1596.2 1291.5,1595.6 1292.0,1596.8 1292.5,1597.6 1293.0,1598.7 1293.5,1599.4 1294.0,1597.8 1294.5,1599.9 1295.0,1600.6 1295.5,1601.4 1296.0,1601.0 1296.5,1599.7 1297.0,1598.9 1297.5,1598.3 1298.0,1599.0 1298.5,1598.2 1299.0,1599.1 1299.5,1599.5 1300.0,1599.3 1300.5,1600.7 1301.0,1601.4 1301.5,1601.8 1302.0,1600.0 1302.5,1598.6 1303.0,1599.0 1303.5,1600.3 1304.0,1600.5 1304.5,1600.3 1305.0,1599.7 1305.5,1598.8 1306.0,1599.9 1306.5,1599.7 1307.0,1598.7 1307.5,1600.3 1308.0,1602.2 1308.5,1601.4 1309.0,1601.1 1309.5,1601.0 1310.0,1600.8 1310.5,1600.8 1311.0,1601.5 1311.5,1601.2 1312.0,1601.2 1312.5,1602.3 1313.0,1602.7 1313.5,1603.6 1314.0,1604.3 1314.5,1603.0 1315.0,1602.4 1315.5,1601.8 1316.0,1600.0 1316.5,1598.6 1317.0,1597.1 1317.5,1597.3 1318.0,1597.7 1318.5,1598.7 1319.0,1600.1 1319.5,1600.2 1320.0,1599.5 1320.5,1598.4 1321.0,1600.2 1321.5,1600.5 1322.0,1599.7 1322.5,1600.7 1323.0,1601.3 1323.5,1601.9 1324.0,1600.7 1324.5,1601.7 1325.0,1603.7 1325.5,1602.6 1326.0,1602.2 1326.5,1602.3 1327.0,1602.7 1327.5,1602.9 1328.0,1601.8 1328.5,1601.8 1329.0,1601.4 1329.5,1601.3 1330.0,1603.2 1330.5,1603.5 1331.0,1602.8 1331.5,1602.9 1332.0,1602.2 1332.5,1601.5 1333.0,1602.3 1333.5,1602.2 1334.0,1599.4 1334.5,1600.8 1335.0,1603.6 1335.5,1603.9 1336.0,1602.5 1336.5,1603.0 1337.0,1604.2 1337.5,1603.1 1338.0,1603.6 1338.5,1604.0 1339.0,1605.3 1339.5,1605.7 1340.0,1606.0 1340.5,1603.4 1341.0,1601.9 1341.5,1602.5 1342.0,1603.2 1342.5,1604.0 1343.0,1606.2 1343.5,1604.8 1344.0,1604.7 1344.5,1605.5 1345.0,1605.9 1345.5,1605.0 1346.0,1604.9 1346.5,1603.9 1347.0,1604.3 1347.5,1606.0 1348.0,1607.2 1348.5,1607.5 1349.0,1607.5 1349.5,1607.3 1350.0,1606.2 1350.5,1605.5 1351.0,1605.1 1351.5,1604.6 1352.0,1605.1 1352.5,1605.8 1353.0,1607.3 1353.5,1608.3 1354.0,1606.9 1354.5,1606.3 1355.0,1604.2 1355.5,1604.3 1356.0,1605.8 1356.5,1608.2 1357.0,1609.9 1357.5,1609.5 1358.0,1608.7 1358.5,1607.8 1359.0,1607.2 1359.5,1608.0 1360.0,1608.5 1360.5,1608.4 1361.0,1608.0 1361.5,1608.3 1362.0,1607.6 1362.5,1606.9 1363.0,1607.6 1363.5,1606.9 1364.0,1606.8 1364.5,1605.6 1365.0,1605.7 1365.5,1605.7 1366.0,1606.2 1366.5,1607.7 1367.0,1608.3 1367.5,1608.2 1368.0,1609.1 1368.5,1610.0 1369.0,1610.3 1369.5,1610.5 1370.0,1607.8 1370.5,1608.9 1371.0,1609.1 1371.5,1608.6 1372.0,1607.9 1372.5,1607.9 1373.0,1607.9 1373.5,1609.7 1374.0,1609.5 1374.5,1609.8 1375.0,1611.0 1375.5,1609.5 1376.0,1609.8 1376.5,1610.6 1377.0,1610.7 1377.5,1611.6 1378.0,1612.1 1378.5,1612.1 1379.0,1611.0 1379.5,1610.8 1380.0,1611.8 1380.5,1610.7 1381.0,1608.9 1381.5,1608.2 1382.0,1609.4 1382.5,1609.0 1383.0,1609.2 1383.5,1610.6 1384.0,1609.6 1384.5,1609.9 1385.0,1610.2 1385.5,1609.8 1386.0,1610.8 1386.5,1611.0 1387.0,1610.8 1387.5,1610.2 1388.0,1610.8 1388.5,1609.5 1389.0,1608.8 1389.5,1609.0 1390.0,1608.2 1390.5,1607.7 1391.0,1610.5 1391.5,1610.0 1392.0,1610.5 1392.5,1612.3 1393.0,1612.0 1393.5,1612.7 1394.0,1612.6 1394.5,1611.8 1395.0,1610.1 1395.5,1609.0 1396.0,1607.6 1396.5,1608.5 1397.0,1608.3 1397.5,1608.3 1398.0,1608.7 1398.5,1609.0 1399.0,1609.6 1399.5,1610.1 1400.0,1609.8 1400.5,1609.2 1401.0,1608.8 1401.5,1610.1 1402.0,1609.1 1402.5,1607.9 1403.0,1607.2 1403.5,1608.5 1404.0,1608.3 1404.5,1609.6 1405.0,1610.4 1405.5,1611.7 1406.0,1611.0 1406.5,1609.9 1407.0,1609.0 1407.5,1609.9 1408.0,1611.3 1408.5,1610.5 1409.0,1610.1 1409.5,1611.0 1410.0,1610.4 1410.5,1610.9 1411.0,1609.7 1411.5,1609.7 1412.0,1610.5 1412.5,1609.3 1413.0,1610.1 1413.5,1609.9 1414.0,1610.5 1414.5,1608.9 1415.0,1608.9 1415.5,1610.0 1416.0,1609.0 1416.5,1609.2 1417.0,1609.0 1417.5,1610.2 1418.0,1609.8 1418.5,1609.3 1419.0,1610.3 1419.5,1610.6 1420.0,1611.9 1420.5,1611.8 1421.0,1614.1 1421.5,1613.7 1422.0,1610.7 1422.5,1611.1 1423.0,1610.5 1423.5,1610.3 1424.0,1610.6 1424.5,1612.3 1425.0,1611.4 1425.5,1613.4 1426.0,1612.5 1426.5,1613.5 1427.0,1612.4 1427.5,1610.8 1428.0,1609.5 1428.5,1609.5 1429.0,1610.2 1429.5,1610.7 1430.0,1608.9 1430.5,1609.7 1431.0,1609.3 1431.5,1608.8 1432.0,1609.4 1432.5,1610.3 1433.0,1610.9 1433.5,1612.3 1434.0,1613.6 1434.5,1613.6 1435.0,1613.7 1435.5,1612.8 1436.0,1613.4 1436.5,1614.1 1437.0,1614.5 1437.5,1614.5 1438.0,1614.0 1438.5,1613.4 1439.0,1612.7 1439.5,1612.4 1440.0,1612.2 1440.5,1611.2 1441.0,1612.4 1441.5,1610.9 1442.0,1611.7 1442.5,1613.3 1443.0,1614.0 1443.5,1613.3 1444.0,1612.3 1444.5,1611.0 1445.0,1611.5 1445.5,1610.9 1446.0,1610.4 1446.5,1611.7 1447.0,1613.3 1447.5,1613.5 1448.0,1613.3 1448.5,1613.3 1449.0,1612.8 1449.5,1612.4 1450.0,1612.1 1450.5,1612.4 1451.0,1612.4 1451.5,1612.8 1452.0,1613.7 1452.5,1615.7 1453.0,1615.6 1453.5,1615.4 1454.0,1614.6 1454.5,1614.0 1455.0,1612.9 1455.5,1612.8 1456.0,1614.0 1456.5,1614.3 1457.0,1612.0 1457.5,1612.2 1458.0,1612.2 1458.5,1611.8 1459.0,1611.7 1459.5,1611.1 1460.0,1610.3 1460.5,1610.6 1461.0,1610.0 1461.5,1612.1 1462.0,1612.4 1462.5,1611.9 1463.0,1612.1 1463.5,1613.1 1464.0,1614.7 1464.5,1616.1 1465.0,1615.5 1465.5,1614.2 1466.0,1612.3 1466.5,1612.7 1467.0,1613.6 1467.5,1613.8 1468.0,1613.8 1468.5,1613.8 1469.0,1614.2 1469.5,1615.2 1470.0,1616.1 1470.5,1616.5 1471.0,1617.0 1471.5,1616.0 1472.0,1616.6 1472.5,1615.0 1473.0,1613.8 1473.5,1614.2 1474.0,1613.7 1474.5,1612.3 1475.0,1613.0 1475.5,1614.0 1476.0,1613.7 1476.5,1614.1 1477.0,1613.1 1477.5,1613.4 1478.0,1613.8 1478.5,1614.6 1479.0,1614.7 1479.5,1615.2 1480.0,1615.7 1480.5,1613.7 1481.0,1613.3 1481.5,1614.3 1482.0,1615.7 1482.5,1616.0 1483.0,1615.7 1483.5,1615.1 1484.0,1615.5 1484.5,1616.2 1485.0,1615.8 1485.5,1615.2 1486.0,1616.7 1486.5,1616.6 1487.0,1615.0 1487.5,1615.7 1488.0,1615.4 1488.5,1615.7 1489.0,1616.2 1489.5,1617.4 1490.0,1617.2 1490.5,1615.3 1491.0,1613.8 1491.5,1614.3 1492.0,1615.2 1492.5,1614.6 1493.0,1615.1 1493.5,1615.9 1494.0,1615.8 1494.5,1615.4 1495.0,1614.7 1495.5,1613.6 1496.0,1612.6 1496.5,1613.7 1497.0,1612.8 1497.5,1614.2 1498.0,1614.7 1498.5,1616.7 1499.0,1617.2 1499.5,1617.8 1500.0,1618.5 1500.5,1617.3 1501.0,1615.8 1501.5,1615.0 1502.0,1613.8 1502.5,1613.4 1503.0,1613.7 1503.5,1614.6 1504.0,1614.2 1504.5,1614.7 1505.0,1614.2 1505.5,1614.4 1506.0,1615.5 1506.5,1616.4 1507.0,1618.0 1507.5,1619.9 1508.0,1619.3 1508.5,1619.4 1509.0,1618.6 1509.5,1617.1 1510.0,1616.8 1510.5,1617.7 1511.0,1617.3 1511.5,1617.4 1512.0,1616.7 1512.5,1616.4 1513.0,1617.3 1513.5,1616.5 1514.0,1615.1 1514.5,1616.1 1515.0,1617.0 1515.5,1616.6 1516.0,1617.0 1516.5,1617.0 1517.0,1617.4 1517.5,1618.4 1518.0,1619.1 1518.5,1618.5 1519.0,1618.1 1519.5,1617.7 1520.0,1618.0 1520.5,1617.9 1521.0,1616.8 1521.5,1616.1 1522.0,1617.4 1522.5,1617.2 1523.0,1616.2 1523.5,1617.0 1524.0,1615.9 1524.5,1615.5 1525.0,1615.5 1525.5,1617.3 1526.0,1618.1 1526.5,1617.2 1527.0,1617.4 1527.5,1616.0 1528.0,1615.8 1528.5,1616.2 1529.0,1616.9 1529.5,1616.7 1530.0,1616.8 1530.5,1616.9 1531.0,1617.6 1531.5,1617.1 1532.0,1618.0 1532.5,1617.2 1533.0,1618.1 1533.5,1619.2 1534.0,1619.1 1534.5,1619.2 1535.0,1618.5 1535.5,1616.3 1536.0,1617.0 1536.5,1618.2 1537.0,1617.9 1537.5,1617.9 1538.0,1619.0 1538.5,1619.2 1539.0,1617.8 1539.5,1618.0 1540.0,1617.7 1540.5,1617.7 1541.0,1617.7 1541.5,1616.6 1542.0,1617.4 1542.5,1618.1 1543.0,1616.7 1543.5,1617.2 1544.0,1617.2 1544.5,1617.3 1545.0,1616.3 1545.5,1616.4 1546.0,1617.2 1546.5,1616.9 1547.0,1616.7 1547.5,1617.7 1548.0,1618.4 1548.5,1619.0 1549.0,1620.8 1549.5,1621.1 1550.0,1619.5 1550.5,1620.3 1551.0,1618.5 1551.5,1615.9 1552.0,1615.0 1552.5,1615.3 1553.0,1616.3 1553.5,1614.5 1554.0,1614.4 1554.5,1615.8 1555.0,1615.3 1555.5,1615.7 1556.0,1615.6 1556.5,1617.4 1557.0,1617.5 1557.5,1617.5 1558.0,1617.5 1558.5,1618.3 1559.0,1616.8 1559.5,1618.7 1560.0,1619.7 1560.5,1618.7 1561.0,1616.7 1561.5,1617.7 1562.0,1617.7 1562.5,1617.4 1563.0,1616.5 1563.5,1617.5 1564.0,1617.2 1564.5,1616.1 1565.0,1616.5 1565.5,1617.4 1566.0,1618.6 1566.5,1619.3 1567.0,1619.4 1567.5,1618.4 1568.0,1618.2 1568.5,1617.3 1569.0,1617.3 1569.5,1616.8 1570.0,1617.6 1570.5,1618.5 1571.0,1617.7 1571.5,1618.5 1572.0,1618.5 1572.5,1617.4 1573.0,1619.0 1573.5,1618.6 1574.0,1617.5 1574.5,1618.1 1575.0,1618.8 1575.5,1620.1 1576.0,1620.4 1576.5,1619.6 1577.0,1619.2 1577.5,1618.5 1578.0,1617.6 1578.5,1618.3 1579.0,1619.9 1579.5,1619.2 1580.0,1620.4 1580.5,1621.9 1581.0,1621.8 1581.5,1621.4 1582.0,1619.7 1582.5,1620.8 1583.0,1621.0 1583.5,1620.3 1584.0,1620.1 1584.5,1620.0 1585.0,1620.7 1585.5,1619.5 1586.0,1619.5 1586.5,1621.1 1587.0,1620.3 1587.5,1620.5 1588.0,1621.2 1588.5,1620.6 1589.0,1620.2 1589.5,1620.8 1590.0,1619.1 1590.5,1619.7 1591.0,1619.3 1591.5,1619.6 1592.0,1620.5 1592.5,1620.5 1593.0,1620.4 1593.5,1621.3 1594.0,1620.5 1594.5,1622.0 1595.0,1621.9 1595.5,1622.1 1596.0,1622.6 1596.5,1622.8 1597.0,1621.3 1597.5,1623.2 1598.0,1622.5 1598.5,1619.0 1599.0,1617.7 1599.5,1618.2 1600.0,1619.2 1600.5,1620.6 1601.0,1621.6 1601.5,1622.5 1602.0,1623.7 1602.5,1621.6 1603.0,1620.6 1603.5,1621.3 1604.0,1620.9 1604.5,1619.4 1605.0,1620.0 1605.5,1620.5 1606.0,1620.5 1606.5,1621.6 1607.0,1621.8 1607.5,1619.8 1608.0,1619.1 1608.5,1619.7 1609.0,1621.3 1609.5,1620.8 1610.0,1619.8 1610.5,1620.2 1611.0,1621.0 1611.5,1620.4 1612.0,1620.8 1612.5,1620.6 1613.0,1621.6 1613.5,1622.0 1614.0,1620.7 1614.5,1621.6 1615.0,1622.0 1615.5,1621.5 1616.0,1621.1 1616.5,1623.3 1617.0,1625.4 1617.5,1623.5 1618.0,1622.6 1618.5,1623.1 1619.0,1622.2 1619.5,1621.8 1620.0,1622.9 1620.5,1623.7 1621.0,1622.9 1621.5,1622.4 1622.0,1622.3 1622.5,1621.3 1623.0,1621.6 1623.5,1623.6 1624.0,1622.3 1624.5,1621.7 1625.0,1621.5 1625.5,1621.6 1626.0,1622.7 1626.5,1621.5 1627.0,1623.1 1627.5,1623.1 1628.0,1623.6 1628.5,1623.6 1629.0,1622.0 1629.5,1620.2 1630.0,1620.5 1630.5,1620.6 1631.0,1621.3 1631.5,1620.2 1632.0,1621.3 1632.5,1619.7 1633.0,1618.6 1633.5,1617.7 1634.0,1619.9 1634.5,1622.0 1635.0,1622.5 1635.5,1623.5 1636.0,1624.9 1636.5,1624.9 1637.0,1623.5 1637.5,1623.7 1638.0,1623.6 1638.5,1623.5 1639.0,1620.6 1639.5,1619.5 1640.0,1620.5 1640.5,1619.8 1641.0,1619.6 1641.5,1620.1 1642.0,1620.1 1642.5,1619.6 1643.0,1619.7 1643.5,1619.6 1644.0,1619.6 1644.5,1621.5 1645.0,1622.9 1645.5,1622.9 1646.0,1623.8 1646.5,1623.2 1647.0,1622.5 1647.5,1622.8 1648.0,1624.1 1648.5,1622.3 1649.0,1621.9 1649.5,1623.2 1650.0,1622.3 1650.5,1621.1 1651.0,1621.7 1651.5,1622.8 1652.0,1623.0 1652.5,1623.9 1653.0,1624.0 1653.5,1623.7 1654.0,1622.4 1654.5,1622.6 1655.0,1622.4 1655.5,1620.6 1656.0,1620.2 1656.5,1621.4 1657.0,1620.0 1657.5,1618.9 1658.0,1619.7 1658.5,1618.8 1659.0,1617.9 1659.5,1619.3 1660.0,1621.0 1660.5,1622.2 1661.0,1621.5 1661.5,1622.8 1662.0,1623.2 1662.5,1620.8 1663.0,1621.8 1663.5,1622.4 1664.0,1621.7 1664.5,1621.0 1665.0,1620.6 1665.5,1621.7 1666.0,1621.4 1666.5,1620.8 1667.0,1621.7 1667.5,1622.1 1668.0,1622.3 1668.5,1623.6 1669.0,1623.8 1669.5,1623.9 1670.0,1624.5 1670.5,1621.8 1671.0,1620.3 1671.5,1620.9 1672.0,1621.7 1672.5,1621.4 1673.0,1621.0 1673.5,1622.4 1674.0,1622.6 1674.5,1623.0 1675.0,1624.4 1675.5,1624.4 1676.0,1623.5 1676.5,1622.7 1677.0,1621.1 1677.5,1620.0 1678.0,1619.0 1678.5,1619.6 1679.0,1620.7 1679.5,1622.4 1680.0,1621.7 1680.5,1621.8 1681.0,1620.7 1681.5,1621.4 1682.0,1620.8 1682.5,1620.9 1683.0,1622.4 1683.5,1622.7 1684.0,1622.3 1684.5,1621.9 1685.0,1622.1 1685.5,1622.6 1686.0,1621.4 1686.5,1621.2 1687.0,1622.7 1687.5,1622.2 1688.0,1623.5 1688.5,1624.2 1689.0,1623.4 1689.5,1623.5 1690.0,1623.3 1690.5,1620.7 1691.0,1620.4 1691.5,1621.4 1692.0,1622.4 1692.5,1623.0 1693.0,1624.9 1693.5,1624.9 1694.0,1624.3 1694.5,1622.7 1695.0,1621.5 1695.5,1621.0 1696.0,1622.0 1696.5,1622.0 1697.0,1622.1 1697.5,1622.4 1698.0,1623.2 1698.5,1625.9 1699.0,1626.9 1699.5,1626.0 1700.0,1625.7 1700.5,1625.6 1701.0,1626.0 1701.5,1627.3 1702.0,1627.2 1702.5,1627.4 1703.0,1628.2 1703.5,1628.1 1704.0,1627.7 1704.5,1627.7 1705.0,1627.0 1705.5,1626.7 1706.0,1627.0 1706.5,1626.7 1707.0,1627.0 1707.5,1626.8 1708.0,1626.8 1708.5,1627.5 1709.0,1628.2 1709.5,1628.1 1710.0,1627.6 1710.5,1627.9 1711.0,1628.0 1711.5,1626.4 1712.0,1624.1 1712.5,1623.6 1713.0,1625.7 1713.5,1625.9 1714.0,1624.8 1714.5,1625.2 1715.0,1626.4 1715.5,1626.3 1716.0,1627.0 1716.5,1627.5 1717.0,1626.4 1717.5,1627.3 1718.0,1628.1 1718.5,1627.2 1719.0,1625.9 1719.5,1625.4 1720.0,1626.8 1720.5,1626.1 1721.0,1626.9 1721.5,1627.1 1722.0,1625.6 1722.5,1626.7 1723.0,1625.7 1723.5,1625.3 1724.0,1627.3 1724.5,1626.5 1725.0,1626.9 1725.5,1626.0 1726.0,1627.4 1726.5,1627.6 1727.0,1627.3 1727.5,1627.2 1728.0,1627.6 1728.5,1626.3 1729.0,1626.1 1729.5,1625.2 1730.0,1623.7 1730.5,1623.4 1731.0,1624.2 1731.5,1623.5 1732.0,1623.7 1732.5,1623.2 1733.0,1624.2 1733.5,1623.3 1734.0,1622.3 1734.5,1623.0 1735.0,1623.5 1735.5,1624.6 1736.0,1624.7 1736.5,1624.5 1737.0,1625.5 1737.5,1625.7 1738.0,1624.4 1738.5,1625.0 1739.0,1626.9 1739.5,1626.3 1740.0,1624.2 1740.5,1623.5 1741.0,1622.8 1741.5,1620.3 1742.0,1620.3 1742.5,1619.9 1743.0,1621.5 1743.5,1624.2 1744.0,1626.9 1744.5,1626.9 1745.0,1627.7 1745.5,1626.2 1746.0,1625.5 1746.5,1624.2 1747.0,1621.4 1747.5,1621.8 1748.0,1623.2 1748.5,1622.7 1749.0,1621.5 1749.5,1621.4 1750.0,1620.3" fill="none" stroke="#ff0000" stroke-width="7" stroke-linejoin="round" stroke-linecap="butt"/>
<rect x="1379" y="2128" width="287.5" height="250" fill="#fff" stroke="#000" stroke-width="3.75"/>
<line x1="1411.6" y1="2191" x2="1585.9" y2="2191" stroke="#0000ff" stroke-width="7.2"/>
<line x1="1411.6" y1="2306" x2="1585.9" y2="2306" stroke="#ff0000" stroke-width="7.2"/>
<text class="t" x="1603.3" y="2199.2">i</text><text class="s" x="1616.3" y="2226.3">q</text>
<text class="s" x="1616" y="2293">*</text>
<text class="t" x="1603.3" y="2323.3">i</text><text class="s" x="1616.3" y="2350.2">q</text>
<rect x="281.5" y="2885.5" width="1467.5" height="976.5" fill="none" stroke="#000" stroke-width="3.75"/>
<path d="M281.5 3862.0V3847.0M281.5 2885.5V2900.5M648.4 3862.0V3847.0M648.4 2885.5V2900.5M1015.2 3862.0V3847.0M1015.2 2885.5V2900.5M1382.1 3862.0V3847.0M1382.1 2885.5V2900.5M1749.0 3862.0V3847.0M1749.0 2885.5V2900.5M281.5 3862.0H296.5M1749.0 3862.0H1734.0M281.5 3739.9H296.5M1749.0 3739.9H1734.0M281.5 3617.9H296.5M1749.0 3617.9H1734.0M281.5 3495.8H296.5M1749.0 3495.8H1734.0M281.5 3373.8H296.5M1749.0 3373.8H1734.0M281.5 3251.7H296.5M1749.0 3251.7H1734.0M281.5 3129.6H296.5M1749.0 3129.6H1734.0M281.5 3007.6H296.5M1749.0 3007.6H1734.0M281.5 2885.5H296.5M1749.0 2885.5H1734.0" stroke="#000" stroke-width="3.75" fill="none"/>
<text class="t" x="281.5" y="3932.0" text-anchor="middle">0.3</text>
<text class="t" x="648.4" y="3932.0" text-anchor="middle">0.4</text>
<text class="t" x="1015.2" y="3932.0" text-anchor="middle">0.5</text>
<text class="t" x="1382.1" y="3932.0" text-anchor="middle">0.6</text>
<text class="t" x="1749.0" y="3932.0" text-anchor="middle">0.7</text>
<text class="t" x="264" y="3883.0" text-anchor="end">800</text>
<text class="t" x="264" y="3760.9" text-anchor="end">850</text>
<text class="t" x="264" y="3638.9" text-anchor="end">900</text>
<text class="t" x="264" y="3516.8" text-anchor="end">950</text>
<text class="t" y="3394.8"><tspan x="142.4" dy="3" font-family="IPAGothic, Liberation Sans, sans-serif">1</tspan><tspan x="168.9" dy="-3">0</tspan><tspan x="200.6" dy="0">0</tspan><tspan x="232.3" dy="0">0</tspan></text>
<text class="t" y="3272.7"><tspan x="142.4" dy="3" font-family="IPAGothic, Liberation Sans, sans-serif">1</tspan><tspan x="168.9" dy="-3">0</tspan><tspan x="200.6" dy="0">5</tspan><tspan x="232.3" dy="0">0</tspan></text>
<text class="t" y="3150.6"><tspan x="142.4" dy="3" font-family="IPAGothic, Liberation Sans, sans-serif">1</tspan><tspan x="174.1" dy="0" font-family="IPAGothic, Liberation Sans, sans-serif">1</tspan><tspan x="200.6" dy="-3">0</tspan><tspan x="232.3" dy="0">0</tspan></text>
<text class="t" y="3028.6"><tspan x="142.4" dy="3" font-family="IPAGothic, Liberation Sans, sans-serif">1</tspan><tspan x="174.1" dy="0" font-family="IPAGothic, Liberation Sans, sans-serif">1</tspan><tspan x="200.6" dy="-3">5</tspan><tspan x="232.3" dy="0">0</tspan></text>
<text class="t" y="2906.5"><tspan x="142.4" dy="3" font-family="IPAGothic, Liberation Sans, sans-serif">1</tspan><tspan x="168.9" dy="-3">2</tspan><tspan x="200.6" dy="0">0</tspan><tspan x="232.3" dy="0">0</tspan></text>
<text class="t" transform="translate(98,3375) rotate(-90)" text-anchor="middle">speed/(r/min)</text>
<text class="c" x="1005" y="4095.8" text-anchor="middle">(<tspan font-weight="bold" font-size="64">c</tspan>)</text>
<polyline points="281.0,3372.3 282.0,3372.3 283.0,3372.2 284.0,3372.1 285.0,3372.1 286.0,3372.2 287.0,3372.3 288.0,3372.4 289.0,3372.3 290.0,3372.3 291.0,3372.4 292.0,3372.4 293.0,3372.3 294.0,3372.2 295.0,3372.3 296.0,3372.3 297.0,3372.1 298.0,3372.0 299.0,3371.9 300.0,3371.9 301.0,3371.9 302.0,3372.1 303.0,3372.2 304.0,3372.3 305.0,3372.3 306.0,3372.2 307.0,3372.0 308.0,3372.1 309.0,3372.3 310.0,3372.3 311.0,3372.1 312.0,3372.1 313.0,3372.2 314.0,3372.3 315.0,3372.4 316.0,3372.4 317.0,3372.4 318.0,3372.5 319.0,3372.4 320.0,3372.4 321.0,3372.4 322.0,3372.4 323.0,3372.3 324.0,3372.4 325.0,3372.5 326.0,3372.4 327.0,3372.5 328.0,3372.5 329.0,3372.6 330.0,3372.7 331.0,3372.6 332.0,3372.4 333.0,3372.5 334.0,3372.5 335.0,3372.6 336.0,3372.6 337.0,3372.6 338.0,3372.7 339.0,3372.7 340.0,3372.6 341.0,3372.5 342.0,3372.4 343.0,3372.4 344.0,3372.3 345.0,3372.3 346.0,3372.5 347.0,3372.7 348.0,3372.6 349.0,3372.4 350.0,3372.4 351.0,3372.4 352.0,3372.3 353.0,3372.3 354.0,3372.6 355.0,3372.8 356.0,3372.7 357.0,3372.6 358.0,3372.5 359.0,3372.6 360.0,3372.7 361.0,3372.6 362.0,3372.6 363.0,3372.6 364.0,3372.6 365.0,3372.5 366.0,3372.4 367.0,3372.5 368.0,3372.6 369.0,3372.8 370.0,3372.8 371.0,3372.7 372.0,3372.7 373.0,3372.7 374.0,3372.8 375.0,3372.7 376.0,3372.6 377.0,3372.5 378.0,3372.4 379.0,3372.2 380.0,3372.2 381.0,3372.3 382.0,3372.5 383.0,3372.8 384.0,3372.9 385.0,3372.7 386.0,3372.6 387.0,3372.7 388.0,3372.7 389.0,3372.7 390.0,3372.7 391.0,3372.8 392.0,3372.7 393.0,3372.6 394.0,3372.6 395.0,3372.6 396.0,3372.6 397.0,3372.6 398.0,3372.7 399.0,3372.8 400.0,3372.8 401.0,3372.7 402.0,3372.6 403.0,3372.5 404.0,3372.3 405.0,3372.4 406.0,3372.5 407.0,3372.5 408.0,3372.6 409.0,3372.6 410.0,3372.7 411.0,3372.7 412.0,3372.8 413.0,3372.7 414.0,3372.7 415.0,3372.9 416.0,3373.0 417.0,3372.9 418.0,3372.7 419.0,3372.7 420.0,3372.7 421.0,3372.8 422.0,3372.8 423.0,3372.7 424.0,3372.6 425.0,3372.6 426.0,3372.7 427.0,3372.9 428.0,3373.0 429.0,3372.9 430.0,3372.8 431.0,3372.7 432.0,3372.7 433.0,3372.7 434.0,3372.7 435.0,3372.7 436.0,3372.6 437.0,3372.6 438.0,3372.7 439.0,3372.9 440.0,3372.8 441.0,3372.7 442.0,3372.9 443.0,3372.9 444.0,3372.8 445.0,3372.7 446.0,3372.6 447.0,3372.6 448.0,3372.8 449.0,3372.9 450.0,3372.9 451.0,3372.8 452.0,3372.9 453.0,3372.8 454.0,3372.7 455.0,3372.7 456.0,3372.8 457.0,3372.9 458.0,3373.0 459.0,3372.9 460.0,3372.9 461.0,3372.8 462.0,3372.9 463.0,3372.9 464.0,3372.9 465.0,3372.9 466.0,3373.0 467.0,3373.2 468.0,3373.2 469.0,3373.0 470.0,3372.8 471.0,3372.8 472.0,3373.1 473.0,3373.2 474.0,3373.1 475.0,3373.1 476.0,3373.2 477.0,3373.2 478.0,3373.2 479.0,3373.1 480.0,3373.1 481.0,3373.0 482.0,3373.1 483.0,3373.2 484.0,3373.4 485.0,3373.5 486.0,3373.3 487.0,3372.9 488.0,3372.8 489.0,3372.9 490.0,3372.9 491.0,3373.0 492.0,3373.0 493.0,3372.7 494.0,3372.6 495.0,3372.9 496.0,3373.0 497.0,3373.0 498.0,3372.9 499.0,3372.8 500.0,3372.7 501.0,3372.8 502.0,3372.8 503.0,3372.8 504.0,3373.0 505.0,3373.1 506.0,3373.0 507.0,3372.9 508.0,3372.8 509.0,3372.8 510.0,3372.9 511.0,3373.0 512.0,3373.0 513.0,3373.2 514.0,3373.3 515.0,3373.3 516.0,3373.2 517.0,3373.2 518.0,3373.1 519.0,3373.0 520.0,3372.9 521.0,3373.0 522.0,3373.2 523.0,3373.2 524.0,3373.2 525.0,3373.2 526.0,3373.2 527.0,3373.0 528.0,3372.8 529.0,3372.6 530.0,3372.5 531.0,3372.5 532.0,3372.9 533.0,3373.2 534.0,3373.2 535.0,3373.0 536.0,3373.0 537.0,3373.2 538.0,3373.3 539.0,3373.2 540.0,3373.2 541.0,3373.3 542.0,3373.4 543.0,3373.3 544.0,3373.2 545.0,3373.1 546.0,3373.2 547.0,3373.2 548.0,3373.2 549.0,3373.1 550.0,3373.1 551.0,3373.1 552.0,3373.2 553.0,3373.5 554.0,3373.5 555.0,3373.4 556.0,3373.3 557.0,3373.1 558.0,3372.9 559.0,3373.1 560.0,3373.2 561.0,3373.2 562.0,3373.1 563.0,3373.1 564.0,3373.3 565.0,3373.4 566.0,3373.4 567.0,3373.4 568.0,3373.4 569.0,3373.3 570.0,3373.1 571.0,3373.1 572.0,3373.4 573.0,3373.6 574.0,3373.6 575.0,3373.5 576.0,3373.4 577.0,3373.3 578.0,3373.3 579.0,3373.3 580.0,3373.4 581.0,3373.6 582.0,3373.5 583.0,3373.3 584.0,3373.2 585.0,3373.3 586.0,3373.5 587.0,3373.5 588.0,3373.4 589.0,3373.2 590.0,3373.2 591.0,3373.3 592.0,3373.4 593.0,3373.3 594.0,3373.3 595.0,3373.3 596.0,3373.2 597.0,3373.1 598.0,3373.1 599.0,3373.2 600.0,3373.3 601.0,3373.4 602.0,3373.5 603.0,3373.6 604.0,3373.4 605.0,3373.3 606.0,3373.3 607.0,3373.3 608.0,3373.3 609.0,3373.5 610.0,3373.7 611.0,3373.5 612.0,3373.3 613.0,3373.2 614.0,3373.2 615.0,3373.2 616.0,3373.2 617.0,3373.4 618.0,3373.5 619.0,3373.6 620.0,3373.7 621.0,3373.7 622.0,3373.7 623.0,3373.7 624.0,3373.5 625.0,3373.2 626.0,3373.2 627.0,3373.4 628.0,3373.7 629.0,3373.6 630.0,3373.3 631.0,3373.2 632.0,3373.3 633.0,3373.4 634.0,3373.4 635.0,3373.5 636.0,3373.5 637.0,3373.4 638.0,3373.4 639.0,3373.5 640.0,3373.5 641.0,3373.7 642.0,3373.8 643.0,3373.7 644.0,3373.4 645.0,3373.2 646.0,3373.2 647.0,3373.1 648.0,3373.2 649.0,3373.5 650.0,3373.6 651.0,3373.4 652.0,3373.2 653.0,3373.2 654.0,3373.4 655.0,3373.7 656.0,3373.8 657.0,3373.6 658.0,3373.3 659.0,3373.3 660.0,3373.3 661.0,3373.3 662.0,3373.3 663.0,3373.3 664.0,3373.4 665.0,3373.7 666.0,3373.8 667.0,3373.7 668.0,3373.6 669.0,3373.5 670.0,3373.5 671.0,3373.4 672.0,3373.3 673.0,3373.2 674.0,3373.3 675.0,3373.5 676.0,3373.6 677.0,3373.6 678.0,3373.5 679.0,3373.3 680.0,3373.3 681.0,3373.5 682.0,3373.6 683.0,3373.6 684.0,3373.7 685.0,3373.5 686.0,3373.4 687.0,3373.4 688.0,3373.6 689.0,3373.5 690.0,3373.5 691.0,3373.7 692.0,3373.8 693.0,3373.8 694.0,3373.6 695.0,3373.5 696.0,3373.6 697.0,3373.8 698.0,3373.9 699.0,3373.8 700.0,3373.6 701.0,3373.4 702.0,3373.3 703.0,3373.5 704.0,3373.6 705.0,3373.6 706.0,3373.7 707.0,3373.6 708.0,3373.5 709.0,3373.4 710.0,3373.5 711.0,3373.5 712.0,3373.4 713.0,3373.4 714.0,3373.4 715.0,3373.3 716.0,3373.4 717.0,3373.5 718.0,3373.6 719.0,3373.5 720.0,3373.4 721.0,3373.4 722.0,3373.5 723.0,3373.6 724.0,3373.7 725.0,3373.8 726.0,3373.7 727.0,3373.6 728.0,3373.6 729.0,3373.6 730.0,3373.7 731.0,3373.7 732.0,3373.7 733.0,3373.6 734.0,3373.5 735.0,3373.6 736.0,3373.7 737.0,3373.7 738.0,3373.6 739.0,3373.5 740.0,3373.4 741.0,3373.5 742.0,3373.4 743.0,3373.4 744.0,3373.6 745.0,3373.6 746.0,3373.5 747.0,3373.3 748.0,3373.4 749.0,3373.5 750.0,3373.6 751.0,3373.5 752.0,3373.6 753.0,3373.7 754.0,3373.6 755.0,3373.6 756.0,3373.5 757.0,3373.3 758.0,3373.5 759.0,3373.8 760.0,3373.8 761.0,3373.8 762.0,3373.8 763.0,3373.8 764.0,3373.9 765.0,3373.9 766.0,3373.6 767.0,3373.4 768.0,3373.3 769.0,3373.5 770.0,3373.8 771.0,3373.8 772.0,3373.6 773.0,3373.5 774.0,3373.6 775.0,3373.7 776.0,3373.5 777.0,3373.5 778.0,3373.7 779.0,3373.7 780.0,3373.6 781.0,3373.5 782.0,3373.5 783.0,3373.6 784.0,3373.9 785.0,3373.9 786.0,3373.7 787.0,3373.5 788.0,3373.4 789.0,3373.5 790.0,3373.7 791.0,3373.7 792.0,3373.7 793.0,3373.6 794.0,3373.7 795.0,3373.9 796.0,3374.1 797.0,3374.1 798.0,3373.9 799.0,3373.7 800.0,3373.7 801.0,3373.6 802.0,3373.6 803.0,3373.6 804.0,3373.7 805.0,3373.8 806.0,3373.8 807.0,3373.8 808.0,3373.7 809.0,3373.6 810.0,3373.6 811.0,3373.7 812.0,3373.7 813.0,3373.8 814.0,3373.7 815.0,3373.6 816.0,3373.6 817.0,3373.6 818.0,3373.6 819.0,3373.5 820.0,3373.5 821.0,3373.7 822.0,3373.8 823.0,3373.8 824.0,3373.7 825.0,3373.7 826.0,3373.6 827.0,3373.7 828.0,3373.7 829.0,3373.7 830.0,3373.7 831.0,3373.8 832.0,3373.9 833.0,3373.8 834.0,3373.8 835.0,3373.8 836.0,3373.7 837.0,3373.8 838.0,3373.9 839.0,3374.0 840.0,3373.9 841.0,3373.8 842.0,3373.9 843.0,3374.0 844.0,3374.0 845.0,3373.8 846.0,3373.8 847.0,3374.0 848.0,3374.2 849.0,3374.1 850.0,3373.9 851.0,3373.8 852.0,3373.8 853.0,3373.7 854.0,3373.5 855.0,3373.6 856.0,3373.6 857.0,3373.6 858.0,3373.8 859.0,3374.0 860.0,3374.0 861.0,3374.1 862.0,3374.3 863.0,3374.3 864.0,3374.0 865.0,3373.8 866.0,3373.7 867.0,3373.7 868.0,3373.9 869.0,3374.0 870.0,3374.0 871.0,3374.0 872.0,3373.9 873.0,3373.9 874.0,3374.1 875.0,3374.2 876.0,3374.2 877.0,3374.1 878.0,3373.9 879.0,3373.8 880.0,3373.7 881.0,3373.7 882.0,3373.9 883.0,3373.9 884.0,3373.8 885.0,3373.7 886.0,3373.7 887.0,3373.7 888.0,3373.6 889.0,3373.5 890.0,3373.8 891.0,3374.0 892.0,3374.0 893.0,3373.9 894.0,3373.9 895.0,3373.8 896.0,3373.6 897.0,3373.8 898.0,3374.1 899.0,3374.3 900.0,3374.4 901.0,3374.3 902.0,3374.2 903.0,3374.1 904.0,3374.1 905.0,3374.0 906.0,3374.0 907.0,3374.2 908.0,3374.3 909.0,3374.1 910.0,3374.0 911.0,3374.1 912.0,3374.2 913.0,3374.2 914.0,3374.1 915.0,3373.9 916.0,3373.9 917.0,3374.0 918.0,3374.1 919.0,3374.0 920.0,3373.8 921.0,3373.8 922.0,3373.8 923.0,3373.8 924.0,3373.8 925.0,3374.0 926.0,3374.1 927.0,3374.1 928.0,3374.1 929.0,3374.1 930.0,3374.1 931.0,3374.0 932.0,3373.9 933.0,3373.8 934.0,3373.9 935.0,3373.9 936.0,3374.0 937.0,3374.0 938.0,3373.9 939.0,3373.9 940.0,3374.0 941.0,3374.0 942.0,3374.0 943.0,3374.0 944.0,3374.3 945.0,3374.6 946.0,3374.5 947.0,3374.3 948.0,3374.2 949.0,3374.2 950.0,3374.0 951.0,3373.9 952.0,3373.9 953.0,3373.9 954.0,3373.8 955.0,3373.6 956.0,3373.7 957.0,3373.9 958.0,3373.9 959.0,3374.0 960.0,3374.0 961.0,3374.1 962.0,3374.0 963.0,3374.0 964.0,3373.9 965.0,3373.8 966.0,3373.9 967.0,3374.0 968.0,3374.0 969.0,3373.9 970.0,3373.9 971.0,3374.0 972.0,3373.9 973.0,3373.7 974.0,3373.7 975.0,3374.1 976.0,3374.4 977.0,3374.3 978.0,3374.2 979.0,3374.3 980.0,3374.3 981.0,3374.1 982.0,3374.1 983.0,3374.2 984.0,3374.2 985.0,3374.1 986.0,3374.1 987.0,3374.3 988.0,3374.4 989.0,3374.2 990.0,3373.9 991.0,3373.7 992.0,3373.8 993.0,3373.8 994.0,3373.9 995.0,3373.8 996.0,3373.6 997.0,3373.5 998.0,3373.6 999.0,3373.6 1000.0,3373.5 1001.0,3373.5 1002.0,3373.4 1003.0,3373.4 1004.0,3373.7 1005.0,3373.9 1006.0,3374.0 1007.0,3374.0 1008.0,3373.7 1009.0,3373.3 1010.0,3373.2 1011.0,3373.3 1012.0,3373.4 1013.0,3373.4 1014.0,3373.3 1015.0,3373.4 1016.0,3374.7 1017.0,3378.1 1018.0,3382.6 1019.0,3388.0 1020.0,3392.3 1021.0,3396.0 1022.0,3399.4 1023.0,3402.8 1024.0,3406.5 1025.0,3410.0 1026.0,3413.1 1027.0,3415.7 1028.0,3418.1 1029.0,3420.4 1030.0,3422.8 1031.0,3425.0 1032.0,3427.0 1033.0,3429.0 1034.0,3430.9 1035.0,3432.7 1036.0,3434.4 1037.0,3436.1 1038.0,3437.8 1039.0,3439.5 1040.0,3440.8 1041.0,3442.0 1042.0,3443.3 1043.0,3444.4 1044.0,3445.3 1045.0,3446.4 1046.0,3447.4 1047.0,3448.3 1048.0,3449.1 1049.0,3449.8 1050.0,3450.4 1051.0,3451.0 1052.0,3451.6 1053.0,3452.2 1054.0,3452.6 1055.0,3453.1 1056.0,3453.8 1057.0,3454.6 1058.0,3455.2 1059.0,3455.6 1060.0,3455.8 1061.0,3456.1 1062.0,3456.4 1063.0,3456.7 1064.0,3457.0 1065.0,3457.1 1066.0,3457.3 1067.0,3457.5 1068.0,3457.8 1069.0,3458.1 1070.0,3458.5 1071.0,3458.7 1072.0,3458.8 1073.0,3458.7 1074.0,3458.5 1075.0,3458.5 1076.0,3458.6 1077.0,3458.7 1078.0,3458.8 1079.0,3458.8 1080.0,3458.8 1081.0,3459.0 1082.0,3459.1 1083.0,3459.2 1084.0,3459.2 1085.0,3459.1 1086.0,3459.1 1087.0,3459.0 1088.0,3458.8 1089.0,3458.6 1090.0,3458.2 1091.0,3457.9 1092.0,3457.7 1093.0,3457.6 1094.0,3457.4 1095.0,3457.2 1096.0,3457.2 1097.0,3456.9 1098.0,3456.4 1099.0,3456.0 1100.0,3455.9 1101.0,3455.8 1102.0,3455.5 1103.0,3455.3 1104.0,3455.0 1105.0,3454.8 1106.0,3454.5 1107.0,3454.4 1108.0,3454.4 1109.0,3454.1 1110.0,3453.6 1111.0,3453.1 1112.0,3452.9 1113.0,3452.7 1114.0,3452.3 1115.0,3452.0 1116.0,3451.8 1117.0,3451.4 1118.0,3451.1 1119.0,3450.7 1120.0,3450.3 1121.0,3450.0 1122.0,3449.9 1123.0,3449.7 1124.0,3449.3 1125.0,3448.8 1126.0,3448.6 1127.0,3448.5 1128.0,3448.2 1129.0,3447.8 1130.0,3447.4 1131.0,3447.1 1132.0,3446.7 1133.0,3446.3 1134.0,3446.1 1135.0,3446.1 1136.0,3445.9 1137.0,3445.6 1138.0,3445.2 1139.0,3444.9 1140.0,3444.5 1141.0,3444.4 1142.0,3444.2 1143.0,3443.8 1144.0,3443.2 1145.0,3442.8 1146.0,3442.6 1147.0,3442.2 1148.0,3441.7 1149.0,3441.1 1150.0,3440.9 1151.0,3440.7 1152.0,3440.5 1153.0,3440.3 1154.0,3439.9 1155.0,3439.5 1156.0,3439.1 1157.0,3439.0 1158.0,3438.8 1159.0,3438.4 1160.0,3438.0 1161.0,3437.7 1162.0,3437.4 1163.0,3436.9 1164.0,3436.6 1165.0,3436.4 1166.0,3436.1 1167.0,3435.8 1168.0,3435.4 1169.0,3435.1 1170.0,3434.8 1171.0,3434.4 1172.0,3434.1 1173.0,3433.9 1174.0,3433.7 1175.0,3433.3 1176.0,3433.1 1177.0,3432.8 1178.0,3432.5 1179.0,3432.1 1180.0,3432.0 1181.0,3432.0 1182.0,3432.0 1183.0,3431.6 1184.0,3431.1 1185.0,3430.7 1186.0,3430.4 1187.0,3430.1 1188.0,3429.8 1189.0,3429.4 1190.0,3429.2 1191.0,3429.0 1192.0,3428.7 1193.0,3428.3 1194.0,3427.9 1195.0,3427.7 1196.0,3427.5 1197.0,3427.1 1198.0,3426.7 1199.0,3426.2 1200.0,3425.9 1201.0,3425.8 1202.0,3425.7 1203.0,3425.4 1204.0,3425.1 1205.0,3424.8 1206.0,3424.4 1207.0,3424.0 1208.0,3423.8 1209.0,3423.6 1210.0,3423.3 1211.0,3423.0 1212.0,3422.6 1213.0,3422.4 1214.0,3422.2 1215.0,3421.9 1216.0,3421.5 1217.0,3421.4 1218.0,3421.4 1219.0,3421.2 1220.0,3420.8 1221.0,3420.6 1222.0,3420.4 1223.0,3420.1 1224.0,3419.8 1225.0,3419.6 1226.0,3419.3 1227.0,3419.1 1228.0,3419.0 1229.0,3418.8 1230.0,3418.5 1231.0,3418.4 1232.0,3418.4 1233.0,3418.3 1234.0,3418.1 1235.0,3418.0 1236.0,3417.9 1237.0,3417.6 1238.0,3417.3 1239.0,3417.0 1240.0,3417.0 1241.0,3416.9 1242.0,3416.6 1243.0,3416.1 1244.0,3415.9 1245.0,3415.9 1246.0,3415.9 1247.0,3415.7 1248.0,3415.5 1249.0,3415.3 1250.0,3415.1 1251.0,3414.9 1252.0,3414.6 1253.0,3414.2 1254.0,3414.1 1255.0,3414.0 1256.0,3413.9 1257.0,3413.7 1258.0,3413.4 1259.0,3413.2 1260.0,3412.9 1261.0,3412.6 1262.0,3412.5 1263.0,3412.5 1264.0,3412.5 1265.0,3412.4 1266.0,3412.2 1267.0,3412.0 1268.0,3411.7 1269.0,3411.5 1270.0,3411.4 1271.0,3411.3 1272.0,3410.9 1273.0,3410.7 1274.0,3410.5 1275.0,3410.3 1276.0,3410.1 1277.0,3410.0 1278.0,3409.8 1279.0,3409.6 1280.0,3409.4 1281.0,3409.3 1282.0,3409.2 1283.0,3409.1 1284.0,3409.1 1285.0,3409.0 1286.0,3408.8 1287.0,3408.5 1288.0,3408.1 1289.0,3407.8 1290.0,3407.8 1291.0,3407.6 1292.0,3407.4 1293.0,3407.0 1294.0,3406.7 1295.0,3406.5 1296.0,3406.4 1297.0,3406.4 1298.0,3406.3 1299.0,3406.1 1300.0,3406.0 1301.0,3405.8 1302.0,3405.5 1303.0,3405.2 1304.0,3405.0 1305.0,3404.9 1306.0,3405.0 1307.0,3405.1 1308.0,3404.9 1309.0,3404.7 1310.0,3404.4 1311.0,3404.3 1312.0,3404.3 1313.0,3404.2 1314.0,3404.2 1315.0,3404.2 1316.0,3403.9 1317.0,3403.6 1318.0,3403.4 1319.0,3403.3 1320.0,3403.2 1321.0,3403.1 1322.0,3403.1 1323.0,3402.8 1324.0,3402.5 1325.0,3402.4 1326.0,3402.4 1327.0,3402.2 1328.0,3401.9 1329.0,3401.8 1330.0,3401.7 1331.0,3401.9 1332.0,3402.0 1333.0,3401.8 1334.0,3401.3 1335.0,3401.1 1336.0,3401.1 1337.0,3401.1 1338.0,3400.9 1339.0,3400.8 1340.0,3400.8 1341.0,3400.7 1342.0,3400.4 1343.0,3400.1 1344.0,3399.9 1345.0,3399.8 1346.0,3399.7 1347.0,3399.8 1348.0,3399.9 1349.0,3399.9 1350.0,3400.0 1351.0,3399.8 1352.0,3399.5 1353.0,3399.4 1354.0,3399.3 1355.0,3399.0 1356.0,3398.8 1357.0,3398.6 1358.0,3398.6 1359.0,3398.5 1360.0,3398.2 1361.0,3398.0 1362.0,3398.1 1363.0,3398.1 1364.0,3398.0 1365.0,3397.9 1366.0,3397.8 1367.0,3397.6 1368.0,3397.3 1369.0,3397.1 1370.0,3397.1 1371.0,3397.1 1372.0,3396.9 1373.0,3396.7 1374.0,3396.6 1375.0,3396.6 1376.0,3396.5 1377.0,3396.5 1378.0,3396.6 1379.0,3396.4 1380.0,3396.0 1381.0,3396.0 1382.0,3396.0 1383.0,3395.8 1384.0,3395.5 1385.0,3395.2 1386.0,3395.0 1387.0,3394.9 1388.0,3394.8 1389.0,3394.7 1390.0,3394.5 1391.0,3394.3 1392.0,3394.1 1393.0,3394.1 1394.0,3394.0 1395.0,3394.0 1396.0,3394.1 1397.0,3394.0 1398.0,3393.9 1399.0,3393.7 1400.0,3393.5 1401.0,3393.4 1402.0,3393.3 1403.0,3393.2 1404.0,3393.1 1405.0,3393.1 1406.0,3393.0 1407.0,3392.7 1408.0,3392.6 1409.0,3392.5 1410.0,3392.5 1411.0,3392.5 1412.0,3392.4 1413.0,3392.1 1414.0,3391.8 1415.0,3391.7 1416.0,3391.7 1417.0,3391.9 1418.0,3392.1 1419.0,3391.9 1420.0,3391.6 1421.0,3391.6 1422.0,3391.8 1423.0,3391.7 1424.0,3391.7 1425.0,3391.8 1426.0,3391.9 1427.0,3391.7 1428.0,3391.4 1429.0,3391.2 1430.0,3391.1 1431.0,3390.8 1432.0,3390.7 1433.0,3390.6 1434.0,3390.6 1435.0,3390.6 1436.0,3390.8 1437.0,3390.8 1438.0,3390.5 1439.0,3390.3 1440.0,3390.3 1441.0,3390.4 1442.0,3390.3 1443.0,3390.0 1444.0,3389.7 1445.0,3389.6 1446.0,3389.6 1447.0,3389.8 1448.0,3389.7 1449.0,3389.5 1450.0,3389.5 1451.0,3389.5 1452.0,3389.5 1453.0,3389.3 1454.0,3389.1 1455.0,3388.9 1456.0,3389.0 1457.0,3389.0 1458.0,3388.8 1459.0,3388.8 1460.0,3388.8 1461.0,3388.7 1462.0,3388.7 1463.0,3388.6 1464.0,3388.6 1465.0,3388.4 1466.0,3388.2 1467.0,3388.2 1468.0,3388.2 1469.0,3388.2 1470.0,3388.3 1471.0,3388.4 1472.0,3388.3 1473.0,3388.2 1474.0,3388.3 1475.0,3388.3 1476.0,3388.3 1477.0,3388.1 1478.0,3387.9 1479.0,3387.8 1480.0,3387.6 1481.0,3387.5 1482.0,3387.4 1483.0,3387.3 1484.0,3387.2 1485.0,3387.0 1486.0,3387.0 1487.0,3387.2 1488.0,3387.4 1489.0,3387.3 1490.0,3387.1 1491.0,3386.9 1492.0,3386.8 1493.0,3386.8 1494.0,3386.9 1495.0,3387.0 1496.0,3386.9 1497.0,3386.6 1498.0,3386.3 1499.0,3386.1 1500.0,3386.1 1501.0,3386.2 1502.0,3386.4 1503.0,3386.3 1504.0,3386.1 1505.0,3386.2 1506.0,3386.3 1507.0,3386.0 1508.0,3385.9 1509.0,3385.9 1510.0,3385.9 1511.0,3386.0 1512.0,3386.1 1513.0,3386.1 1514.0,3386.1 1515.0,3385.9 1516.0,3385.6 1517.0,3385.3 1518.0,3385.3 1519.0,3385.3 1520.0,3385.3 1521.0,3385.3 1522.0,3385.2 1523.0,3385.1 1524.0,3385.3 1525.0,3385.3 1526.0,3385.2 1527.0,3385.2 1528.0,3385.1 1529.0,3384.7 1530.0,3384.4 1531.0,3384.3 1532.0,3384.4 1533.0,3384.4 1534.0,3384.5 1535.0,3384.6 1536.0,3384.4 1537.0,3384.3 1538.0,3384.4 1539.0,3384.2 1540.0,3384.0 1541.0,3384.1 1542.0,3384.1 1543.0,3384.0 1544.0,3384.0 1545.0,3383.8 1546.0,3383.7 1547.0,3383.8 1548.0,3383.8 1549.0,3383.7 1550.0,3383.7 1551.0,3383.8 1552.0,3383.9 1553.0,3383.8 1554.0,3383.6 1555.0,3383.5 1556.0,3383.4 1557.0,3383.5 1558.0,3383.5 1559.0,3383.5 1560.0,3383.3 1561.0,3383.0 1562.0,3383.0 1563.0,3383.1 1564.0,3383.2 1565.0,3383.2 1566.0,3383.2 1567.0,3383.1 1568.0,3383.0 1569.0,3382.7 1570.0,3382.4 1571.0,3382.2 1572.0,3382.4 1573.0,3382.5 1574.0,3382.6 1575.0,3382.6 1576.0,3382.7 1577.0,3382.7 1578.0,3382.6 1579.0,3382.3 1580.0,3382.2 1581.0,3382.2 1582.0,3382.1 1583.0,3382.0 1584.0,3382.1 1585.0,3382.0 1586.0,3381.8 1587.0,3381.7 1588.0,3381.7 1589.0,3381.8 1590.0,3381.9 1591.0,3381.8 1592.0,3381.7 1593.0,3381.5 1594.0,3381.6 1595.0,3381.6 1596.0,3381.5 1597.0,3381.3 1598.0,3381.0 1599.0,3381.1 1600.0,3381.4 1601.0,3381.5 1602.0,3381.4 1603.0,3381.2 1604.0,3381.1 1605.0,3381.4 1606.0,3381.4 1607.0,3381.2 1608.0,3380.9 1609.0,3380.8 1610.0,3381.1 1611.0,3381.4 1612.0,3381.3 1613.0,3381.1 1614.0,3380.9 1615.0,3380.7 1616.0,3380.7 1617.0,3380.5 1618.0,3380.5 1619.0,3380.6 1620.0,3380.7 1621.0,3380.6 1622.0,3380.5 1623.0,3380.2 1624.0,3380.1 1625.0,3380.1 1626.0,3380.0 1627.0,3379.9 1628.0,3379.8 1629.0,3379.8 1630.0,3379.7 1631.0,3379.6 1632.0,3379.7 1633.0,3380.0 1634.0,3380.2 1635.0,3380.2 1636.0,3379.9 1637.0,3379.8 1638.0,3379.9 1639.0,3379.9 1640.0,3379.9 1641.0,3379.9 1642.0,3379.7 1643.0,3379.4 1644.0,3379.4 1645.0,3379.6 1646.0,3379.5 1647.0,3379.4 1648.0,3379.4 1649.0,3379.5 1650.0,3379.6 1651.0,3379.5 1652.0,3379.5 1653.0,3379.4 1654.0,3379.2 1655.0,3379.2 1656.0,3379.2 1657.0,3379.0 1658.0,3378.9 1659.0,3379.1 1660.0,3379.3 1661.0,3379.3 1662.0,3379.2 1663.0,3379.3 1664.0,3379.2 1665.0,3379.3 1666.0,3379.4 1667.0,3379.3 1668.0,3379.0 1669.0,3378.9 1670.0,3378.8 1671.0,3378.7 1672.0,3378.7 1673.0,3379.1 1674.0,3379.3 1675.0,3379.1 1676.0,3379.0 1677.0,3379.1 1678.0,3379.2 1679.0,3379.1 1680.0,3378.7 1681.0,3378.5 1682.0,3378.3 1683.0,3378.1 1684.0,3378.1 1685.0,3378.3 1686.0,3378.3 1687.0,3378.4 1688.0,3378.6 1689.0,3378.8 1690.0,3378.8 1691.0,3378.6 1692.0,3378.5 1693.0,3378.3 1694.0,3378.3 1695.0,3378.3 1696.0,3378.1 1697.0,3378.0 1698.0,3378.1 1699.0,3378.2 1700.0,3378.4 1701.0,3378.2 1702.0,3378.1 1703.0,3377.9 1704.0,3377.8 1705.0,3378.0 1706.0,3378.3 1707.0,3378.5 1708.0,3378.3 1709.0,3378.0 1710.0,3378.0 1711.0,3378.0 1712.0,3378.1 1713.0,3378.1 1714.0,3378.0 1715.0,3377.9 1716.0,3377.8 1717.0,3377.6 1718.0,3377.5 1719.0,3377.4 1720.0,3377.5 1721.0,3377.5 1722.0,3377.6 1723.0,3377.6 1724.0,3377.6 1725.0,3377.4 1726.0,3377.4 1727.0,3377.5 1728.0,3377.8 1729.0,3377.9 1730.0,3377.8 1731.0,3377.7 1732.0,3377.6 1733.0,3377.5 1734.0,3377.5 1735.0,3377.3 1736.0,3377.3 1737.0,3377.7 1738.0,3377.7 1739.0,3377.4 1740.0,3377.3 1741.0,3377.3 1742.0,3377.2 1743.0,3377.1 1744.0,3377.1 1745.0,3377.3 1746.0,3377.4 1747.0,3377.5 1748.0,3377.5 1749.0,3377.5 1750.0,3377.3" fill="none" stroke="#0000ff" stroke-width="7" stroke-linejoin="round" stroke-linecap="butt"/>
</svg>
</body></html>
